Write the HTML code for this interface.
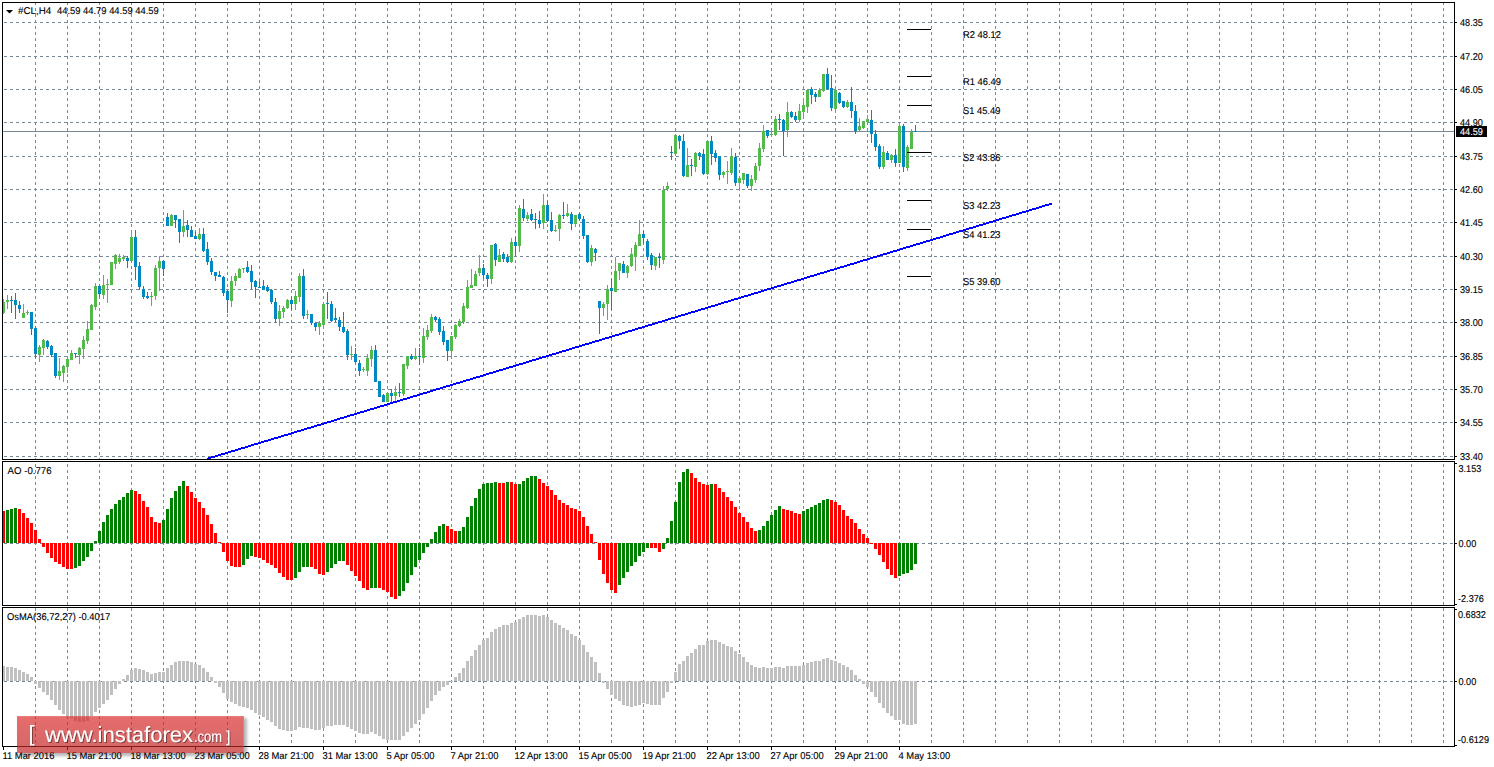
<!DOCTYPE html>
<html><head><meta charset="utf-8"><title>#CL,H4</title>
<style>html,body{margin:0;padding:0;background:#fff;width:1494px;height:767px;overflow:hidden}svg{display:block}text{font-family:"Liberation Sans",sans-serif;text-rendering:geometricPrecision}</style>
</head><body><svg width="1494" height="767" viewBox="0 0 1494 767" shape-rendering="crispEdges" font-family="Liberation Sans, sans-serif"><path d="M35 3h1v2h-1zM35 8h1v3h-1zM35 14h1v3h-1zM35 20h1v3h-1zM35 26h1v3h-1zM35 32h1v3h-1zM35 38h1v3h-1zM35 44h1v3h-1zM35 50h1v3h-1zM35 56h1v3h-1zM35 62h1v3h-1zM35 68h1v3h-1zM35 74h1v3h-1zM35 80h1v3h-1zM35 86h1v3h-1zM35 92h1v3h-1zM35 98h1v3h-1zM35 104h1v3h-1zM35 110h1v3h-1zM35 116h1v3h-1zM35 122h1v3h-1zM35 128h1v3h-1zM35 134h1v3h-1zM35 140h1v3h-1zM35 146h1v3h-1zM35 152h1v3h-1zM35 158h1v3h-1zM35 164h1v3h-1zM35 170h1v3h-1zM35 176h1v3h-1zM35 182h1v3h-1zM35 188h1v3h-1zM35 194h1v3h-1zM35 200h1v3h-1zM35 206h1v3h-1zM35 212h1v3h-1zM35 218h1v3h-1zM35 224h1v3h-1zM35 230h1v3h-1zM35 236h1v3h-1zM35 242h1v3h-1zM35 248h1v3h-1zM35 254h1v3h-1zM35 260h1v3h-1zM35 266h1v3h-1zM35 272h1v3h-1zM35 278h1v3h-1zM35 284h1v3h-1zM35 290h1v3h-1zM35 296h1v3h-1zM35 302h1v3h-1zM35 308h1v3h-1zM35 314h1v3h-1zM35 320h1v3h-1zM35 326h1v3h-1zM35 332h1v3h-1zM35 338h1v3h-1zM35 344h1v3h-1zM35 350h1v3h-1zM35 356h1v3h-1zM35 362h1v3h-1zM35 368h1v3h-1zM35 374h1v3h-1zM35 380h1v3h-1zM35 386h1v3h-1zM35 392h1v3h-1zM35 398h1v3h-1zM35 404h1v3h-1zM35 410h1v3h-1zM35 416h1v3h-1zM35 422h1v3h-1zM35 428h1v3h-1zM35 434h1v3h-1zM35 440h1v3h-1zM35 446h1v3h-1zM35 452h1v3h-1zM35 458h1v1h-1zM35 464h1v3h-1zM35 470h1v3h-1zM35 476h1v3h-1zM35 482h1v3h-1zM35 488h1v3h-1zM35 494h1v3h-1zM35 500h1v3h-1zM35 506h1v3h-1zM35 512h1v3h-1zM35 518h1v3h-1zM35 524h1v3h-1zM35 530h1v3h-1zM35 536h1v3h-1zM35 542h1v3h-1zM35 548h1v3h-1zM35 554h1v3h-1zM35 560h1v3h-1zM35 566h1v3h-1zM35 572h1v3h-1zM35 578h1v3h-1zM35 584h1v3h-1zM35 590h1v3h-1zM35 596h1v3h-1zM35 602h1v3h-1zM35 608h1v3h-1zM35 614h1v3h-1zM35 620h1v3h-1zM35 626h1v3h-1zM35 632h1v3h-1zM35 638h1v3h-1zM35 644h1v3h-1zM35 650h1v3h-1zM35 656h1v3h-1zM35 662h1v3h-1zM35 668h1v3h-1zM35 674h1v3h-1zM35 680h1v3h-1zM35 686h1v3h-1zM35 692h1v3h-1zM35 698h1v3h-1zM35 704h1v3h-1zM35 710h1v3h-1zM35 716h1v3h-1zM35 722h1v3h-1zM35 728h1v3h-1zM35 734h1v3h-1zM35 740h1v3h-1zM67 3h1v2h-1zM67 8h1v3h-1zM67 14h1v3h-1zM67 20h1v3h-1zM67 26h1v3h-1zM67 32h1v3h-1zM67 38h1v3h-1zM67 44h1v3h-1zM67 50h1v3h-1zM67 56h1v3h-1zM67 62h1v3h-1zM67 68h1v3h-1zM67 74h1v3h-1zM67 80h1v3h-1zM67 86h1v3h-1zM67 92h1v3h-1zM67 98h1v3h-1zM67 104h1v3h-1zM67 110h1v3h-1zM67 116h1v3h-1zM67 122h1v3h-1zM67 128h1v3h-1zM67 134h1v3h-1zM67 140h1v3h-1zM67 146h1v3h-1zM67 152h1v3h-1zM67 158h1v3h-1zM67 164h1v3h-1zM67 170h1v3h-1zM67 176h1v3h-1zM67 182h1v3h-1zM67 188h1v3h-1zM67 194h1v3h-1zM67 200h1v3h-1zM67 206h1v3h-1zM67 212h1v3h-1zM67 218h1v3h-1zM67 224h1v3h-1zM67 230h1v3h-1zM67 236h1v3h-1zM67 242h1v3h-1zM67 248h1v3h-1zM67 254h1v3h-1zM67 260h1v3h-1zM67 266h1v3h-1zM67 272h1v3h-1zM67 278h1v3h-1zM67 284h1v3h-1zM67 290h1v3h-1zM67 296h1v3h-1zM67 302h1v3h-1zM67 308h1v3h-1zM67 314h1v3h-1zM67 320h1v3h-1zM67 326h1v3h-1zM67 332h1v3h-1zM67 338h1v3h-1zM67 344h1v3h-1zM67 350h1v3h-1zM67 356h1v3h-1zM67 362h1v3h-1zM67 368h1v3h-1zM67 374h1v3h-1zM67 380h1v3h-1zM67 386h1v3h-1zM67 392h1v3h-1zM67 398h1v3h-1zM67 404h1v3h-1zM67 410h1v3h-1zM67 416h1v3h-1zM67 422h1v3h-1zM67 428h1v3h-1zM67 434h1v3h-1zM67 440h1v3h-1zM67 446h1v3h-1zM67 452h1v3h-1zM67 458h1v1h-1zM67 464h1v3h-1zM67 470h1v3h-1zM67 476h1v3h-1zM67 482h1v3h-1zM67 488h1v3h-1zM67 494h1v3h-1zM67 500h1v3h-1zM67 506h1v3h-1zM67 512h1v3h-1zM67 518h1v3h-1zM67 524h1v3h-1zM67 530h1v3h-1zM67 536h1v3h-1zM67 542h1v3h-1zM67 548h1v3h-1zM67 554h1v3h-1zM67 560h1v3h-1zM67 566h1v3h-1zM67 572h1v3h-1zM67 578h1v3h-1zM67 584h1v3h-1zM67 590h1v3h-1zM67 596h1v3h-1zM67 602h1v3h-1zM67 608h1v3h-1zM67 614h1v3h-1zM67 620h1v3h-1zM67 626h1v3h-1zM67 632h1v3h-1zM67 638h1v3h-1zM67 644h1v3h-1zM67 650h1v3h-1zM67 656h1v3h-1zM67 662h1v3h-1zM67 668h1v3h-1zM67 674h1v3h-1zM67 680h1v3h-1zM67 686h1v3h-1zM67 692h1v3h-1zM67 698h1v3h-1zM67 704h1v3h-1zM67 710h1v3h-1zM67 716h1v3h-1zM67 722h1v3h-1zM67 728h1v3h-1zM67 734h1v3h-1zM67 740h1v3h-1zM99 3h1v2h-1zM99 8h1v3h-1zM99 14h1v3h-1zM99 20h1v3h-1zM99 26h1v3h-1zM99 32h1v3h-1zM99 38h1v3h-1zM99 44h1v3h-1zM99 50h1v3h-1zM99 56h1v3h-1zM99 62h1v3h-1zM99 68h1v3h-1zM99 74h1v3h-1zM99 80h1v3h-1zM99 86h1v3h-1zM99 92h1v3h-1zM99 98h1v3h-1zM99 104h1v3h-1zM99 110h1v3h-1zM99 116h1v3h-1zM99 122h1v3h-1zM99 128h1v3h-1zM99 134h1v3h-1zM99 140h1v3h-1zM99 146h1v3h-1zM99 152h1v3h-1zM99 158h1v3h-1zM99 164h1v3h-1zM99 170h1v3h-1zM99 176h1v3h-1zM99 182h1v3h-1zM99 188h1v3h-1zM99 194h1v3h-1zM99 200h1v3h-1zM99 206h1v3h-1zM99 212h1v3h-1zM99 218h1v3h-1zM99 224h1v3h-1zM99 230h1v3h-1zM99 236h1v3h-1zM99 242h1v3h-1zM99 248h1v3h-1zM99 254h1v3h-1zM99 260h1v3h-1zM99 266h1v3h-1zM99 272h1v3h-1zM99 278h1v3h-1zM99 284h1v3h-1zM99 290h1v3h-1zM99 296h1v3h-1zM99 302h1v3h-1zM99 308h1v3h-1zM99 314h1v3h-1zM99 320h1v3h-1zM99 326h1v3h-1zM99 332h1v3h-1zM99 338h1v3h-1zM99 344h1v3h-1zM99 350h1v3h-1zM99 356h1v3h-1zM99 362h1v3h-1zM99 368h1v3h-1zM99 374h1v3h-1zM99 380h1v3h-1zM99 386h1v3h-1zM99 392h1v3h-1zM99 398h1v3h-1zM99 404h1v3h-1zM99 410h1v3h-1zM99 416h1v3h-1zM99 422h1v3h-1zM99 428h1v3h-1zM99 434h1v3h-1zM99 440h1v3h-1zM99 446h1v3h-1zM99 452h1v3h-1zM99 458h1v1h-1zM99 464h1v3h-1zM99 470h1v3h-1zM99 476h1v3h-1zM99 482h1v3h-1zM99 488h1v3h-1zM99 494h1v3h-1zM99 500h1v3h-1zM99 506h1v3h-1zM99 512h1v3h-1zM99 518h1v3h-1zM99 524h1v3h-1zM99 530h1v3h-1zM99 536h1v3h-1zM99 542h1v3h-1zM99 548h1v3h-1zM99 554h1v3h-1zM99 560h1v3h-1zM99 566h1v3h-1zM99 572h1v3h-1zM99 578h1v3h-1zM99 584h1v3h-1zM99 590h1v3h-1zM99 596h1v3h-1zM99 602h1v3h-1zM99 608h1v3h-1zM99 614h1v3h-1zM99 620h1v3h-1zM99 626h1v3h-1zM99 632h1v3h-1zM99 638h1v3h-1zM99 644h1v3h-1zM99 650h1v3h-1zM99 656h1v3h-1zM99 662h1v3h-1zM99 668h1v3h-1zM99 674h1v3h-1zM99 680h1v3h-1zM99 686h1v3h-1zM99 692h1v3h-1zM99 698h1v3h-1zM99 704h1v3h-1zM99 710h1v3h-1zM99 716h1v3h-1zM99 722h1v3h-1zM99 728h1v3h-1zM99 734h1v3h-1zM99 740h1v3h-1zM131 3h1v2h-1zM131 8h1v3h-1zM131 14h1v3h-1zM131 20h1v3h-1zM131 26h1v3h-1zM131 32h1v3h-1zM131 38h1v3h-1zM131 44h1v3h-1zM131 50h1v3h-1zM131 56h1v3h-1zM131 62h1v3h-1zM131 68h1v3h-1zM131 74h1v3h-1zM131 80h1v3h-1zM131 86h1v3h-1zM131 92h1v3h-1zM131 98h1v3h-1zM131 104h1v3h-1zM131 110h1v3h-1zM131 116h1v3h-1zM131 122h1v3h-1zM131 128h1v3h-1zM131 134h1v3h-1zM131 140h1v3h-1zM131 146h1v3h-1zM131 152h1v3h-1zM131 158h1v3h-1zM131 164h1v3h-1zM131 170h1v3h-1zM131 176h1v3h-1zM131 182h1v3h-1zM131 188h1v3h-1zM131 194h1v3h-1zM131 200h1v3h-1zM131 206h1v3h-1zM131 212h1v3h-1zM131 218h1v3h-1zM131 224h1v3h-1zM131 230h1v3h-1zM131 236h1v3h-1zM131 242h1v3h-1zM131 248h1v3h-1zM131 254h1v3h-1zM131 260h1v3h-1zM131 266h1v3h-1zM131 272h1v3h-1zM131 278h1v3h-1zM131 284h1v3h-1zM131 290h1v3h-1zM131 296h1v3h-1zM131 302h1v3h-1zM131 308h1v3h-1zM131 314h1v3h-1zM131 320h1v3h-1zM131 326h1v3h-1zM131 332h1v3h-1zM131 338h1v3h-1zM131 344h1v3h-1zM131 350h1v3h-1zM131 356h1v3h-1zM131 362h1v3h-1zM131 368h1v3h-1zM131 374h1v3h-1zM131 380h1v3h-1zM131 386h1v3h-1zM131 392h1v3h-1zM131 398h1v3h-1zM131 404h1v3h-1zM131 410h1v3h-1zM131 416h1v3h-1zM131 422h1v3h-1zM131 428h1v3h-1zM131 434h1v3h-1zM131 440h1v3h-1zM131 446h1v3h-1zM131 452h1v3h-1zM131 458h1v1h-1zM131 464h1v3h-1zM131 470h1v3h-1zM131 476h1v3h-1zM131 482h1v3h-1zM131 488h1v3h-1zM131 494h1v3h-1zM131 500h1v3h-1zM131 506h1v3h-1zM131 512h1v3h-1zM131 518h1v3h-1zM131 524h1v3h-1zM131 530h1v3h-1zM131 536h1v3h-1zM131 542h1v3h-1zM131 548h1v3h-1zM131 554h1v3h-1zM131 560h1v3h-1zM131 566h1v3h-1zM131 572h1v3h-1zM131 578h1v3h-1zM131 584h1v3h-1zM131 590h1v3h-1zM131 596h1v3h-1zM131 602h1v3h-1zM131 608h1v3h-1zM131 614h1v3h-1zM131 620h1v3h-1zM131 626h1v3h-1zM131 632h1v3h-1zM131 638h1v3h-1zM131 644h1v3h-1zM131 650h1v3h-1zM131 656h1v3h-1zM131 662h1v3h-1zM131 668h1v3h-1zM131 674h1v3h-1zM131 680h1v3h-1zM131 686h1v3h-1zM131 692h1v3h-1zM131 698h1v3h-1zM131 704h1v3h-1zM131 710h1v3h-1zM131 716h1v3h-1zM131 722h1v3h-1zM131 728h1v3h-1zM131 734h1v3h-1zM131 740h1v3h-1zM163 3h1v2h-1zM163 8h1v3h-1zM163 14h1v3h-1zM163 20h1v3h-1zM163 26h1v3h-1zM163 32h1v3h-1zM163 38h1v3h-1zM163 44h1v3h-1zM163 50h1v3h-1zM163 56h1v3h-1zM163 62h1v3h-1zM163 68h1v3h-1zM163 74h1v3h-1zM163 80h1v3h-1zM163 86h1v3h-1zM163 92h1v3h-1zM163 98h1v3h-1zM163 104h1v3h-1zM163 110h1v3h-1zM163 116h1v3h-1zM163 122h1v3h-1zM163 128h1v3h-1zM163 134h1v3h-1zM163 140h1v3h-1zM163 146h1v3h-1zM163 152h1v3h-1zM163 158h1v3h-1zM163 164h1v3h-1zM163 170h1v3h-1zM163 176h1v3h-1zM163 182h1v3h-1zM163 188h1v3h-1zM163 194h1v3h-1zM163 200h1v3h-1zM163 206h1v3h-1zM163 212h1v3h-1zM163 218h1v3h-1zM163 224h1v3h-1zM163 230h1v3h-1zM163 236h1v3h-1zM163 242h1v3h-1zM163 248h1v3h-1zM163 254h1v3h-1zM163 260h1v3h-1zM163 266h1v3h-1zM163 272h1v3h-1zM163 278h1v3h-1zM163 284h1v3h-1zM163 290h1v3h-1zM163 296h1v3h-1zM163 302h1v3h-1zM163 308h1v3h-1zM163 314h1v3h-1zM163 320h1v3h-1zM163 326h1v3h-1zM163 332h1v3h-1zM163 338h1v3h-1zM163 344h1v3h-1zM163 350h1v3h-1zM163 356h1v3h-1zM163 362h1v3h-1zM163 368h1v3h-1zM163 374h1v3h-1zM163 380h1v3h-1zM163 386h1v3h-1zM163 392h1v3h-1zM163 398h1v3h-1zM163 404h1v3h-1zM163 410h1v3h-1zM163 416h1v3h-1zM163 422h1v3h-1zM163 428h1v3h-1zM163 434h1v3h-1zM163 440h1v3h-1zM163 446h1v3h-1zM163 452h1v3h-1zM163 458h1v1h-1zM163 464h1v3h-1zM163 470h1v3h-1zM163 476h1v3h-1zM163 482h1v3h-1zM163 488h1v3h-1zM163 494h1v3h-1zM163 500h1v3h-1zM163 506h1v3h-1zM163 512h1v3h-1zM163 518h1v3h-1zM163 524h1v3h-1zM163 530h1v3h-1zM163 536h1v3h-1zM163 542h1v3h-1zM163 548h1v3h-1zM163 554h1v3h-1zM163 560h1v3h-1zM163 566h1v3h-1zM163 572h1v3h-1zM163 578h1v3h-1zM163 584h1v3h-1zM163 590h1v3h-1zM163 596h1v3h-1zM163 602h1v3h-1zM163 608h1v3h-1zM163 614h1v3h-1zM163 620h1v3h-1zM163 626h1v3h-1zM163 632h1v3h-1zM163 638h1v3h-1zM163 644h1v3h-1zM163 650h1v3h-1zM163 656h1v3h-1zM163 662h1v3h-1zM163 668h1v3h-1zM163 674h1v3h-1zM163 680h1v3h-1zM163 686h1v3h-1zM163 692h1v3h-1zM163 698h1v3h-1zM163 704h1v3h-1zM163 710h1v3h-1zM163 716h1v3h-1zM163 722h1v3h-1zM163 728h1v3h-1zM163 734h1v3h-1zM163 740h1v3h-1zM195 3h1v2h-1zM195 8h1v3h-1zM195 14h1v3h-1zM195 20h1v3h-1zM195 26h1v3h-1zM195 32h1v3h-1zM195 38h1v3h-1zM195 44h1v3h-1zM195 50h1v3h-1zM195 56h1v3h-1zM195 62h1v3h-1zM195 68h1v3h-1zM195 74h1v3h-1zM195 80h1v3h-1zM195 86h1v3h-1zM195 92h1v3h-1zM195 98h1v3h-1zM195 104h1v3h-1zM195 110h1v3h-1zM195 116h1v3h-1zM195 122h1v3h-1zM195 128h1v3h-1zM195 134h1v3h-1zM195 140h1v3h-1zM195 146h1v3h-1zM195 152h1v3h-1zM195 158h1v3h-1zM195 164h1v3h-1zM195 170h1v3h-1zM195 176h1v3h-1zM195 182h1v3h-1zM195 188h1v3h-1zM195 194h1v3h-1zM195 200h1v3h-1zM195 206h1v3h-1zM195 212h1v3h-1zM195 218h1v3h-1zM195 224h1v3h-1zM195 230h1v3h-1zM195 236h1v3h-1zM195 242h1v3h-1zM195 248h1v3h-1zM195 254h1v3h-1zM195 260h1v3h-1zM195 266h1v3h-1zM195 272h1v3h-1zM195 278h1v3h-1zM195 284h1v3h-1zM195 290h1v3h-1zM195 296h1v3h-1zM195 302h1v3h-1zM195 308h1v3h-1zM195 314h1v3h-1zM195 320h1v3h-1zM195 326h1v3h-1zM195 332h1v3h-1zM195 338h1v3h-1zM195 344h1v3h-1zM195 350h1v3h-1zM195 356h1v3h-1zM195 362h1v3h-1zM195 368h1v3h-1zM195 374h1v3h-1zM195 380h1v3h-1zM195 386h1v3h-1zM195 392h1v3h-1zM195 398h1v3h-1zM195 404h1v3h-1zM195 410h1v3h-1zM195 416h1v3h-1zM195 422h1v3h-1zM195 428h1v3h-1zM195 434h1v3h-1zM195 440h1v3h-1zM195 446h1v3h-1zM195 452h1v3h-1zM195 458h1v1h-1zM195 464h1v3h-1zM195 470h1v3h-1zM195 476h1v3h-1zM195 482h1v3h-1zM195 488h1v3h-1zM195 494h1v3h-1zM195 500h1v3h-1zM195 506h1v3h-1zM195 512h1v3h-1zM195 518h1v3h-1zM195 524h1v3h-1zM195 530h1v3h-1zM195 536h1v3h-1zM195 542h1v3h-1zM195 548h1v3h-1zM195 554h1v3h-1zM195 560h1v3h-1zM195 566h1v3h-1zM195 572h1v3h-1zM195 578h1v3h-1zM195 584h1v3h-1zM195 590h1v3h-1zM195 596h1v3h-1zM195 602h1v3h-1zM195 608h1v3h-1zM195 614h1v3h-1zM195 620h1v3h-1zM195 626h1v3h-1zM195 632h1v3h-1zM195 638h1v3h-1zM195 644h1v3h-1zM195 650h1v3h-1zM195 656h1v3h-1zM195 662h1v3h-1zM195 668h1v3h-1zM195 674h1v3h-1zM195 680h1v3h-1zM195 686h1v3h-1zM195 692h1v3h-1zM195 698h1v3h-1zM195 704h1v3h-1zM195 710h1v3h-1zM195 716h1v3h-1zM195 722h1v3h-1zM195 728h1v3h-1zM195 734h1v3h-1zM195 740h1v3h-1zM227 3h1v2h-1zM227 8h1v3h-1zM227 14h1v3h-1zM227 20h1v3h-1zM227 26h1v3h-1zM227 32h1v3h-1zM227 38h1v3h-1zM227 44h1v3h-1zM227 50h1v3h-1zM227 56h1v3h-1zM227 62h1v3h-1zM227 68h1v3h-1zM227 74h1v3h-1zM227 80h1v3h-1zM227 86h1v3h-1zM227 92h1v3h-1zM227 98h1v3h-1zM227 104h1v3h-1zM227 110h1v3h-1zM227 116h1v3h-1zM227 122h1v3h-1zM227 128h1v3h-1zM227 134h1v3h-1zM227 140h1v3h-1zM227 146h1v3h-1zM227 152h1v3h-1zM227 158h1v3h-1zM227 164h1v3h-1zM227 170h1v3h-1zM227 176h1v3h-1zM227 182h1v3h-1zM227 188h1v3h-1zM227 194h1v3h-1zM227 200h1v3h-1zM227 206h1v3h-1zM227 212h1v3h-1zM227 218h1v3h-1zM227 224h1v3h-1zM227 230h1v3h-1zM227 236h1v3h-1zM227 242h1v3h-1zM227 248h1v3h-1zM227 254h1v3h-1zM227 260h1v3h-1zM227 266h1v3h-1zM227 272h1v3h-1zM227 278h1v3h-1zM227 284h1v3h-1zM227 290h1v3h-1zM227 296h1v3h-1zM227 302h1v3h-1zM227 308h1v3h-1zM227 314h1v3h-1zM227 320h1v3h-1zM227 326h1v3h-1zM227 332h1v3h-1zM227 338h1v3h-1zM227 344h1v3h-1zM227 350h1v3h-1zM227 356h1v3h-1zM227 362h1v3h-1zM227 368h1v3h-1zM227 374h1v3h-1zM227 380h1v3h-1zM227 386h1v3h-1zM227 392h1v3h-1zM227 398h1v3h-1zM227 404h1v3h-1zM227 410h1v3h-1zM227 416h1v3h-1zM227 422h1v3h-1zM227 428h1v3h-1zM227 434h1v3h-1zM227 440h1v3h-1zM227 446h1v3h-1zM227 452h1v3h-1zM227 458h1v1h-1zM227 464h1v3h-1zM227 470h1v3h-1zM227 476h1v3h-1zM227 482h1v3h-1zM227 488h1v3h-1zM227 494h1v3h-1zM227 500h1v3h-1zM227 506h1v3h-1zM227 512h1v3h-1zM227 518h1v3h-1zM227 524h1v3h-1zM227 530h1v3h-1zM227 536h1v3h-1zM227 542h1v3h-1zM227 548h1v3h-1zM227 554h1v3h-1zM227 560h1v3h-1zM227 566h1v3h-1zM227 572h1v3h-1zM227 578h1v3h-1zM227 584h1v3h-1zM227 590h1v3h-1zM227 596h1v3h-1zM227 602h1v3h-1zM227 608h1v3h-1zM227 614h1v3h-1zM227 620h1v3h-1zM227 626h1v3h-1zM227 632h1v3h-1zM227 638h1v3h-1zM227 644h1v3h-1zM227 650h1v3h-1zM227 656h1v3h-1zM227 662h1v3h-1zM227 668h1v3h-1zM227 674h1v3h-1zM227 680h1v3h-1zM227 686h1v3h-1zM227 692h1v3h-1zM227 698h1v3h-1zM227 704h1v3h-1zM227 710h1v3h-1zM227 716h1v3h-1zM227 722h1v3h-1zM227 728h1v3h-1zM227 734h1v3h-1zM227 740h1v3h-1zM259 3h1v2h-1zM259 8h1v3h-1zM259 14h1v3h-1zM259 20h1v3h-1zM259 26h1v3h-1zM259 32h1v3h-1zM259 38h1v3h-1zM259 44h1v3h-1zM259 50h1v3h-1zM259 56h1v3h-1zM259 62h1v3h-1zM259 68h1v3h-1zM259 74h1v3h-1zM259 80h1v3h-1zM259 86h1v3h-1zM259 92h1v3h-1zM259 98h1v3h-1zM259 104h1v3h-1zM259 110h1v3h-1zM259 116h1v3h-1zM259 122h1v3h-1zM259 128h1v3h-1zM259 134h1v3h-1zM259 140h1v3h-1zM259 146h1v3h-1zM259 152h1v3h-1zM259 158h1v3h-1zM259 164h1v3h-1zM259 170h1v3h-1zM259 176h1v3h-1zM259 182h1v3h-1zM259 188h1v3h-1zM259 194h1v3h-1zM259 200h1v3h-1zM259 206h1v3h-1zM259 212h1v3h-1zM259 218h1v3h-1zM259 224h1v3h-1zM259 230h1v3h-1zM259 236h1v3h-1zM259 242h1v3h-1zM259 248h1v3h-1zM259 254h1v3h-1zM259 260h1v3h-1zM259 266h1v3h-1zM259 272h1v3h-1zM259 278h1v3h-1zM259 284h1v3h-1zM259 290h1v3h-1zM259 296h1v3h-1zM259 302h1v3h-1zM259 308h1v3h-1zM259 314h1v3h-1zM259 320h1v3h-1zM259 326h1v3h-1zM259 332h1v3h-1zM259 338h1v3h-1zM259 344h1v3h-1zM259 350h1v3h-1zM259 356h1v3h-1zM259 362h1v3h-1zM259 368h1v3h-1zM259 374h1v3h-1zM259 380h1v3h-1zM259 386h1v3h-1zM259 392h1v3h-1zM259 398h1v3h-1zM259 404h1v3h-1zM259 410h1v3h-1zM259 416h1v3h-1zM259 422h1v3h-1zM259 428h1v3h-1zM259 434h1v3h-1zM259 440h1v3h-1zM259 446h1v3h-1zM259 452h1v3h-1zM259 458h1v1h-1zM259 464h1v3h-1zM259 470h1v3h-1zM259 476h1v3h-1zM259 482h1v3h-1zM259 488h1v3h-1zM259 494h1v3h-1zM259 500h1v3h-1zM259 506h1v3h-1zM259 512h1v3h-1zM259 518h1v3h-1zM259 524h1v3h-1zM259 530h1v3h-1zM259 536h1v3h-1zM259 542h1v3h-1zM259 548h1v3h-1zM259 554h1v3h-1zM259 560h1v3h-1zM259 566h1v3h-1zM259 572h1v3h-1zM259 578h1v3h-1zM259 584h1v3h-1zM259 590h1v3h-1zM259 596h1v3h-1zM259 602h1v3h-1zM259 608h1v3h-1zM259 614h1v3h-1zM259 620h1v3h-1zM259 626h1v3h-1zM259 632h1v3h-1zM259 638h1v3h-1zM259 644h1v3h-1zM259 650h1v3h-1zM259 656h1v3h-1zM259 662h1v3h-1zM259 668h1v3h-1zM259 674h1v3h-1zM259 680h1v3h-1zM259 686h1v3h-1zM259 692h1v3h-1zM259 698h1v3h-1zM259 704h1v3h-1zM259 710h1v3h-1zM259 716h1v3h-1zM259 722h1v3h-1zM259 728h1v3h-1zM259 734h1v3h-1zM259 740h1v3h-1zM291 3h1v2h-1zM291 8h1v3h-1zM291 14h1v3h-1zM291 20h1v3h-1zM291 26h1v3h-1zM291 32h1v3h-1zM291 38h1v3h-1zM291 44h1v3h-1zM291 50h1v3h-1zM291 56h1v3h-1zM291 62h1v3h-1zM291 68h1v3h-1zM291 74h1v3h-1zM291 80h1v3h-1zM291 86h1v3h-1zM291 92h1v3h-1zM291 98h1v3h-1zM291 104h1v3h-1zM291 110h1v3h-1zM291 116h1v3h-1zM291 122h1v3h-1zM291 128h1v3h-1zM291 134h1v3h-1zM291 140h1v3h-1zM291 146h1v3h-1zM291 152h1v3h-1zM291 158h1v3h-1zM291 164h1v3h-1zM291 170h1v3h-1zM291 176h1v3h-1zM291 182h1v3h-1zM291 188h1v3h-1zM291 194h1v3h-1zM291 200h1v3h-1zM291 206h1v3h-1zM291 212h1v3h-1zM291 218h1v3h-1zM291 224h1v3h-1zM291 230h1v3h-1zM291 236h1v3h-1zM291 242h1v3h-1zM291 248h1v3h-1zM291 254h1v3h-1zM291 260h1v3h-1zM291 266h1v3h-1zM291 272h1v3h-1zM291 278h1v3h-1zM291 284h1v3h-1zM291 290h1v3h-1zM291 296h1v3h-1zM291 302h1v3h-1zM291 308h1v3h-1zM291 314h1v3h-1zM291 320h1v3h-1zM291 326h1v3h-1zM291 332h1v3h-1zM291 338h1v3h-1zM291 344h1v3h-1zM291 350h1v3h-1zM291 356h1v3h-1zM291 362h1v3h-1zM291 368h1v3h-1zM291 374h1v3h-1zM291 380h1v3h-1zM291 386h1v3h-1zM291 392h1v3h-1zM291 398h1v3h-1zM291 404h1v3h-1zM291 410h1v3h-1zM291 416h1v3h-1zM291 422h1v3h-1zM291 428h1v3h-1zM291 434h1v3h-1zM291 440h1v3h-1zM291 446h1v3h-1zM291 452h1v3h-1zM291 458h1v1h-1zM291 464h1v3h-1zM291 470h1v3h-1zM291 476h1v3h-1zM291 482h1v3h-1zM291 488h1v3h-1zM291 494h1v3h-1zM291 500h1v3h-1zM291 506h1v3h-1zM291 512h1v3h-1zM291 518h1v3h-1zM291 524h1v3h-1zM291 530h1v3h-1zM291 536h1v3h-1zM291 542h1v3h-1zM291 548h1v3h-1zM291 554h1v3h-1zM291 560h1v3h-1zM291 566h1v3h-1zM291 572h1v3h-1zM291 578h1v3h-1zM291 584h1v3h-1zM291 590h1v3h-1zM291 596h1v3h-1zM291 602h1v3h-1zM291 608h1v3h-1zM291 614h1v3h-1zM291 620h1v3h-1zM291 626h1v3h-1zM291 632h1v3h-1zM291 638h1v3h-1zM291 644h1v3h-1zM291 650h1v3h-1zM291 656h1v3h-1zM291 662h1v3h-1zM291 668h1v3h-1zM291 674h1v3h-1zM291 680h1v3h-1zM291 686h1v3h-1zM291 692h1v3h-1zM291 698h1v3h-1zM291 704h1v3h-1zM291 710h1v3h-1zM291 716h1v3h-1zM291 722h1v3h-1zM291 728h1v3h-1zM291 734h1v3h-1zM291 740h1v3h-1zM323 3h1v2h-1zM323 8h1v3h-1zM323 14h1v3h-1zM323 20h1v3h-1zM323 26h1v3h-1zM323 32h1v3h-1zM323 38h1v3h-1zM323 44h1v3h-1zM323 50h1v3h-1zM323 56h1v3h-1zM323 62h1v3h-1zM323 68h1v3h-1zM323 74h1v3h-1zM323 80h1v3h-1zM323 86h1v3h-1zM323 92h1v3h-1zM323 98h1v3h-1zM323 104h1v3h-1zM323 110h1v3h-1zM323 116h1v3h-1zM323 122h1v3h-1zM323 128h1v3h-1zM323 134h1v3h-1zM323 140h1v3h-1zM323 146h1v3h-1zM323 152h1v3h-1zM323 158h1v3h-1zM323 164h1v3h-1zM323 170h1v3h-1zM323 176h1v3h-1zM323 182h1v3h-1zM323 188h1v3h-1zM323 194h1v3h-1zM323 200h1v3h-1zM323 206h1v3h-1zM323 212h1v3h-1zM323 218h1v3h-1zM323 224h1v3h-1zM323 230h1v3h-1zM323 236h1v3h-1zM323 242h1v3h-1zM323 248h1v3h-1zM323 254h1v3h-1zM323 260h1v3h-1zM323 266h1v3h-1zM323 272h1v3h-1zM323 278h1v3h-1zM323 284h1v3h-1zM323 290h1v3h-1zM323 296h1v3h-1zM323 302h1v3h-1zM323 308h1v3h-1zM323 314h1v3h-1zM323 320h1v3h-1zM323 326h1v3h-1zM323 332h1v3h-1zM323 338h1v3h-1zM323 344h1v3h-1zM323 350h1v3h-1zM323 356h1v3h-1zM323 362h1v3h-1zM323 368h1v3h-1zM323 374h1v3h-1zM323 380h1v3h-1zM323 386h1v3h-1zM323 392h1v3h-1zM323 398h1v3h-1zM323 404h1v3h-1zM323 410h1v3h-1zM323 416h1v3h-1zM323 422h1v3h-1zM323 428h1v3h-1zM323 434h1v3h-1zM323 440h1v3h-1zM323 446h1v3h-1zM323 452h1v3h-1zM323 458h1v1h-1zM323 464h1v3h-1zM323 470h1v3h-1zM323 476h1v3h-1zM323 482h1v3h-1zM323 488h1v3h-1zM323 494h1v3h-1zM323 500h1v3h-1zM323 506h1v3h-1zM323 512h1v3h-1zM323 518h1v3h-1zM323 524h1v3h-1zM323 530h1v3h-1zM323 536h1v3h-1zM323 542h1v3h-1zM323 548h1v3h-1zM323 554h1v3h-1zM323 560h1v3h-1zM323 566h1v3h-1zM323 572h1v3h-1zM323 578h1v3h-1zM323 584h1v3h-1zM323 590h1v3h-1zM323 596h1v3h-1zM323 602h1v3h-1zM323 608h1v3h-1zM323 614h1v3h-1zM323 620h1v3h-1zM323 626h1v3h-1zM323 632h1v3h-1zM323 638h1v3h-1zM323 644h1v3h-1zM323 650h1v3h-1zM323 656h1v3h-1zM323 662h1v3h-1zM323 668h1v3h-1zM323 674h1v3h-1zM323 680h1v3h-1zM323 686h1v3h-1zM323 692h1v3h-1zM323 698h1v3h-1zM323 704h1v3h-1zM323 710h1v3h-1zM323 716h1v3h-1zM323 722h1v3h-1zM323 728h1v3h-1zM323 734h1v3h-1zM323 740h1v3h-1zM355 3h1v2h-1zM355 8h1v3h-1zM355 14h1v3h-1zM355 20h1v3h-1zM355 26h1v3h-1zM355 32h1v3h-1zM355 38h1v3h-1zM355 44h1v3h-1zM355 50h1v3h-1zM355 56h1v3h-1zM355 62h1v3h-1zM355 68h1v3h-1zM355 74h1v3h-1zM355 80h1v3h-1zM355 86h1v3h-1zM355 92h1v3h-1zM355 98h1v3h-1zM355 104h1v3h-1zM355 110h1v3h-1zM355 116h1v3h-1zM355 122h1v3h-1zM355 128h1v3h-1zM355 134h1v3h-1zM355 140h1v3h-1zM355 146h1v3h-1zM355 152h1v3h-1zM355 158h1v3h-1zM355 164h1v3h-1zM355 170h1v3h-1zM355 176h1v3h-1zM355 182h1v3h-1zM355 188h1v3h-1zM355 194h1v3h-1zM355 200h1v3h-1zM355 206h1v3h-1zM355 212h1v3h-1zM355 218h1v3h-1zM355 224h1v3h-1zM355 230h1v3h-1zM355 236h1v3h-1zM355 242h1v3h-1zM355 248h1v3h-1zM355 254h1v3h-1zM355 260h1v3h-1zM355 266h1v3h-1zM355 272h1v3h-1zM355 278h1v3h-1zM355 284h1v3h-1zM355 290h1v3h-1zM355 296h1v3h-1zM355 302h1v3h-1zM355 308h1v3h-1zM355 314h1v3h-1zM355 320h1v3h-1zM355 326h1v3h-1zM355 332h1v3h-1zM355 338h1v3h-1zM355 344h1v3h-1zM355 350h1v3h-1zM355 356h1v3h-1zM355 362h1v3h-1zM355 368h1v3h-1zM355 374h1v3h-1zM355 380h1v3h-1zM355 386h1v3h-1zM355 392h1v3h-1zM355 398h1v3h-1zM355 404h1v3h-1zM355 410h1v3h-1zM355 416h1v3h-1zM355 422h1v3h-1zM355 428h1v3h-1zM355 434h1v3h-1zM355 440h1v3h-1zM355 446h1v3h-1zM355 452h1v3h-1zM355 458h1v1h-1zM355 464h1v3h-1zM355 470h1v3h-1zM355 476h1v3h-1zM355 482h1v3h-1zM355 488h1v3h-1zM355 494h1v3h-1zM355 500h1v3h-1zM355 506h1v3h-1zM355 512h1v3h-1zM355 518h1v3h-1zM355 524h1v3h-1zM355 530h1v3h-1zM355 536h1v3h-1zM355 542h1v3h-1zM355 548h1v3h-1zM355 554h1v3h-1zM355 560h1v3h-1zM355 566h1v3h-1zM355 572h1v3h-1zM355 578h1v3h-1zM355 584h1v3h-1zM355 590h1v3h-1zM355 596h1v3h-1zM355 602h1v3h-1zM355 608h1v3h-1zM355 614h1v3h-1zM355 620h1v3h-1zM355 626h1v3h-1zM355 632h1v3h-1zM355 638h1v3h-1zM355 644h1v3h-1zM355 650h1v3h-1zM355 656h1v3h-1zM355 662h1v3h-1zM355 668h1v3h-1zM355 674h1v3h-1zM355 680h1v3h-1zM355 686h1v3h-1zM355 692h1v3h-1zM355 698h1v3h-1zM355 704h1v3h-1zM355 710h1v3h-1zM355 716h1v3h-1zM355 722h1v3h-1zM355 728h1v3h-1zM355 734h1v3h-1zM355 740h1v3h-1zM387 3h1v2h-1zM387 8h1v3h-1zM387 14h1v3h-1zM387 20h1v3h-1zM387 26h1v3h-1zM387 32h1v3h-1zM387 38h1v3h-1zM387 44h1v3h-1zM387 50h1v3h-1zM387 56h1v3h-1zM387 62h1v3h-1zM387 68h1v3h-1zM387 74h1v3h-1zM387 80h1v3h-1zM387 86h1v3h-1zM387 92h1v3h-1zM387 98h1v3h-1zM387 104h1v3h-1zM387 110h1v3h-1zM387 116h1v3h-1zM387 122h1v3h-1zM387 128h1v3h-1zM387 134h1v3h-1zM387 140h1v3h-1zM387 146h1v3h-1zM387 152h1v3h-1zM387 158h1v3h-1zM387 164h1v3h-1zM387 170h1v3h-1zM387 176h1v3h-1zM387 182h1v3h-1zM387 188h1v3h-1zM387 194h1v3h-1zM387 200h1v3h-1zM387 206h1v3h-1zM387 212h1v3h-1zM387 218h1v3h-1zM387 224h1v3h-1zM387 230h1v3h-1zM387 236h1v3h-1zM387 242h1v3h-1zM387 248h1v3h-1zM387 254h1v3h-1zM387 260h1v3h-1zM387 266h1v3h-1zM387 272h1v3h-1zM387 278h1v3h-1zM387 284h1v3h-1zM387 290h1v3h-1zM387 296h1v3h-1zM387 302h1v3h-1zM387 308h1v3h-1zM387 314h1v3h-1zM387 320h1v3h-1zM387 326h1v3h-1zM387 332h1v3h-1zM387 338h1v3h-1zM387 344h1v3h-1zM387 350h1v3h-1zM387 356h1v3h-1zM387 362h1v3h-1zM387 368h1v3h-1zM387 374h1v3h-1zM387 380h1v3h-1zM387 386h1v3h-1zM387 392h1v3h-1zM387 398h1v3h-1zM387 404h1v3h-1zM387 410h1v3h-1zM387 416h1v3h-1zM387 422h1v3h-1zM387 428h1v3h-1zM387 434h1v3h-1zM387 440h1v3h-1zM387 446h1v3h-1zM387 452h1v3h-1zM387 458h1v1h-1zM387 464h1v3h-1zM387 470h1v3h-1zM387 476h1v3h-1zM387 482h1v3h-1zM387 488h1v3h-1zM387 494h1v3h-1zM387 500h1v3h-1zM387 506h1v3h-1zM387 512h1v3h-1zM387 518h1v3h-1zM387 524h1v3h-1zM387 530h1v3h-1zM387 536h1v3h-1zM387 542h1v3h-1zM387 548h1v3h-1zM387 554h1v3h-1zM387 560h1v3h-1zM387 566h1v3h-1zM387 572h1v3h-1zM387 578h1v3h-1zM387 584h1v3h-1zM387 590h1v3h-1zM387 596h1v3h-1zM387 602h1v3h-1zM387 608h1v3h-1zM387 614h1v3h-1zM387 620h1v3h-1zM387 626h1v3h-1zM387 632h1v3h-1zM387 638h1v3h-1zM387 644h1v3h-1zM387 650h1v3h-1zM387 656h1v3h-1zM387 662h1v3h-1zM387 668h1v3h-1zM387 674h1v3h-1zM387 680h1v3h-1zM387 686h1v3h-1zM387 692h1v3h-1zM387 698h1v3h-1zM387 704h1v3h-1zM387 710h1v3h-1zM387 716h1v3h-1zM387 722h1v3h-1zM387 728h1v3h-1zM387 734h1v3h-1zM387 740h1v3h-1zM419 3h1v2h-1zM419 8h1v3h-1zM419 14h1v3h-1zM419 20h1v3h-1zM419 26h1v3h-1zM419 32h1v3h-1zM419 38h1v3h-1zM419 44h1v3h-1zM419 50h1v3h-1zM419 56h1v3h-1zM419 62h1v3h-1zM419 68h1v3h-1zM419 74h1v3h-1zM419 80h1v3h-1zM419 86h1v3h-1zM419 92h1v3h-1zM419 98h1v3h-1zM419 104h1v3h-1zM419 110h1v3h-1zM419 116h1v3h-1zM419 122h1v3h-1zM419 128h1v3h-1zM419 134h1v3h-1zM419 140h1v3h-1zM419 146h1v3h-1zM419 152h1v3h-1zM419 158h1v3h-1zM419 164h1v3h-1zM419 170h1v3h-1zM419 176h1v3h-1zM419 182h1v3h-1zM419 188h1v3h-1zM419 194h1v3h-1zM419 200h1v3h-1zM419 206h1v3h-1zM419 212h1v3h-1zM419 218h1v3h-1zM419 224h1v3h-1zM419 230h1v3h-1zM419 236h1v3h-1zM419 242h1v3h-1zM419 248h1v3h-1zM419 254h1v3h-1zM419 260h1v3h-1zM419 266h1v3h-1zM419 272h1v3h-1zM419 278h1v3h-1zM419 284h1v3h-1zM419 290h1v3h-1zM419 296h1v3h-1zM419 302h1v3h-1zM419 308h1v3h-1zM419 314h1v3h-1zM419 320h1v3h-1zM419 326h1v3h-1zM419 332h1v3h-1zM419 338h1v3h-1zM419 344h1v3h-1zM419 350h1v3h-1zM419 356h1v3h-1zM419 362h1v3h-1zM419 368h1v3h-1zM419 374h1v3h-1zM419 380h1v3h-1zM419 386h1v3h-1zM419 392h1v3h-1zM419 398h1v3h-1zM419 404h1v3h-1zM419 410h1v3h-1zM419 416h1v3h-1zM419 422h1v3h-1zM419 428h1v3h-1zM419 434h1v3h-1zM419 440h1v3h-1zM419 446h1v3h-1zM419 452h1v3h-1zM419 458h1v1h-1zM419 464h1v3h-1zM419 470h1v3h-1zM419 476h1v3h-1zM419 482h1v3h-1zM419 488h1v3h-1zM419 494h1v3h-1zM419 500h1v3h-1zM419 506h1v3h-1zM419 512h1v3h-1zM419 518h1v3h-1zM419 524h1v3h-1zM419 530h1v3h-1zM419 536h1v3h-1zM419 542h1v3h-1zM419 548h1v3h-1zM419 554h1v3h-1zM419 560h1v3h-1zM419 566h1v3h-1zM419 572h1v3h-1zM419 578h1v3h-1zM419 584h1v3h-1zM419 590h1v3h-1zM419 596h1v3h-1zM419 602h1v3h-1zM419 608h1v3h-1zM419 614h1v3h-1zM419 620h1v3h-1zM419 626h1v3h-1zM419 632h1v3h-1zM419 638h1v3h-1zM419 644h1v3h-1zM419 650h1v3h-1zM419 656h1v3h-1zM419 662h1v3h-1zM419 668h1v3h-1zM419 674h1v3h-1zM419 680h1v3h-1zM419 686h1v3h-1zM419 692h1v3h-1zM419 698h1v3h-1zM419 704h1v3h-1zM419 710h1v3h-1zM419 716h1v3h-1zM419 722h1v3h-1zM419 728h1v3h-1zM419 734h1v3h-1zM419 740h1v3h-1zM451 3h1v2h-1zM451 8h1v3h-1zM451 14h1v3h-1zM451 20h1v3h-1zM451 26h1v3h-1zM451 32h1v3h-1zM451 38h1v3h-1zM451 44h1v3h-1zM451 50h1v3h-1zM451 56h1v3h-1zM451 62h1v3h-1zM451 68h1v3h-1zM451 74h1v3h-1zM451 80h1v3h-1zM451 86h1v3h-1zM451 92h1v3h-1zM451 98h1v3h-1zM451 104h1v3h-1zM451 110h1v3h-1zM451 116h1v3h-1zM451 122h1v3h-1zM451 128h1v3h-1zM451 134h1v3h-1zM451 140h1v3h-1zM451 146h1v3h-1zM451 152h1v3h-1zM451 158h1v3h-1zM451 164h1v3h-1zM451 170h1v3h-1zM451 176h1v3h-1zM451 182h1v3h-1zM451 188h1v3h-1zM451 194h1v3h-1zM451 200h1v3h-1zM451 206h1v3h-1zM451 212h1v3h-1zM451 218h1v3h-1zM451 224h1v3h-1zM451 230h1v3h-1zM451 236h1v3h-1zM451 242h1v3h-1zM451 248h1v3h-1zM451 254h1v3h-1zM451 260h1v3h-1zM451 266h1v3h-1zM451 272h1v3h-1zM451 278h1v3h-1zM451 284h1v3h-1zM451 290h1v3h-1zM451 296h1v3h-1zM451 302h1v3h-1zM451 308h1v3h-1zM451 314h1v3h-1zM451 320h1v3h-1zM451 326h1v3h-1zM451 332h1v3h-1zM451 338h1v3h-1zM451 344h1v3h-1zM451 350h1v3h-1zM451 356h1v3h-1zM451 362h1v3h-1zM451 368h1v3h-1zM451 374h1v3h-1zM451 380h1v3h-1zM451 386h1v3h-1zM451 392h1v3h-1zM451 398h1v3h-1zM451 404h1v3h-1zM451 410h1v3h-1zM451 416h1v3h-1zM451 422h1v3h-1zM451 428h1v3h-1zM451 434h1v3h-1zM451 440h1v3h-1zM451 446h1v3h-1zM451 452h1v3h-1zM451 458h1v1h-1zM451 464h1v3h-1zM451 470h1v3h-1zM451 476h1v3h-1zM451 482h1v3h-1zM451 488h1v3h-1zM451 494h1v3h-1zM451 500h1v3h-1zM451 506h1v3h-1zM451 512h1v3h-1zM451 518h1v3h-1zM451 524h1v3h-1zM451 530h1v3h-1zM451 536h1v3h-1zM451 542h1v3h-1zM451 548h1v3h-1zM451 554h1v3h-1zM451 560h1v3h-1zM451 566h1v3h-1zM451 572h1v3h-1zM451 578h1v3h-1zM451 584h1v3h-1zM451 590h1v3h-1zM451 596h1v3h-1zM451 602h1v3h-1zM451 608h1v3h-1zM451 614h1v3h-1zM451 620h1v3h-1zM451 626h1v3h-1zM451 632h1v3h-1zM451 638h1v3h-1zM451 644h1v3h-1zM451 650h1v3h-1zM451 656h1v3h-1zM451 662h1v3h-1zM451 668h1v3h-1zM451 674h1v3h-1zM451 680h1v3h-1zM451 686h1v3h-1zM451 692h1v3h-1zM451 698h1v3h-1zM451 704h1v3h-1zM451 710h1v3h-1zM451 716h1v3h-1zM451 722h1v3h-1zM451 728h1v3h-1zM451 734h1v3h-1zM451 740h1v3h-1zM483 3h1v2h-1zM483 8h1v3h-1zM483 14h1v3h-1zM483 20h1v3h-1zM483 26h1v3h-1zM483 32h1v3h-1zM483 38h1v3h-1zM483 44h1v3h-1zM483 50h1v3h-1zM483 56h1v3h-1zM483 62h1v3h-1zM483 68h1v3h-1zM483 74h1v3h-1zM483 80h1v3h-1zM483 86h1v3h-1zM483 92h1v3h-1zM483 98h1v3h-1zM483 104h1v3h-1zM483 110h1v3h-1zM483 116h1v3h-1zM483 122h1v3h-1zM483 128h1v3h-1zM483 134h1v3h-1zM483 140h1v3h-1zM483 146h1v3h-1zM483 152h1v3h-1zM483 158h1v3h-1zM483 164h1v3h-1zM483 170h1v3h-1zM483 176h1v3h-1zM483 182h1v3h-1zM483 188h1v3h-1zM483 194h1v3h-1zM483 200h1v3h-1zM483 206h1v3h-1zM483 212h1v3h-1zM483 218h1v3h-1zM483 224h1v3h-1zM483 230h1v3h-1zM483 236h1v3h-1zM483 242h1v3h-1zM483 248h1v3h-1zM483 254h1v3h-1zM483 260h1v3h-1zM483 266h1v3h-1zM483 272h1v3h-1zM483 278h1v3h-1zM483 284h1v3h-1zM483 290h1v3h-1zM483 296h1v3h-1zM483 302h1v3h-1zM483 308h1v3h-1zM483 314h1v3h-1zM483 320h1v3h-1zM483 326h1v3h-1zM483 332h1v3h-1zM483 338h1v3h-1zM483 344h1v3h-1zM483 350h1v3h-1zM483 356h1v3h-1zM483 362h1v3h-1zM483 368h1v3h-1zM483 374h1v3h-1zM483 380h1v3h-1zM483 386h1v3h-1zM483 392h1v3h-1zM483 398h1v3h-1zM483 404h1v3h-1zM483 410h1v3h-1zM483 416h1v3h-1zM483 422h1v3h-1zM483 428h1v3h-1zM483 434h1v3h-1zM483 440h1v3h-1zM483 446h1v3h-1zM483 452h1v3h-1zM483 458h1v1h-1zM483 464h1v3h-1zM483 470h1v3h-1zM483 476h1v3h-1zM483 482h1v3h-1zM483 488h1v3h-1zM483 494h1v3h-1zM483 500h1v3h-1zM483 506h1v3h-1zM483 512h1v3h-1zM483 518h1v3h-1zM483 524h1v3h-1zM483 530h1v3h-1zM483 536h1v3h-1zM483 542h1v3h-1zM483 548h1v3h-1zM483 554h1v3h-1zM483 560h1v3h-1zM483 566h1v3h-1zM483 572h1v3h-1zM483 578h1v3h-1zM483 584h1v3h-1zM483 590h1v3h-1zM483 596h1v3h-1zM483 602h1v3h-1zM483 608h1v3h-1zM483 614h1v3h-1zM483 620h1v3h-1zM483 626h1v3h-1zM483 632h1v3h-1zM483 638h1v3h-1zM483 644h1v3h-1zM483 650h1v3h-1zM483 656h1v3h-1zM483 662h1v3h-1zM483 668h1v3h-1zM483 674h1v3h-1zM483 680h1v3h-1zM483 686h1v3h-1zM483 692h1v3h-1zM483 698h1v3h-1zM483 704h1v3h-1zM483 710h1v3h-1zM483 716h1v3h-1zM483 722h1v3h-1zM483 728h1v3h-1zM483 734h1v3h-1zM483 740h1v3h-1zM515 3h1v2h-1zM515 8h1v3h-1zM515 14h1v3h-1zM515 20h1v3h-1zM515 26h1v3h-1zM515 32h1v3h-1zM515 38h1v3h-1zM515 44h1v3h-1zM515 50h1v3h-1zM515 56h1v3h-1zM515 62h1v3h-1zM515 68h1v3h-1zM515 74h1v3h-1zM515 80h1v3h-1zM515 86h1v3h-1zM515 92h1v3h-1zM515 98h1v3h-1zM515 104h1v3h-1zM515 110h1v3h-1zM515 116h1v3h-1zM515 122h1v3h-1zM515 128h1v3h-1zM515 134h1v3h-1zM515 140h1v3h-1zM515 146h1v3h-1zM515 152h1v3h-1zM515 158h1v3h-1zM515 164h1v3h-1zM515 170h1v3h-1zM515 176h1v3h-1zM515 182h1v3h-1zM515 188h1v3h-1zM515 194h1v3h-1zM515 200h1v3h-1zM515 206h1v3h-1zM515 212h1v3h-1zM515 218h1v3h-1zM515 224h1v3h-1zM515 230h1v3h-1zM515 236h1v3h-1zM515 242h1v3h-1zM515 248h1v3h-1zM515 254h1v3h-1zM515 260h1v3h-1zM515 266h1v3h-1zM515 272h1v3h-1zM515 278h1v3h-1zM515 284h1v3h-1zM515 290h1v3h-1zM515 296h1v3h-1zM515 302h1v3h-1zM515 308h1v3h-1zM515 314h1v3h-1zM515 320h1v3h-1zM515 326h1v3h-1zM515 332h1v3h-1zM515 338h1v3h-1zM515 344h1v3h-1zM515 350h1v3h-1zM515 356h1v3h-1zM515 362h1v3h-1zM515 368h1v3h-1zM515 374h1v3h-1zM515 380h1v3h-1zM515 386h1v3h-1zM515 392h1v3h-1zM515 398h1v3h-1zM515 404h1v3h-1zM515 410h1v3h-1zM515 416h1v3h-1zM515 422h1v3h-1zM515 428h1v3h-1zM515 434h1v3h-1zM515 440h1v3h-1zM515 446h1v3h-1zM515 452h1v3h-1zM515 458h1v1h-1zM515 464h1v3h-1zM515 470h1v3h-1zM515 476h1v3h-1zM515 482h1v3h-1zM515 488h1v3h-1zM515 494h1v3h-1zM515 500h1v3h-1zM515 506h1v3h-1zM515 512h1v3h-1zM515 518h1v3h-1zM515 524h1v3h-1zM515 530h1v3h-1zM515 536h1v3h-1zM515 542h1v3h-1zM515 548h1v3h-1zM515 554h1v3h-1zM515 560h1v3h-1zM515 566h1v3h-1zM515 572h1v3h-1zM515 578h1v3h-1zM515 584h1v3h-1zM515 590h1v3h-1zM515 596h1v3h-1zM515 602h1v3h-1zM515 608h1v3h-1zM515 614h1v3h-1zM515 620h1v3h-1zM515 626h1v3h-1zM515 632h1v3h-1zM515 638h1v3h-1zM515 644h1v3h-1zM515 650h1v3h-1zM515 656h1v3h-1zM515 662h1v3h-1zM515 668h1v3h-1zM515 674h1v3h-1zM515 680h1v3h-1zM515 686h1v3h-1zM515 692h1v3h-1zM515 698h1v3h-1zM515 704h1v3h-1zM515 710h1v3h-1zM515 716h1v3h-1zM515 722h1v3h-1zM515 728h1v3h-1zM515 734h1v3h-1zM515 740h1v3h-1zM547 3h1v2h-1zM547 8h1v3h-1zM547 14h1v3h-1zM547 20h1v3h-1zM547 26h1v3h-1zM547 32h1v3h-1zM547 38h1v3h-1zM547 44h1v3h-1zM547 50h1v3h-1zM547 56h1v3h-1zM547 62h1v3h-1zM547 68h1v3h-1zM547 74h1v3h-1zM547 80h1v3h-1zM547 86h1v3h-1zM547 92h1v3h-1zM547 98h1v3h-1zM547 104h1v3h-1zM547 110h1v3h-1zM547 116h1v3h-1zM547 122h1v3h-1zM547 128h1v3h-1zM547 134h1v3h-1zM547 140h1v3h-1zM547 146h1v3h-1zM547 152h1v3h-1zM547 158h1v3h-1zM547 164h1v3h-1zM547 170h1v3h-1zM547 176h1v3h-1zM547 182h1v3h-1zM547 188h1v3h-1zM547 194h1v3h-1zM547 200h1v3h-1zM547 206h1v3h-1zM547 212h1v3h-1zM547 218h1v3h-1zM547 224h1v3h-1zM547 230h1v3h-1zM547 236h1v3h-1zM547 242h1v3h-1zM547 248h1v3h-1zM547 254h1v3h-1zM547 260h1v3h-1zM547 266h1v3h-1zM547 272h1v3h-1zM547 278h1v3h-1zM547 284h1v3h-1zM547 290h1v3h-1zM547 296h1v3h-1zM547 302h1v3h-1zM547 308h1v3h-1zM547 314h1v3h-1zM547 320h1v3h-1zM547 326h1v3h-1zM547 332h1v3h-1zM547 338h1v3h-1zM547 344h1v3h-1zM547 350h1v3h-1zM547 356h1v3h-1zM547 362h1v3h-1zM547 368h1v3h-1zM547 374h1v3h-1zM547 380h1v3h-1zM547 386h1v3h-1zM547 392h1v3h-1zM547 398h1v3h-1zM547 404h1v3h-1zM547 410h1v3h-1zM547 416h1v3h-1zM547 422h1v3h-1zM547 428h1v3h-1zM547 434h1v3h-1zM547 440h1v3h-1zM547 446h1v3h-1zM547 452h1v3h-1zM547 458h1v1h-1zM547 464h1v3h-1zM547 470h1v3h-1zM547 476h1v3h-1zM547 482h1v3h-1zM547 488h1v3h-1zM547 494h1v3h-1zM547 500h1v3h-1zM547 506h1v3h-1zM547 512h1v3h-1zM547 518h1v3h-1zM547 524h1v3h-1zM547 530h1v3h-1zM547 536h1v3h-1zM547 542h1v3h-1zM547 548h1v3h-1zM547 554h1v3h-1zM547 560h1v3h-1zM547 566h1v3h-1zM547 572h1v3h-1zM547 578h1v3h-1zM547 584h1v3h-1zM547 590h1v3h-1zM547 596h1v3h-1zM547 602h1v3h-1zM547 608h1v3h-1zM547 614h1v3h-1zM547 620h1v3h-1zM547 626h1v3h-1zM547 632h1v3h-1zM547 638h1v3h-1zM547 644h1v3h-1zM547 650h1v3h-1zM547 656h1v3h-1zM547 662h1v3h-1zM547 668h1v3h-1zM547 674h1v3h-1zM547 680h1v3h-1zM547 686h1v3h-1zM547 692h1v3h-1zM547 698h1v3h-1zM547 704h1v3h-1zM547 710h1v3h-1zM547 716h1v3h-1zM547 722h1v3h-1zM547 728h1v3h-1zM547 734h1v3h-1zM547 740h1v3h-1zM579 3h1v2h-1zM579 8h1v3h-1zM579 14h1v3h-1zM579 20h1v3h-1zM579 26h1v3h-1zM579 32h1v3h-1zM579 38h1v3h-1zM579 44h1v3h-1zM579 50h1v3h-1zM579 56h1v3h-1zM579 62h1v3h-1zM579 68h1v3h-1zM579 74h1v3h-1zM579 80h1v3h-1zM579 86h1v3h-1zM579 92h1v3h-1zM579 98h1v3h-1zM579 104h1v3h-1zM579 110h1v3h-1zM579 116h1v3h-1zM579 122h1v3h-1zM579 128h1v3h-1zM579 134h1v3h-1zM579 140h1v3h-1zM579 146h1v3h-1zM579 152h1v3h-1zM579 158h1v3h-1zM579 164h1v3h-1zM579 170h1v3h-1zM579 176h1v3h-1zM579 182h1v3h-1zM579 188h1v3h-1zM579 194h1v3h-1zM579 200h1v3h-1zM579 206h1v3h-1zM579 212h1v3h-1zM579 218h1v3h-1zM579 224h1v3h-1zM579 230h1v3h-1zM579 236h1v3h-1zM579 242h1v3h-1zM579 248h1v3h-1zM579 254h1v3h-1zM579 260h1v3h-1zM579 266h1v3h-1zM579 272h1v3h-1zM579 278h1v3h-1zM579 284h1v3h-1zM579 290h1v3h-1zM579 296h1v3h-1zM579 302h1v3h-1zM579 308h1v3h-1zM579 314h1v3h-1zM579 320h1v3h-1zM579 326h1v3h-1zM579 332h1v3h-1zM579 338h1v3h-1zM579 344h1v3h-1zM579 350h1v3h-1zM579 356h1v3h-1zM579 362h1v3h-1zM579 368h1v3h-1zM579 374h1v3h-1zM579 380h1v3h-1zM579 386h1v3h-1zM579 392h1v3h-1zM579 398h1v3h-1zM579 404h1v3h-1zM579 410h1v3h-1zM579 416h1v3h-1zM579 422h1v3h-1zM579 428h1v3h-1zM579 434h1v3h-1zM579 440h1v3h-1zM579 446h1v3h-1zM579 452h1v3h-1zM579 458h1v1h-1zM579 464h1v3h-1zM579 470h1v3h-1zM579 476h1v3h-1zM579 482h1v3h-1zM579 488h1v3h-1zM579 494h1v3h-1zM579 500h1v3h-1zM579 506h1v3h-1zM579 512h1v3h-1zM579 518h1v3h-1zM579 524h1v3h-1zM579 530h1v3h-1zM579 536h1v3h-1zM579 542h1v3h-1zM579 548h1v3h-1zM579 554h1v3h-1zM579 560h1v3h-1zM579 566h1v3h-1zM579 572h1v3h-1zM579 578h1v3h-1zM579 584h1v3h-1zM579 590h1v3h-1zM579 596h1v3h-1zM579 602h1v3h-1zM579 608h1v3h-1zM579 614h1v3h-1zM579 620h1v3h-1zM579 626h1v3h-1zM579 632h1v3h-1zM579 638h1v3h-1zM579 644h1v3h-1zM579 650h1v3h-1zM579 656h1v3h-1zM579 662h1v3h-1zM579 668h1v3h-1zM579 674h1v3h-1zM579 680h1v3h-1zM579 686h1v3h-1zM579 692h1v3h-1zM579 698h1v3h-1zM579 704h1v3h-1zM579 710h1v3h-1zM579 716h1v3h-1zM579 722h1v3h-1zM579 728h1v3h-1zM579 734h1v3h-1zM579 740h1v3h-1zM611 3h1v2h-1zM611 8h1v3h-1zM611 14h1v3h-1zM611 20h1v3h-1zM611 26h1v3h-1zM611 32h1v3h-1zM611 38h1v3h-1zM611 44h1v3h-1zM611 50h1v3h-1zM611 56h1v3h-1zM611 62h1v3h-1zM611 68h1v3h-1zM611 74h1v3h-1zM611 80h1v3h-1zM611 86h1v3h-1zM611 92h1v3h-1zM611 98h1v3h-1zM611 104h1v3h-1zM611 110h1v3h-1zM611 116h1v3h-1zM611 122h1v3h-1zM611 128h1v3h-1zM611 134h1v3h-1zM611 140h1v3h-1zM611 146h1v3h-1zM611 152h1v3h-1zM611 158h1v3h-1zM611 164h1v3h-1zM611 170h1v3h-1zM611 176h1v3h-1zM611 182h1v3h-1zM611 188h1v3h-1zM611 194h1v3h-1zM611 200h1v3h-1zM611 206h1v3h-1zM611 212h1v3h-1zM611 218h1v3h-1zM611 224h1v3h-1zM611 230h1v3h-1zM611 236h1v3h-1zM611 242h1v3h-1zM611 248h1v3h-1zM611 254h1v3h-1zM611 260h1v3h-1zM611 266h1v3h-1zM611 272h1v3h-1zM611 278h1v3h-1zM611 284h1v3h-1zM611 290h1v3h-1zM611 296h1v3h-1zM611 302h1v3h-1zM611 308h1v3h-1zM611 314h1v3h-1zM611 320h1v3h-1zM611 326h1v3h-1zM611 332h1v3h-1zM611 338h1v3h-1zM611 344h1v3h-1zM611 350h1v3h-1zM611 356h1v3h-1zM611 362h1v3h-1zM611 368h1v3h-1zM611 374h1v3h-1zM611 380h1v3h-1zM611 386h1v3h-1zM611 392h1v3h-1zM611 398h1v3h-1zM611 404h1v3h-1zM611 410h1v3h-1zM611 416h1v3h-1zM611 422h1v3h-1zM611 428h1v3h-1zM611 434h1v3h-1zM611 440h1v3h-1zM611 446h1v3h-1zM611 452h1v3h-1zM611 458h1v1h-1zM611 464h1v3h-1zM611 470h1v3h-1zM611 476h1v3h-1zM611 482h1v3h-1zM611 488h1v3h-1zM611 494h1v3h-1zM611 500h1v3h-1zM611 506h1v3h-1zM611 512h1v3h-1zM611 518h1v3h-1zM611 524h1v3h-1zM611 530h1v3h-1zM611 536h1v3h-1zM611 542h1v3h-1zM611 548h1v3h-1zM611 554h1v3h-1zM611 560h1v3h-1zM611 566h1v3h-1zM611 572h1v3h-1zM611 578h1v3h-1zM611 584h1v3h-1zM611 590h1v3h-1zM611 596h1v3h-1zM611 602h1v3h-1zM611 608h1v3h-1zM611 614h1v3h-1zM611 620h1v3h-1zM611 626h1v3h-1zM611 632h1v3h-1zM611 638h1v3h-1zM611 644h1v3h-1zM611 650h1v3h-1zM611 656h1v3h-1zM611 662h1v3h-1zM611 668h1v3h-1zM611 674h1v3h-1zM611 680h1v3h-1zM611 686h1v3h-1zM611 692h1v3h-1zM611 698h1v3h-1zM611 704h1v3h-1zM611 710h1v3h-1zM611 716h1v3h-1zM611 722h1v3h-1zM611 728h1v3h-1zM611 734h1v3h-1zM611 740h1v3h-1zM643 3h1v2h-1zM643 8h1v3h-1zM643 14h1v3h-1zM643 20h1v3h-1zM643 26h1v3h-1zM643 32h1v3h-1zM643 38h1v3h-1zM643 44h1v3h-1zM643 50h1v3h-1zM643 56h1v3h-1zM643 62h1v3h-1zM643 68h1v3h-1zM643 74h1v3h-1zM643 80h1v3h-1zM643 86h1v3h-1zM643 92h1v3h-1zM643 98h1v3h-1zM643 104h1v3h-1zM643 110h1v3h-1zM643 116h1v3h-1zM643 122h1v3h-1zM643 128h1v3h-1zM643 134h1v3h-1zM643 140h1v3h-1zM643 146h1v3h-1zM643 152h1v3h-1zM643 158h1v3h-1zM643 164h1v3h-1zM643 170h1v3h-1zM643 176h1v3h-1zM643 182h1v3h-1zM643 188h1v3h-1zM643 194h1v3h-1zM643 200h1v3h-1zM643 206h1v3h-1zM643 212h1v3h-1zM643 218h1v3h-1zM643 224h1v3h-1zM643 230h1v3h-1zM643 236h1v3h-1zM643 242h1v3h-1zM643 248h1v3h-1zM643 254h1v3h-1zM643 260h1v3h-1zM643 266h1v3h-1zM643 272h1v3h-1zM643 278h1v3h-1zM643 284h1v3h-1zM643 290h1v3h-1zM643 296h1v3h-1zM643 302h1v3h-1zM643 308h1v3h-1zM643 314h1v3h-1zM643 320h1v3h-1zM643 326h1v3h-1zM643 332h1v3h-1zM643 338h1v3h-1zM643 344h1v3h-1zM643 350h1v3h-1zM643 356h1v3h-1zM643 362h1v3h-1zM643 368h1v3h-1zM643 374h1v3h-1zM643 380h1v3h-1zM643 386h1v3h-1zM643 392h1v3h-1zM643 398h1v3h-1zM643 404h1v3h-1zM643 410h1v3h-1zM643 416h1v3h-1zM643 422h1v3h-1zM643 428h1v3h-1zM643 434h1v3h-1zM643 440h1v3h-1zM643 446h1v3h-1zM643 452h1v3h-1zM643 458h1v1h-1zM643 464h1v3h-1zM643 470h1v3h-1zM643 476h1v3h-1zM643 482h1v3h-1zM643 488h1v3h-1zM643 494h1v3h-1zM643 500h1v3h-1zM643 506h1v3h-1zM643 512h1v3h-1zM643 518h1v3h-1zM643 524h1v3h-1zM643 530h1v3h-1zM643 536h1v3h-1zM643 542h1v3h-1zM643 548h1v3h-1zM643 554h1v3h-1zM643 560h1v3h-1zM643 566h1v3h-1zM643 572h1v3h-1zM643 578h1v3h-1zM643 584h1v3h-1zM643 590h1v3h-1zM643 596h1v3h-1zM643 602h1v3h-1zM643 608h1v3h-1zM643 614h1v3h-1zM643 620h1v3h-1zM643 626h1v3h-1zM643 632h1v3h-1zM643 638h1v3h-1zM643 644h1v3h-1zM643 650h1v3h-1zM643 656h1v3h-1zM643 662h1v3h-1zM643 668h1v3h-1zM643 674h1v3h-1zM643 680h1v3h-1zM643 686h1v3h-1zM643 692h1v3h-1zM643 698h1v3h-1zM643 704h1v3h-1zM643 710h1v3h-1zM643 716h1v3h-1zM643 722h1v3h-1zM643 728h1v3h-1zM643 734h1v3h-1zM643 740h1v3h-1zM675 3h1v2h-1zM675 8h1v3h-1zM675 14h1v3h-1zM675 20h1v3h-1zM675 26h1v3h-1zM675 32h1v3h-1zM675 38h1v3h-1zM675 44h1v3h-1zM675 50h1v3h-1zM675 56h1v3h-1zM675 62h1v3h-1zM675 68h1v3h-1zM675 74h1v3h-1zM675 80h1v3h-1zM675 86h1v3h-1zM675 92h1v3h-1zM675 98h1v3h-1zM675 104h1v3h-1zM675 110h1v3h-1zM675 116h1v3h-1zM675 122h1v3h-1zM675 128h1v3h-1zM675 134h1v3h-1zM675 140h1v3h-1zM675 146h1v3h-1zM675 152h1v3h-1zM675 158h1v3h-1zM675 164h1v3h-1zM675 170h1v3h-1zM675 176h1v3h-1zM675 182h1v3h-1zM675 188h1v3h-1zM675 194h1v3h-1zM675 200h1v3h-1zM675 206h1v3h-1zM675 212h1v3h-1zM675 218h1v3h-1zM675 224h1v3h-1zM675 230h1v3h-1zM675 236h1v3h-1zM675 242h1v3h-1zM675 248h1v3h-1zM675 254h1v3h-1zM675 260h1v3h-1zM675 266h1v3h-1zM675 272h1v3h-1zM675 278h1v3h-1zM675 284h1v3h-1zM675 290h1v3h-1zM675 296h1v3h-1zM675 302h1v3h-1zM675 308h1v3h-1zM675 314h1v3h-1zM675 320h1v3h-1zM675 326h1v3h-1zM675 332h1v3h-1zM675 338h1v3h-1zM675 344h1v3h-1zM675 350h1v3h-1zM675 356h1v3h-1zM675 362h1v3h-1zM675 368h1v3h-1zM675 374h1v3h-1zM675 380h1v3h-1zM675 386h1v3h-1zM675 392h1v3h-1zM675 398h1v3h-1zM675 404h1v3h-1zM675 410h1v3h-1zM675 416h1v3h-1zM675 422h1v3h-1zM675 428h1v3h-1zM675 434h1v3h-1zM675 440h1v3h-1zM675 446h1v3h-1zM675 452h1v3h-1zM675 458h1v1h-1zM675 464h1v3h-1zM675 470h1v3h-1zM675 476h1v3h-1zM675 482h1v3h-1zM675 488h1v3h-1zM675 494h1v3h-1zM675 500h1v3h-1zM675 506h1v3h-1zM675 512h1v3h-1zM675 518h1v3h-1zM675 524h1v3h-1zM675 530h1v3h-1zM675 536h1v3h-1zM675 542h1v3h-1zM675 548h1v3h-1zM675 554h1v3h-1zM675 560h1v3h-1zM675 566h1v3h-1zM675 572h1v3h-1zM675 578h1v3h-1zM675 584h1v3h-1zM675 590h1v3h-1zM675 596h1v3h-1zM675 602h1v3h-1zM675 608h1v3h-1zM675 614h1v3h-1zM675 620h1v3h-1zM675 626h1v3h-1zM675 632h1v3h-1zM675 638h1v3h-1zM675 644h1v3h-1zM675 650h1v3h-1zM675 656h1v3h-1zM675 662h1v3h-1zM675 668h1v3h-1zM675 674h1v3h-1zM675 680h1v3h-1zM675 686h1v3h-1zM675 692h1v3h-1zM675 698h1v3h-1zM675 704h1v3h-1zM675 710h1v3h-1zM675 716h1v3h-1zM675 722h1v3h-1zM675 728h1v3h-1zM675 734h1v3h-1zM675 740h1v3h-1zM707 3h1v2h-1zM707 8h1v3h-1zM707 14h1v3h-1zM707 20h1v3h-1zM707 26h1v3h-1zM707 32h1v3h-1zM707 38h1v3h-1zM707 44h1v3h-1zM707 50h1v3h-1zM707 56h1v3h-1zM707 62h1v3h-1zM707 68h1v3h-1zM707 74h1v3h-1zM707 80h1v3h-1zM707 86h1v3h-1zM707 92h1v3h-1zM707 98h1v3h-1zM707 104h1v3h-1zM707 110h1v3h-1zM707 116h1v3h-1zM707 122h1v3h-1zM707 128h1v3h-1zM707 134h1v3h-1zM707 140h1v3h-1zM707 146h1v3h-1zM707 152h1v3h-1zM707 158h1v3h-1zM707 164h1v3h-1zM707 170h1v3h-1zM707 176h1v3h-1zM707 182h1v3h-1zM707 188h1v3h-1zM707 194h1v3h-1zM707 200h1v3h-1zM707 206h1v3h-1zM707 212h1v3h-1zM707 218h1v3h-1zM707 224h1v3h-1zM707 230h1v3h-1zM707 236h1v3h-1zM707 242h1v3h-1zM707 248h1v3h-1zM707 254h1v3h-1zM707 260h1v3h-1zM707 266h1v3h-1zM707 272h1v3h-1zM707 278h1v3h-1zM707 284h1v3h-1zM707 290h1v3h-1zM707 296h1v3h-1zM707 302h1v3h-1zM707 308h1v3h-1zM707 314h1v3h-1zM707 320h1v3h-1zM707 326h1v3h-1zM707 332h1v3h-1zM707 338h1v3h-1zM707 344h1v3h-1zM707 350h1v3h-1zM707 356h1v3h-1zM707 362h1v3h-1zM707 368h1v3h-1zM707 374h1v3h-1zM707 380h1v3h-1zM707 386h1v3h-1zM707 392h1v3h-1zM707 398h1v3h-1zM707 404h1v3h-1zM707 410h1v3h-1zM707 416h1v3h-1zM707 422h1v3h-1zM707 428h1v3h-1zM707 434h1v3h-1zM707 440h1v3h-1zM707 446h1v3h-1zM707 452h1v3h-1zM707 458h1v1h-1zM707 464h1v3h-1zM707 470h1v3h-1zM707 476h1v3h-1zM707 482h1v3h-1zM707 488h1v3h-1zM707 494h1v3h-1zM707 500h1v3h-1zM707 506h1v3h-1zM707 512h1v3h-1zM707 518h1v3h-1zM707 524h1v3h-1zM707 530h1v3h-1zM707 536h1v3h-1zM707 542h1v3h-1zM707 548h1v3h-1zM707 554h1v3h-1zM707 560h1v3h-1zM707 566h1v3h-1zM707 572h1v3h-1zM707 578h1v3h-1zM707 584h1v3h-1zM707 590h1v3h-1zM707 596h1v3h-1zM707 602h1v3h-1zM707 608h1v3h-1zM707 614h1v3h-1zM707 620h1v3h-1zM707 626h1v3h-1zM707 632h1v3h-1zM707 638h1v3h-1zM707 644h1v3h-1zM707 650h1v3h-1zM707 656h1v3h-1zM707 662h1v3h-1zM707 668h1v3h-1zM707 674h1v3h-1zM707 680h1v3h-1zM707 686h1v3h-1zM707 692h1v3h-1zM707 698h1v3h-1zM707 704h1v3h-1zM707 710h1v3h-1zM707 716h1v3h-1zM707 722h1v3h-1zM707 728h1v3h-1zM707 734h1v3h-1zM707 740h1v3h-1zM739 3h1v2h-1zM739 8h1v3h-1zM739 14h1v3h-1zM739 20h1v3h-1zM739 26h1v3h-1zM739 32h1v3h-1zM739 38h1v3h-1zM739 44h1v3h-1zM739 50h1v3h-1zM739 56h1v3h-1zM739 62h1v3h-1zM739 68h1v3h-1zM739 74h1v3h-1zM739 80h1v3h-1zM739 86h1v3h-1zM739 92h1v3h-1zM739 98h1v3h-1zM739 104h1v3h-1zM739 110h1v3h-1zM739 116h1v3h-1zM739 122h1v3h-1zM739 128h1v3h-1zM739 134h1v3h-1zM739 140h1v3h-1zM739 146h1v3h-1zM739 152h1v3h-1zM739 158h1v3h-1zM739 164h1v3h-1zM739 170h1v3h-1zM739 176h1v3h-1zM739 182h1v3h-1zM739 188h1v3h-1zM739 194h1v3h-1zM739 200h1v3h-1zM739 206h1v3h-1zM739 212h1v3h-1zM739 218h1v3h-1zM739 224h1v3h-1zM739 230h1v3h-1zM739 236h1v3h-1zM739 242h1v3h-1zM739 248h1v3h-1zM739 254h1v3h-1zM739 260h1v3h-1zM739 266h1v3h-1zM739 272h1v3h-1zM739 278h1v3h-1zM739 284h1v3h-1zM739 290h1v3h-1zM739 296h1v3h-1zM739 302h1v3h-1zM739 308h1v3h-1zM739 314h1v3h-1zM739 320h1v3h-1zM739 326h1v3h-1zM739 332h1v3h-1zM739 338h1v3h-1zM739 344h1v3h-1zM739 350h1v3h-1zM739 356h1v3h-1zM739 362h1v3h-1zM739 368h1v3h-1zM739 374h1v3h-1zM739 380h1v3h-1zM739 386h1v3h-1zM739 392h1v3h-1zM739 398h1v3h-1zM739 404h1v3h-1zM739 410h1v3h-1zM739 416h1v3h-1zM739 422h1v3h-1zM739 428h1v3h-1zM739 434h1v3h-1zM739 440h1v3h-1zM739 446h1v3h-1zM739 452h1v3h-1zM739 458h1v1h-1zM739 464h1v3h-1zM739 470h1v3h-1zM739 476h1v3h-1zM739 482h1v3h-1zM739 488h1v3h-1zM739 494h1v3h-1zM739 500h1v3h-1zM739 506h1v3h-1zM739 512h1v3h-1zM739 518h1v3h-1zM739 524h1v3h-1zM739 530h1v3h-1zM739 536h1v3h-1zM739 542h1v3h-1zM739 548h1v3h-1zM739 554h1v3h-1zM739 560h1v3h-1zM739 566h1v3h-1zM739 572h1v3h-1zM739 578h1v3h-1zM739 584h1v3h-1zM739 590h1v3h-1zM739 596h1v3h-1zM739 602h1v3h-1zM739 608h1v3h-1zM739 614h1v3h-1zM739 620h1v3h-1zM739 626h1v3h-1zM739 632h1v3h-1zM739 638h1v3h-1zM739 644h1v3h-1zM739 650h1v3h-1zM739 656h1v3h-1zM739 662h1v3h-1zM739 668h1v3h-1zM739 674h1v3h-1zM739 680h1v3h-1zM739 686h1v3h-1zM739 692h1v3h-1zM739 698h1v3h-1zM739 704h1v3h-1zM739 710h1v3h-1zM739 716h1v3h-1zM739 722h1v3h-1zM739 728h1v3h-1zM739 734h1v3h-1zM739 740h1v3h-1zM771 3h1v2h-1zM771 8h1v3h-1zM771 14h1v3h-1zM771 20h1v3h-1zM771 26h1v3h-1zM771 32h1v3h-1zM771 38h1v3h-1zM771 44h1v3h-1zM771 50h1v3h-1zM771 56h1v3h-1zM771 62h1v3h-1zM771 68h1v3h-1zM771 74h1v3h-1zM771 80h1v3h-1zM771 86h1v3h-1zM771 92h1v3h-1zM771 98h1v3h-1zM771 104h1v3h-1zM771 110h1v3h-1zM771 116h1v3h-1zM771 122h1v3h-1zM771 128h1v3h-1zM771 134h1v3h-1zM771 140h1v3h-1zM771 146h1v3h-1zM771 152h1v3h-1zM771 158h1v3h-1zM771 164h1v3h-1zM771 170h1v3h-1zM771 176h1v3h-1zM771 182h1v3h-1zM771 188h1v3h-1zM771 194h1v3h-1zM771 200h1v3h-1zM771 206h1v3h-1zM771 212h1v3h-1zM771 218h1v3h-1zM771 224h1v3h-1zM771 230h1v3h-1zM771 236h1v3h-1zM771 242h1v3h-1zM771 248h1v3h-1zM771 254h1v3h-1zM771 260h1v3h-1zM771 266h1v3h-1zM771 272h1v3h-1zM771 278h1v3h-1zM771 284h1v3h-1zM771 290h1v3h-1zM771 296h1v3h-1zM771 302h1v3h-1zM771 308h1v3h-1zM771 314h1v3h-1zM771 320h1v3h-1zM771 326h1v3h-1zM771 332h1v3h-1zM771 338h1v3h-1zM771 344h1v3h-1zM771 350h1v3h-1zM771 356h1v3h-1zM771 362h1v3h-1zM771 368h1v3h-1zM771 374h1v3h-1zM771 380h1v3h-1zM771 386h1v3h-1zM771 392h1v3h-1zM771 398h1v3h-1zM771 404h1v3h-1zM771 410h1v3h-1zM771 416h1v3h-1zM771 422h1v3h-1zM771 428h1v3h-1zM771 434h1v3h-1zM771 440h1v3h-1zM771 446h1v3h-1zM771 452h1v3h-1zM771 458h1v1h-1zM771 464h1v3h-1zM771 470h1v3h-1zM771 476h1v3h-1zM771 482h1v3h-1zM771 488h1v3h-1zM771 494h1v3h-1zM771 500h1v3h-1zM771 506h1v3h-1zM771 512h1v3h-1zM771 518h1v3h-1zM771 524h1v3h-1zM771 530h1v3h-1zM771 536h1v3h-1zM771 542h1v3h-1zM771 548h1v3h-1zM771 554h1v3h-1zM771 560h1v3h-1zM771 566h1v3h-1zM771 572h1v3h-1zM771 578h1v3h-1zM771 584h1v3h-1zM771 590h1v3h-1zM771 596h1v3h-1zM771 602h1v3h-1zM771 608h1v3h-1zM771 614h1v3h-1zM771 620h1v3h-1zM771 626h1v3h-1zM771 632h1v3h-1zM771 638h1v3h-1zM771 644h1v3h-1zM771 650h1v3h-1zM771 656h1v3h-1zM771 662h1v3h-1zM771 668h1v3h-1zM771 674h1v3h-1zM771 680h1v3h-1zM771 686h1v3h-1zM771 692h1v3h-1zM771 698h1v3h-1zM771 704h1v3h-1zM771 710h1v3h-1zM771 716h1v3h-1zM771 722h1v3h-1zM771 728h1v3h-1zM771 734h1v3h-1zM771 740h1v3h-1zM803 3h1v2h-1zM803 8h1v3h-1zM803 14h1v3h-1zM803 20h1v3h-1zM803 26h1v3h-1zM803 32h1v3h-1zM803 38h1v3h-1zM803 44h1v3h-1zM803 50h1v3h-1zM803 56h1v3h-1zM803 62h1v3h-1zM803 68h1v3h-1zM803 74h1v3h-1zM803 80h1v3h-1zM803 86h1v3h-1zM803 92h1v3h-1zM803 98h1v3h-1zM803 104h1v3h-1zM803 110h1v3h-1zM803 116h1v3h-1zM803 122h1v3h-1zM803 128h1v3h-1zM803 134h1v3h-1zM803 140h1v3h-1zM803 146h1v3h-1zM803 152h1v3h-1zM803 158h1v3h-1zM803 164h1v3h-1zM803 170h1v3h-1zM803 176h1v3h-1zM803 182h1v3h-1zM803 188h1v3h-1zM803 194h1v3h-1zM803 200h1v3h-1zM803 206h1v3h-1zM803 212h1v3h-1zM803 218h1v3h-1zM803 224h1v3h-1zM803 230h1v3h-1zM803 236h1v3h-1zM803 242h1v3h-1zM803 248h1v3h-1zM803 254h1v3h-1zM803 260h1v3h-1zM803 266h1v3h-1zM803 272h1v3h-1zM803 278h1v3h-1zM803 284h1v3h-1zM803 290h1v3h-1zM803 296h1v3h-1zM803 302h1v3h-1zM803 308h1v3h-1zM803 314h1v3h-1zM803 320h1v3h-1zM803 326h1v3h-1zM803 332h1v3h-1zM803 338h1v3h-1zM803 344h1v3h-1zM803 350h1v3h-1zM803 356h1v3h-1zM803 362h1v3h-1zM803 368h1v3h-1zM803 374h1v3h-1zM803 380h1v3h-1zM803 386h1v3h-1zM803 392h1v3h-1zM803 398h1v3h-1zM803 404h1v3h-1zM803 410h1v3h-1zM803 416h1v3h-1zM803 422h1v3h-1zM803 428h1v3h-1zM803 434h1v3h-1zM803 440h1v3h-1zM803 446h1v3h-1zM803 452h1v3h-1zM803 458h1v1h-1zM803 464h1v3h-1zM803 470h1v3h-1zM803 476h1v3h-1zM803 482h1v3h-1zM803 488h1v3h-1zM803 494h1v3h-1zM803 500h1v3h-1zM803 506h1v3h-1zM803 512h1v3h-1zM803 518h1v3h-1zM803 524h1v3h-1zM803 530h1v3h-1zM803 536h1v3h-1zM803 542h1v3h-1zM803 548h1v3h-1zM803 554h1v3h-1zM803 560h1v3h-1zM803 566h1v3h-1zM803 572h1v3h-1zM803 578h1v3h-1zM803 584h1v3h-1zM803 590h1v3h-1zM803 596h1v3h-1zM803 602h1v3h-1zM803 608h1v3h-1zM803 614h1v3h-1zM803 620h1v3h-1zM803 626h1v3h-1zM803 632h1v3h-1zM803 638h1v3h-1zM803 644h1v3h-1zM803 650h1v3h-1zM803 656h1v3h-1zM803 662h1v3h-1zM803 668h1v3h-1zM803 674h1v3h-1zM803 680h1v3h-1zM803 686h1v3h-1zM803 692h1v3h-1zM803 698h1v3h-1zM803 704h1v3h-1zM803 710h1v3h-1zM803 716h1v3h-1zM803 722h1v3h-1zM803 728h1v3h-1zM803 734h1v3h-1zM803 740h1v3h-1zM835 3h1v2h-1zM835 8h1v3h-1zM835 14h1v3h-1zM835 20h1v3h-1zM835 26h1v3h-1zM835 32h1v3h-1zM835 38h1v3h-1zM835 44h1v3h-1zM835 50h1v3h-1zM835 56h1v3h-1zM835 62h1v3h-1zM835 68h1v3h-1zM835 74h1v3h-1zM835 80h1v3h-1zM835 86h1v3h-1zM835 92h1v3h-1zM835 98h1v3h-1zM835 104h1v3h-1zM835 110h1v3h-1zM835 116h1v3h-1zM835 122h1v3h-1zM835 128h1v3h-1zM835 134h1v3h-1zM835 140h1v3h-1zM835 146h1v3h-1zM835 152h1v3h-1zM835 158h1v3h-1zM835 164h1v3h-1zM835 170h1v3h-1zM835 176h1v3h-1zM835 182h1v3h-1zM835 188h1v3h-1zM835 194h1v3h-1zM835 200h1v3h-1zM835 206h1v3h-1zM835 212h1v3h-1zM835 218h1v3h-1zM835 224h1v3h-1zM835 230h1v3h-1zM835 236h1v3h-1zM835 242h1v3h-1zM835 248h1v3h-1zM835 254h1v3h-1zM835 260h1v3h-1zM835 266h1v3h-1zM835 272h1v3h-1zM835 278h1v3h-1zM835 284h1v3h-1zM835 290h1v3h-1zM835 296h1v3h-1zM835 302h1v3h-1zM835 308h1v3h-1zM835 314h1v3h-1zM835 320h1v3h-1zM835 326h1v3h-1zM835 332h1v3h-1zM835 338h1v3h-1zM835 344h1v3h-1zM835 350h1v3h-1zM835 356h1v3h-1zM835 362h1v3h-1zM835 368h1v3h-1zM835 374h1v3h-1zM835 380h1v3h-1zM835 386h1v3h-1zM835 392h1v3h-1zM835 398h1v3h-1zM835 404h1v3h-1zM835 410h1v3h-1zM835 416h1v3h-1zM835 422h1v3h-1zM835 428h1v3h-1zM835 434h1v3h-1zM835 440h1v3h-1zM835 446h1v3h-1zM835 452h1v3h-1zM835 458h1v1h-1zM835 464h1v3h-1zM835 470h1v3h-1zM835 476h1v3h-1zM835 482h1v3h-1zM835 488h1v3h-1zM835 494h1v3h-1zM835 500h1v3h-1zM835 506h1v3h-1zM835 512h1v3h-1zM835 518h1v3h-1zM835 524h1v3h-1zM835 530h1v3h-1zM835 536h1v3h-1zM835 542h1v3h-1zM835 548h1v3h-1zM835 554h1v3h-1zM835 560h1v3h-1zM835 566h1v3h-1zM835 572h1v3h-1zM835 578h1v3h-1zM835 584h1v3h-1zM835 590h1v3h-1zM835 596h1v3h-1zM835 602h1v3h-1zM835 608h1v3h-1zM835 614h1v3h-1zM835 620h1v3h-1zM835 626h1v3h-1zM835 632h1v3h-1zM835 638h1v3h-1zM835 644h1v3h-1zM835 650h1v3h-1zM835 656h1v3h-1zM835 662h1v3h-1zM835 668h1v3h-1zM835 674h1v3h-1zM835 680h1v3h-1zM835 686h1v3h-1zM835 692h1v3h-1zM835 698h1v3h-1zM835 704h1v3h-1zM835 710h1v3h-1zM835 716h1v3h-1zM835 722h1v3h-1zM835 728h1v3h-1zM835 734h1v3h-1zM835 740h1v3h-1zM867 3h1v2h-1zM867 8h1v3h-1zM867 14h1v3h-1zM867 20h1v3h-1zM867 26h1v3h-1zM867 32h1v3h-1zM867 38h1v3h-1zM867 44h1v3h-1zM867 50h1v3h-1zM867 56h1v3h-1zM867 62h1v3h-1zM867 68h1v3h-1zM867 74h1v3h-1zM867 80h1v3h-1zM867 86h1v3h-1zM867 92h1v3h-1zM867 98h1v3h-1zM867 104h1v3h-1zM867 110h1v3h-1zM867 116h1v3h-1zM867 122h1v3h-1zM867 128h1v3h-1zM867 134h1v3h-1zM867 140h1v3h-1zM867 146h1v3h-1zM867 152h1v3h-1zM867 158h1v3h-1zM867 164h1v3h-1zM867 170h1v3h-1zM867 176h1v3h-1zM867 182h1v3h-1zM867 188h1v3h-1zM867 194h1v3h-1zM867 200h1v3h-1zM867 206h1v3h-1zM867 212h1v3h-1zM867 218h1v3h-1zM867 224h1v3h-1zM867 230h1v3h-1zM867 236h1v3h-1zM867 242h1v3h-1zM867 248h1v3h-1zM867 254h1v3h-1zM867 260h1v3h-1zM867 266h1v3h-1zM867 272h1v3h-1zM867 278h1v3h-1zM867 284h1v3h-1zM867 290h1v3h-1zM867 296h1v3h-1zM867 302h1v3h-1zM867 308h1v3h-1zM867 314h1v3h-1zM867 320h1v3h-1zM867 326h1v3h-1zM867 332h1v3h-1zM867 338h1v3h-1zM867 344h1v3h-1zM867 350h1v3h-1zM867 356h1v3h-1zM867 362h1v3h-1zM867 368h1v3h-1zM867 374h1v3h-1zM867 380h1v3h-1zM867 386h1v3h-1zM867 392h1v3h-1zM867 398h1v3h-1zM867 404h1v3h-1zM867 410h1v3h-1zM867 416h1v3h-1zM867 422h1v3h-1zM867 428h1v3h-1zM867 434h1v3h-1zM867 440h1v3h-1zM867 446h1v3h-1zM867 452h1v3h-1zM867 458h1v1h-1zM867 464h1v3h-1zM867 470h1v3h-1zM867 476h1v3h-1zM867 482h1v3h-1zM867 488h1v3h-1zM867 494h1v3h-1zM867 500h1v3h-1zM867 506h1v3h-1zM867 512h1v3h-1zM867 518h1v3h-1zM867 524h1v3h-1zM867 530h1v3h-1zM867 536h1v3h-1zM867 542h1v3h-1zM867 548h1v3h-1zM867 554h1v3h-1zM867 560h1v3h-1zM867 566h1v3h-1zM867 572h1v3h-1zM867 578h1v3h-1zM867 584h1v3h-1zM867 590h1v3h-1zM867 596h1v3h-1zM867 602h1v3h-1zM867 608h1v3h-1zM867 614h1v3h-1zM867 620h1v3h-1zM867 626h1v3h-1zM867 632h1v3h-1zM867 638h1v3h-1zM867 644h1v3h-1zM867 650h1v3h-1zM867 656h1v3h-1zM867 662h1v3h-1zM867 668h1v3h-1zM867 674h1v3h-1zM867 680h1v3h-1zM867 686h1v3h-1zM867 692h1v3h-1zM867 698h1v3h-1zM867 704h1v3h-1zM867 710h1v3h-1zM867 716h1v3h-1zM867 722h1v3h-1zM867 728h1v3h-1zM867 734h1v3h-1zM867 740h1v3h-1zM899 3h1v2h-1zM899 8h1v3h-1zM899 14h1v3h-1zM899 20h1v3h-1zM899 26h1v3h-1zM899 32h1v3h-1zM899 38h1v3h-1zM899 44h1v3h-1zM899 50h1v3h-1zM899 56h1v3h-1zM899 62h1v3h-1zM899 68h1v3h-1zM899 74h1v3h-1zM899 80h1v3h-1zM899 86h1v3h-1zM899 92h1v3h-1zM899 98h1v3h-1zM899 104h1v3h-1zM899 110h1v3h-1zM899 116h1v3h-1zM899 122h1v3h-1zM899 128h1v3h-1zM899 134h1v3h-1zM899 140h1v3h-1zM899 146h1v3h-1zM899 152h1v3h-1zM899 158h1v3h-1zM899 164h1v3h-1zM899 170h1v3h-1zM899 176h1v3h-1zM899 182h1v3h-1zM899 188h1v3h-1zM899 194h1v3h-1zM899 200h1v3h-1zM899 206h1v3h-1zM899 212h1v3h-1zM899 218h1v3h-1zM899 224h1v3h-1zM899 230h1v3h-1zM899 236h1v3h-1zM899 242h1v3h-1zM899 248h1v3h-1zM899 254h1v3h-1zM899 260h1v3h-1zM899 266h1v3h-1zM899 272h1v3h-1zM899 278h1v3h-1zM899 284h1v3h-1zM899 290h1v3h-1zM899 296h1v3h-1zM899 302h1v3h-1zM899 308h1v3h-1zM899 314h1v3h-1zM899 320h1v3h-1zM899 326h1v3h-1zM899 332h1v3h-1zM899 338h1v3h-1zM899 344h1v3h-1zM899 350h1v3h-1zM899 356h1v3h-1zM899 362h1v3h-1zM899 368h1v3h-1zM899 374h1v3h-1zM899 380h1v3h-1zM899 386h1v3h-1zM899 392h1v3h-1zM899 398h1v3h-1zM899 404h1v3h-1zM899 410h1v3h-1zM899 416h1v3h-1zM899 422h1v3h-1zM899 428h1v3h-1zM899 434h1v3h-1zM899 440h1v3h-1zM899 446h1v3h-1zM899 452h1v3h-1zM899 458h1v1h-1zM899 464h1v3h-1zM899 470h1v3h-1zM899 476h1v3h-1zM899 482h1v3h-1zM899 488h1v3h-1zM899 494h1v3h-1zM899 500h1v3h-1zM899 506h1v3h-1zM899 512h1v3h-1zM899 518h1v3h-1zM899 524h1v3h-1zM899 530h1v3h-1zM899 536h1v3h-1zM899 542h1v3h-1zM899 548h1v3h-1zM899 554h1v3h-1zM899 560h1v3h-1zM899 566h1v3h-1zM899 572h1v3h-1zM899 578h1v3h-1zM899 584h1v3h-1zM899 590h1v3h-1zM899 596h1v3h-1zM899 602h1v3h-1zM899 608h1v3h-1zM899 614h1v3h-1zM899 620h1v3h-1zM899 626h1v3h-1zM899 632h1v3h-1zM899 638h1v3h-1zM899 644h1v3h-1zM899 650h1v3h-1zM899 656h1v3h-1zM899 662h1v3h-1zM899 668h1v3h-1zM899 674h1v3h-1zM899 680h1v3h-1zM899 686h1v3h-1zM899 692h1v3h-1zM899 698h1v3h-1zM899 704h1v3h-1zM899 710h1v3h-1zM899 716h1v3h-1zM899 722h1v3h-1zM899 728h1v3h-1zM899 734h1v3h-1zM899 740h1v3h-1zM931 3h1v2h-1zM931 8h1v3h-1zM931 14h1v3h-1zM931 20h1v3h-1zM931 26h1v3h-1zM931 32h1v3h-1zM931 38h1v3h-1zM931 44h1v3h-1zM931 50h1v3h-1zM931 56h1v3h-1zM931 62h1v3h-1zM931 68h1v3h-1zM931 74h1v3h-1zM931 80h1v3h-1zM931 86h1v3h-1zM931 92h1v3h-1zM931 98h1v3h-1zM931 104h1v3h-1zM931 110h1v3h-1zM931 116h1v3h-1zM931 122h1v3h-1zM931 128h1v3h-1zM931 134h1v3h-1zM931 140h1v3h-1zM931 146h1v3h-1zM931 152h1v3h-1zM931 158h1v3h-1zM931 164h1v3h-1zM931 170h1v3h-1zM931 176h1v3h-1zM931 182h1v3h-1zM931 188h1v3h-1zM931 194h1v3h-1zM931 200h1v3h-1zM931 206h1v3h-1zM931 212h1v3h-1zM931 218h1v3h-1zM931 224h1v3h-1zM931 230h1v3h-1zM931 236h1v3h-1zM931 242h1v3h-1zM931 248h1v3h-1zM931 254h1v3h-1zM931 260h1v3h-1zM931 266h1v3h-1zM931 272h1v3h-1zM931 278h1v3h-1zM931 284h1v3h-1zM931 290h1v3h-1zM931 296h1v3h-1zM931 302h1v3h-1zM931 308h1v3h-1zM931 314h1v3h-1zM931 320h1v3h-1zM931 326h1v3h-1zM931 332h1v3h-1zM931 338h1v3h-1zM931 344h1v3h-1zM931 350h1v3h-1zM931 356h1v3h-1zM931 362h1v3h-1zM931 368h1v3h-1zM931 374h1v3h-1zM931 380h1v3h-1zM931 386h1v3h-1zM931 392h1v3h-1zM931 398h1v3h-1zM931 404h1v3h-1zM931 410h1v3h-1zM931 416h1v3h-1zM931 422h1v3h-1zM931 428h1v3h-1zM931 434h1v3h-1zM931 440h1v3h-1zM931 446h1v3h-1zM931 452h1v3h-1zM931 458h1v1h-1zM931 464h1v3h-1zM931 470h1v3h-1zM931 476h1v3h-1zM931 482h1v3h-1zM931 488h1v3h-1zM931 494h1v3h-1zM931 500h1v3h-1zM931 506h1v3h-1zM931 512h1v3h-1zM931 518h1v3h-1zM931 524h1v3h-1zM931 530h1v3h-1zM931 536h1v3h-1zM931 542h1v3h-1zM931 548h1v3h-1zM931 554h1v3h-1zM931 560h1v3h-1zM931 566h1v3h-1zM931 572h1v3h-1zM931 578h1v3h-1zM931 584h1v3h-1zM931 590h1v3h-1zM931 596h1v3h-1zM931 602h1v3h-1zM931 608h1v3h-1zM931 614h1v3h-1zM931 620h1v3h-1zM931 626h1v3h-1zM931 632h1v3h-1zM931 638h1v3h-1zM931 644h1v3h-1zM931 650h1v3h-1zM931 656h1v3h-1zM931 662h1v3h-1zM931 668h1v3h-1zM931 674h1v3h-1zM931 680h1v3h-1zM931 686h1v3h-1zM931 692h1v3h-1zM931 698h1v3h-1zM931 704h1v3h-1zM931 710h1v3h-1zM931 716h1v3h-1zM931 722h1v3h-1zM931 728h1v3h-1zM931 734h1v3h-1zM931 740h1v3h-1zM963 3h1v2h-1zM963 8h1v3h-1zM963 14h1v3h-1zM963 20h1v3h-1zM963 26h1v3h-1zM963 32h1v3h-1zM963 38h1v3h-1zM963 44h1v3h-1zM963 50h1v3h-1zM963 56h1v3h-1zM963 62h1v3h-1zM963 68h1v3h-1zM963 74h1v3h-1zM963 80h1v3h-1zM963 86h1v3h-1zM963 92h1v3h-1zM963 98h1v3h-1zM963 104h1v3h-1zM963 110h1v3h-1zM963 116h1v3h-1zM963 122h1v3h-1zM963 128h1v3h-1zM963 134h1v3h-1zM963 140h1v3h-1zM963 146h1v3h-1zM963 152h1v3h-1zM963 158h1v3h-1zM963 164h1v3h-1zM963 170h1v3h-1zM963 176h1v3h-1zM963 182h1v3h-1zM963 188h1v3h-1zM963 194h1v3h-1zM963 200h1v3h-1zM963 206h1v3h-1zM963 212h1v3h-1zM963 218h1v3h-1zM963 224h1v3h-1zM963 230h1v3h-1zM963 236h1v3h-1zM963 242h1v3h-1zM963 248h1v3h-1zM963 254h1v3h-1zM963 260h1v3h-1zM963 266h1v3h-1zM963 272h1v3h-1zM963 278h1v3h-1zM963 284h1v3h-1zM963 290h1v3h-1zM963 296h1v3h-1zM963 302h1v3h-1zM963 308h1v3h-1zM963 314h1v3h-1zM963 320h1v3h-1zM963 326h1v3h-1zM963 332h1v3h-1zM963 338h1v3h-1zM963 344h1v3h-1zM963 350h1v3h-1zM963 356h1v3h-1zM963 362h1v3h-1zM963 368h1v3h-1zM963 374h1v3h-1zM963 380h1v3h-1zM963 386h1v3h-1zM963 392h1v3h-1zM963 398h1v3h-1zM963 404h1v3h-1zM963 410h1v3h-1zM963 416h1v3h-1zM963 422h1v3h-1zM963 428h1v3h-1zM963 434h1v3h-1zM963 440h1v3h-1zM963 446h1v3h-1zM963 452h1v3h-1zM963 458h1v1h-1zM963 464h1v3h-1zM963 470h1v3h-1zM963 476h1v3h-1zM963 482h1v3h-1zM963 488h1v3h-1zM963 494h1v3h-1zM963 500h1v3h-1zM963 506h1v3h-1zM963 512h1v3h-1zM963 518h1v3h-1zM963 524h1v3h-1zM963 530h1v3h-1zM963 536h1v3h-1zM963 542h1v3h-1zM963 548h1v3h-1zM963 554h1v3h-1zM963 560h1v3h-1zM963 566h1v3h-1zM963 572h1v3h-1zM963 578h1v3h-1zM963 584h1v3h-1zM963 590h1v3h-1zM963 596h1v3h-1zM963 602h1v3h-1zM963 608h1v3h-1zM963 614h1v3h-1zM963 620h1v3h-1zM963 626h1v3h-1zM963 632h1v3h-1zM963 638h1v3h-1zM963 644h1v3h-1zM963 650h1v3h-1zM963 656h1v3h-1zM963 662h1v3h-1zM963 668h1v3h-1zM963 674h1v3h-1zM963 680h1v3h-1zM963 686h1v3h-1zM963 692h1v3h-1zM963 698h1v3h-1zM963 704h1v3h-1zM963 710h1v3h-1zM963 716h1v3h-1zM963 722h1v3h-1zM963 728h1v3h-1zM963 734h1v3h-1zM963 740h1v3h-1zM995 3h1v2h-1zM995 8h1v3h-1zM995 14h1v3h-1zM995 20h1v3h-1zM995 26h1v3h-1zM995 32h1v3h-1zM995 38h1v3h-1zM995 44h1v3h-1zM995 50h1v3h-1zM995 56h1v3h-1zM995 62h1v3h-1zM995 68h1v3h-1zM995 74h1v3h-1zM995 80h1v3h-1zM995 86h1v3h-1zM995 92h1v3h-1zM995 98h1v3h-1zM995 104h1v3h-1zM995 110h1v3h-1zM995 116h1v3h-1zM995 122h1v3h-1zM995 128h1v3h-1zM995 134h1v3h-1zM995 140h1v3h-1zM995 146h1v3h-1zM995 152h1v3h-1zM995 158h1v3h-1zM995 164h1v3h-1zM995 170h1v3h-1zM995 176h1v3h-1zM995 182h1v3h-1zM995 188h1v3h-1zM995 194h1v3h-1zM995 200h1v3h-1zM995 206h1v3h-1zM995 212h1v3h-1zM995 218h1v3h-1zM995 224h1v3h-1zM995 230h1v3h-1zM995 236h1v3h-1zM995 242h1v3h-1zM995 248h1v3h-1zM995 254h1v3h-1zM995 260h1v3h-1zM995 266h1v3h-1zM995 272h1v3h-1zM995 278h1v3h-1zM995 284h1v3h-1zM995 290h1v3h-1zM995 296h1v3h-1zM995 302h1v3h-1zM995 308h1v3h-1zM995 314h1v3h-1zM995 320h1v3h-1zM995 326h1v3h-1zM995 332h1v3h-1zM995 338h1v3h-1zM995 344h1v3h-1zM995 350h1v3h-1zM995 356h1v3h-1zM995 362h1v3h-1zM995 368h1v3h-1zM995 374h1v3h-1zM995 380h1v3h-1zM995 386h1v3h-1zM995 392h1v3h-1zM995 398h1v3h-1zM995 404h1v3h-1zM995 410h1v3h-1zM995 416h1v3h-1zM995 422h1v3h-1zM995 428h1v3h-1zM995 434h1v3h-1zM995 440h1v3h-1zM995 446h1v3h-1zM995 452h1v3h-1zM995 458h1v1h-1zM995 464h1v3h-1zM995 470h1v3h-1zM995 476h1v3h-1zM995 482h1v3h-1zM995 488h1v3h-1zM995 494h1v3h-1zM995 500h1v3h-1zM995 506h1v3h-1zM995 512h1v3h-1zM995 518h1v3h-1zM995 524h1v3h-1zM995 530h1v3h-1zM995 536h1v3h-1zM995 542h1v3h-1zM995 548h1v3h-1zM995 554h1v3h-1zM995 560h1v3h-1zM995 566h1v3h-1zM995 572h1v3h-1zM995 578h1v3h-1zM995 584h1v3h-1zM995 590h1v3h-1zM995 596h1v3h-1zM995 602h1v3h-1zM995 608h1v3h-1zM995 614h1v3h-1zM995 620h1v3h-1zM995 626h1v3h-1zM995 632h1v3h-1zM995 638h1v3h-1zM995 644h1v3h-1zM995 650h1v3h-1zM995 656h1v3h-1zM995 662h1v3h-1zM995 668h1v3h-1zM995 674h1v3h-1zM995 680h1v3h-1zM995 686h1v3h-1zM995 692h1v3h-1zM995 698h1v3h-1zM995 704h1v3h-1zM995 710h1v3h-1zM995 716h1v3h-1zM995 722h1v3h-1zM995 728h1v3h-1zM995 734h1v3h-1zM995 740h1v3h-1zM1027 3h1v2h-1zM1027 8h1v3h-1zM1027 14h1v3h-1zM1027 20h1v3h-1zM1027 26h1v3h-1zM1027 32h1v3h-1zM1027 38h1v3h-1zM1027 44h1v3h-1zM1027 50h1v3h-1zM1027 56h1v3h-1zM1027 62h1v3h-1zM1027 68h1v3h-1zM1027 74h1v3h-1zM1027 80h1v3h-1zM1027 86h1v3h-1zM1027 92h1v3h-1zM1027 98h1v3h-1zM1027 104h1v3h-1zM1027 110h1v3h-1zM1027 116h1v3h-1zM1027 122h1v3h-1zM1027 128h1v3h-1zM1027 134h1v3h-1zM1027 140h1v3h-1zM1027 146h1v3h-1zM1027 152h1v3h-1zM1027 158h1v3h-1zM1027 164h1v3h-1zM1027 170h1v3h-1zM1027 176h1v3h-1zM1027 182h1v3h-1zM1027 188h1v3h-1zM1027 194h1v3h-1zM1027 200h1v3h-1zM1027 206h1v3h-1zM1027 212h1v3h-1zM1027 218h1v3h-1zM1027 224h1v3h-1zM1027 230h1v3h-1zM1027 236h1v3h-1zM1027 242h1v3h-1zM1027 248h1v3h-1zM1027 254h1v3h-1zM1027 260h1v3h-1zM1027 266h1v3h-1zM1027 272h1v3h-1zM1027 278h1v3h-1zM1027 284h1v3h-1zM1027 290h1v3h-1zM1027 296h1v3h-1zM1027 302h1v3h-1zM1027 308h1v3h-1zM1027 314h1v3h-1zM1027 320h1v3h-1zM1027 326h1v3h-1zM1027 332h1v3h-1zM1027 338h1v3h-1zM1027 344h1v3h-1zM1027 350h1v3h-1zM1027 356h1v3h-1zM1027 362h1v3h-1zM1027 368h1v3h-1zM1027 374h1v3h-1zM1027 380h1v3h-1zM1027 386h1v3h-1zM1027 392h1v3h-1zM1027 398h1v3h-1zM1027 404h1v3h-1zM1027 410h1v3h-1zM1027 416h1v3h-1zM1027 422h1v3h-1zM1027 428h1v3h-1zM1027 434h1v3h-1zM1027 440h1v3h-1zM1027 446h1v3h-1zM1027 452h1v3h-1zM1027 458h1v1h-1zM1027 464h1v3h-1zM1027 470h1v3h-1zM1027 476h1v3h-1zM1027 482h1v3h-1zM1027 488h1v3h-1zM1027 494h1v3h-1zM1027 500h1v3h-1zM1027 506h1v3h-1zM1027 512h1v3h-1zM1027 518h1v3h-1zM1027 524h1v3h-1zM1027 530h1v3h-1zM1027 536h1v3h-1zM1027 542h1v3h-1zM1027 548h1v3h-1zM1027 554h1v3h-1zM1027 560h1v3h-1zM1027 566h1v3h-1zM1027 572h1v3h-1zM1027 578h1v3h-1zM1027 584h1v3h-1zM1027 590h1v3h-1zM1027 596h1v3h-1zM1027 602h1v3h-1zM1027 608h1v3h-1zM1027 614h1v3h-1zM1027 620h1v3h-1zM1027 626h1v3h-1zM1027 632h1v3h-1zM1027 638h1v3h-1zM1027 644h1v3h-1zM1027 650h1v3h-1zM1027 656h1v3h-1zM1027 662h1v3h-1zM1027 668h1v3h-1zM1027 674h1v3h-1zM1027 680h1v3h-1zM1027 686h1v3h-1zM1027 692h1v3h-1zM1027 698h1v3h-1zM1027 704h1v3h-1zM1027 710h1v3h-1zM1027 716h1v3h-1zM1027 722h1v3h-1zM1027 728h1v3h-1zM1027 734h1v3h-1zM1027 740h1v3h-1zM1059 3h1v2h-1zM1059 8h1v3h-1zM1059 14h1v3h-1zM1059 20h1v3h-1zM1059 26h1v3h-1zM1059 32h1v3h-1zM1059 38h1v3h-1zM1059 44h1v3h-1zM1059 50h1v3h-1zM1059 56h1v3h-1zM1059 62h1v3h-1zM1059 68h1v3h-1zM1059 74h1v3h-1zM1059 80h1v3h-1zM1059 86h1v3h-1zM1059 92h1v3h-1zM1059 98h1v3h-1zM1059 104h1v3h-1zM1059 110h1v3h-1zM1059 116h1v3h-1zM1059 122h1v3h-1zM1059 128h1v3h-1zM1059 134h1v3h-1zM1059 140h1v3h-1zM1059 146h1v3h-1zM1059 152h1v3h-1zM1059 158h1v3h-1zM1059 164h1v3h-1zM1059 170h1v3h-1zM1059 176h1v3h-1zM1059 182h1v3h-1zM1059 188h1v3h-1zM1059 194h1v3h-1zM1059 200h1v3h-1zM1059 206h1v3h-1zM1059 212h1v3h-1zM1059 218h1v3h-1zM1059 224h1v3h-1zM1059 230h1v3h-1zM1059 236h1v3h-1zM1059 242h1v3h-1zM1059 248h1v3h-1zM1059 254h1v3h-1zM1059 260h1v3h-1zM1059 266h1v3h-1zM1059 272h1v3h-1zM1059 278h1v3h-1zM1059 284h1v3h-1zM1059 290h1v3h-1zM1059 296h1v3h-1zM1059 302h1v3h-1zM1059 308h1v3h-1zM1059 314h1v3h-1zM1059 320h1v3h-1zM1059 326h1v3h-1zM1059 332h1v3h-1zM1059 338h1v3h-1zM1059 344h1v3h-1zM1059 350h1v3h-1zM1059 356h1v3h-1zM1059 362h1v3h-1zM1059 368h1v3h-1zM1059 374h1v3h-1zM1059 380h1v3h-1zM1059 386h1v3h-1zM1059 392h1v3h-1zM1059 398h1v3h-1zM1059 404h1v3h-1zM1059 410h1v3h-1zM1059 416h1v3h-1zM1059 422h1v3h-1zM1059 428h1v3h-1zM1059 434h1v3h-1zM1059 440h1v3h-1zM1059 446h1v3h-1zM1059 452h1v3h-1zM1059 458h1v1h-1zM1059 464h1v3h-1zM1059 470h1v3h-1zM1059 476h1v3h-1zM1059 482h1v3h-1zM1059 488h1v3h-1zM1059 494h1v3h-1zM1059 500h1v3h-1zM1059 506h1v3h-1zM1059 512h1v3h-1zM1059 518h1v3h-1zM1059 524h1v3h-1zM1059 530h1v3h-1zM1059 536h1v3h-1zM1059 542h1v3h-1zM1059 548h1v3h-1zM1059 554h1v3h-1zM1059 560h1v3h-1zM1059 566h1v3h-1zM1059 572h1v3h-1zM1059 578h1v3h-1zM1059 584h1v3h-1zM1059 590h1v3h-1zM1059 596h1v3h-1zM1059 602h1v3h-1zM1059 608h1v3h-1zM1059 614h1v3h-1zM1059 620h1v3h-1zM1059 626h1v3h-1zM1059 632h1v3h-1zM1059 638h1v3h-1zM1059 644h1v3h-1zM1059 650h1v3h-1zM1059 656h1v3h-1zM1059 662h1v3h-1zM1059 668h1v3h-1zM1059 674h1v3h-1zM1059 680h1v3h-1zM1059 686h1v3h-1zM1059 692h1v3h-1zM1059 698h1v3h-1zM1059 704h1v3h-1zM1059 710h1v3h-1zM1059 716h1v3h-1zM1059 722h1v3h-1zM1059 728h1v3h-1zM1059 734h1v3h-1zM1059 740h1v3h-1zM1091 3h1v2h-1zM1091 8h1v3h-1zM1091 14h1v3h-1zM1091 20h1v3h-1zM1091 26h1v3h-1zM1091 32h1v3h-1zM1091 38h1v3h-1zM1091 44h1v3h-1zM1091 50h1v3h-1zM1091 56h1v3h-1zM1091 62h1v3h-1zM1091 68h1v3h-1zM1091 74h1v3h-1zM1091 80h1v3h-1zM1091 86h1v3h-1zM1091 92h1v3h-1zM1091 98h1v3h-1zM1091 104h1v3h-1zM1091 110h1v3h-1zM1091 116h1v3h-1zM1091 122h1v3h-1zM1091 128h1v3h-1zM1091 134h1v3h-1zM1091 140h1v3h-1zM1091 146h1v3h-1zM1091 152h1v3h-1zM1091 158h1v3h-1zM1091 164h1v3h-1zM1091 170h1v3h-1zM1091 176h1v3h-1zM1091 182h1v3h-1zM1091 188h1v3h-1zM1091 194h1v3h-1zM1091 200h1v3h-1zM1091 206h1v3h-1zM1091 212h1v3h-1zM1091 218h1v3h-1zM1091 224h1v3h-1zM1091 230h1v3h-1zM1091 236h1v3h-1zM1091 242h1v3h-1zM1091 248h1v3h-1zM1091 254h1v3h-1zM1091 260h1v3h-1zM1091 266h1v3h-1zM1091 272h1v3h-1zM1091 278h1v3h-1zM1091 284h1v3h-1zM1091 290h1v3h-1zM1091 296h1v3h-1zM1091 302h1v3h-1zM1091 308h1v3h-1zM1091 314h1v3h-1zM1091 320h1v3h-1zM1091 326h1v3h-1zM1091 332h1v3h-1zM1091 338h1v3h-1zM1091 344h1v3h-1zM1091 350h1v3h-1zM1091 356h1v3h-1zM1091 362h1v3h-1zM1091 368h1v3h-1zM1091 374h1v3h-1zM1091 380h1v3h-1zM1091 386h1v3h-1zM1091 392h1v3h-1zM1091 398h1v3h-1zM1091 404h1v3h-1zM1091 410h1v3h-1zM1091 416h1v3h-1zM1091 422h1v3h-1zM1091 428h1v3h-1zM1091 434h1v3h-1zM1091 440h1v3h-1zM1091 446h1v3h-1zM1091 452h1v3h-1zM1091 458h1v1h-1zM1091 464h1v3h-1zM1091 470h1v3h-1zM1091 476h1v3h-1zM1091 482h1v3h-1zM1091 488h1v3h-1zM1091 494h1v3h-1zM1091 500h1v3h-1zM1091 506h1v3h-1zM1091 512h1v3h-1zM1091 518h1v3h-1zM1091 524h1v3h-1zM1091 530h1v3h-1zM1091 536h1v3h-1zM1091 542h1v3h-1zM1091 548h1v3h-1zM1091 554h1v3h-1zM1091 560h1v3h-1zM1091 566h1v3h-1zM1091 572h1v3h-1zM1091 578h1v3h-1zM1091 584h1v3h-1zM1091 590h1v3h-1zM1091 596h1v3h-1zM1091 602h1v3h-1zM1091 608h1v3h-1zM1091 614h1v3h-1zM1091 620h1v3h-1zM1091 626h1v3h-1zM1091 632h1v3h-1zM1091 638h1v3h-1zM1091 644h1v3h-1zM1091 650h1v3h-1zM1091 656h1v3h-1zM1091 662h1v3h-1zM1091 668h1v3h-1zM1091 674h1v3h-1zM1091 680h1v3h-1zM1091 686h1v3h-1zM1091 692h1v3h-1zM1091 698h1v3h-1zM1091 704h1v3h-1zM1091 710h1v3h-1zM1091 716h1v3h-1zM1091 722h1v3h-1zM1091 728h1v3h-1zM1091 734h1v3h-1zM1091 740h1v3h-1zM1123 3h1v2h-1zM1123 8h1v3h-1zM1123 14h1v3h-1zM1123 20h1v3h-1zM1123 26h1v3h-1zM1123 32h1v3h-1zM1123 38h1v3h-1zM1123 44h1v3h-1zM1123 50h1v3h-1zM1123 56h1v3h-1zM1123 62h1v3h-1zM1123 68h1v3h-1zM1123 74h1v3h-1zM1123 80h1v3h-1zM1123 86h1v3h-1zM1123 92h1v3h-1zM1123 98h1v3h-1zM1123 104h1v3h-1zM1123 110h1v3h-1zM1123 116h1v3h-1zM1123 122h1v3h-1zM1123 128h1v3h-1zM1123 134h1v3h-1zM1123 140h1v3h-1zM1123 146h1v3h-1zM1123 152h1v3h-1zM1123 158h1v3h-1zM1123 164h1v3h-1zM1123 170h1v3h-1zM1123 176h1v3h-1zM1123 182h1v3h-1zM1123 188h1v3h-1zM1123 194h1v3h-1zM1123 200h1v3h-1zM1123 206h1v3h-1zM1123 212h1v3h-1zM1123 218h1v3h-1zM1123 224h1v3h-1zM1123 230h1v3h-1zM1123 236h1v3h-1zM1123 242h1v3h-1zM1123 248h1v3h-1zM1123 254h1v3h-1zM1123 260h1v3h-1zM1123 266h1v3h-1zM1123 272h1v3h-1zM1123 278h1v3h-1zM1123 284h1v3h-1zM1123 290h1v3h-1zM1123 296h1v3h-1zM1123 302h1v3h-1zM1123 308h1v3h-1zM1123 314h1v3h-1zM1123 320h1v3h-1zM1123 326h1v3h-1zM1123 332h1v3h-1zM1123 338h1v3h-1zM1123 344h1v3h-1zM1123 350h1v3h-1zM1123 356h1v3h-1zM1123 362h1v3h-1zM1123 368h1v3h-1zM1123 374h1v3h-1zM1123 380h1v3h-1zM1123 386h1v3h-1zM1123 392h1v3h-1zM1123 398h1v3h-1zM1123 404h1v3h-1zM1123 410h1v3h-1zM1123 416h1v3h-1zM1123 422h1v3h-1zM1123 428h1v3h-1zM1123 434h1v3h-1zM1123 440h1v3h-1zM1123 446h1v3h-1zM1123 452h1v3h-1zM1123 458h1v1h-1zM1123 464h1v3h-1zM1123 470h1v3h-1zM1123 476h1v3h-1zM1123 482h1v3h-1zM1123 488h1v3h-1zM1123 494h1v3h-1zM1123 500h1v3h-1zM1123 506h1v3h-1zM1123 512h1v3h-1zM1123 518h1v3h-1zM1123 524h1v3h-1zM1123 530h1v3h-1zM1123 536h1v3h-1zM1123 542h1v3h-1zM1123 548h1v3h-1zM1123 554h1v3h-1zM1123 560h1v3h-1zM1123 566h1v3h-1zM1123 572h1v3h-1zM1123 578h1v3h-1zM1123 584h1v3h-1zM1123 590h1v3h-1zM1123 596h1v3h-1zM1123 602h1v3h-1zM1123 608h1v3h-1zM1123 614h1v3h-1zM1123 620h1v3h-1zM1123 626h1v3h-1zM1123 632h1v3h-1zM1123 638h1v3h-1zM1123 644h1v3h-1zM1123 650h1v3h-1zM1123 656h1v3h-1zM1123 662h1v3h-1zM1123 668h1v3h-1zM1123 674h1v3h-1zM1123 680h1v3h-1zM1123 686h1v3h-1zM1123 692h1v3h-1zM1123 698h1v3h-1zM1123 704h1v3h-1zM1123 710h1v3h-1zM1123 716h1v3h-1zM1123 722h1v3h-1zM1123 728h1v3h-1zM1123 734h1v3h-1zM1123 740h1v3h-1zM1155 3h1v2h-1zM1155 8h1v3h-1zM1155 14h1v3h-1zM1155 20h1v3h-1zM1155 26h1v3h-1zM1155 32h1v3h-1zM1155 38h1v3h-1zM1155 44h1v3h-1zM1155 50h1v3h-1zM1155 56h1v3h-1zM1155 62h1v3h-1zM1155 68h1v3h-1zM1155 74h1v3h-1zM1155 80h1v3h-1zM1155 86h1v3h-1zM1155 92h1v3h-1zM1155 98h1v3h-1zM1155 104h1v3h-1zM1155 110h1v3h-1zM1155 116h1v3h-1zM1155 122h1v3h-1zM1155 128h1v3h-1zM1155 134h1v3h-1zM1155 140h1v3h-1zM1155 146h1v3h-1zM1155 152h1v3h-1zM1155 158h1v3h-1zM1155 164h1v3h-1zM1155 170h1v3h-1zM1155 176h1v3h-1zM1155 182h1v3h-1zM1155 188h1v3h-1zM1155 194h1v3h-1zM1155 200h1v3h-1zM1155 206h1v3h-1zM1155 212h1v3h-1zM1155 218h1v3h-1zM1155 224h1v3h-1zM1155 230h1v3h-1zM1155 236h1v3h-1zM1155 242h1v3h-1zM1155 248h1v3h-1zM1155 254h1v3h-1zM1155 260h1v3h-1zM1155 266h1v3h-1zM1155 272h1v3h-1zM1155 278h1v3h-1zM1155 284h1v3h-1zM1155 290h1v3h-1zM1155 296h1v3h-1zM1155 302h1v3h-1zM1155 308h1v3h-1zM1155 314h1v3h-1zM1155 320h1v3h-1zM1155 326h1v3h-1zM1155 332h1v3h-1zM1155 338h1v3h-1zM1155 344h1v3h-1zM1155 350h1v3h-1zM1155 356h1v3h-1zM1155 362h1v3h-1zM1155 368h1v3h-1zM1155 374h1v3h-1zM1155 380h1v3h-1zM1155 386h1v3h-1zM1155 392h1v3h-1zM1155 398h1v3h-1zM1155 404h1v3h-1zM1155 410h1v3h-1zM1155 416h1v3h-1zM1155 422h1v3h-1zM1155 428h1v3h-1zM1155 434h1v3h-1zM1155 440h1v3h-1zM1155 446h1v3h-1zM1155 452h1v3h-1zM1155 458h1v1h-1zM1155 464h1v3h-1zM1155 470h1v3h-1zM1155 476h1v3h-1zM1155 482h1v3h-1zM1155 488h1v3h-1zM1155 494h1v3h-1zM1155 500h1v3h-1zM1155 506h1v3h-1zM1155 512h1v3h-1zM1155 518h1v3h-1zM1155 524h1v3h-1zM1155 530h1v3h-1zM1155 536h1v3h-1zM1155 542h1v3h-1zM1155 548h1v3h-1zM1155 554h1v3h-1zM1155 560h1v3h-1zM1155 566h1v3h-1zM1155 572h1v3h-1zM1155 578h1v3h-1zM1155 584h1v3h-1zM1155 590h1v3h-1zM1155 596h1v3h-1zM1155 602h1v3h-1zM1155 608h1v3h-1zM1155 614h1v3h-1zM1155 620h1v3h-1zM1155 626h1v3h-1zM1155 632h1v3h-1zM1155 638h1v3h-1zM1155 644h1v3h-1zM1155 650h1v3h-1zM1155 656h1v3h-1zM1155 662h1v3h-1zM1155 668h1v3h-1zM1155 674h1v3h-1zM1155 680h1v3h-1zM1155 686h1v3h-1zM1155 692h1v3h-1zM1155 698h1v3h-1zM1155 704h1v3h-1zM1155 710h1v3h-1zM1155 716h1v3h-1zM1155 722h1v3h-1zM1155 728h1v3h-1zM1155 734h1v3h-1zM1155 740h1v3h-1zM1187 3h1v2h-1zM1187 8h1v3h-1zM1187 14h1v3h-1zM1187 20h1v3h-1zM1187 26h1v3h-1zM1187 32h1v3h-1zM1187 38h1v3h-1zM1187 44h1v3h-1zM1187 50h1v3h-1zM1187 56h1v3h-1zM1187 62h1v3h-1zM1187 68h1v3h-1zM1187 74h1v3h-1zM1187 80h1v3h-1zM1187 86h1v3h-1zM1187 92h1v3h-1zM1187 98h1v3h-1zM1187 104h1v3h-1zM1187 110h1v3h-1zM1187 116h1v3h-1zM1187 122h1v3h-1zM1187 128h1v3h-1zM1187 134h1v3h-1zM1187 140h1v3h-1zM1187 146h1v3h-1zM1187 152h1v3h-1zM1187 158h1v3h-1zM1187 164h1v3h-1zM1187 170h1v3h-1zM1187 176h1v3h-1zM1187 182h1v3h-1zM1187 188h1v3h-1zM1187 194h1v3h-1zM1187 200h1v3h-1zM1187 206h1v3h-1zM1187 212h1v3h-1zM1187 218h1v3h-1zM1187 224h1v3h-1zM1187 230h1v3h-1zM1187 236h1v3h-1zM1187 242h1v3h-1zM1187 248h1v3h-1zM1187 254h1v3h-1zM1187 260h1v3h-1zM1187 266h1v3h-1zM1187 272h1v3h-1zM1187 278h1v3h-1zM1187 284h1v3h-1zM1187 290h1v3h-1zM1187 296h1v3h-1zM1187 302h1v3h-1zM1187 308h1v3h-1zM1187 314h1v3h-1zM1187 320h1v3h-1zM1187 326h1v3h-1zM1187 332h1v3h-1zM1187 338h1v3h-1zM1187 344h1v3h-1zM1187 350h1v3h-1zM1187 356h1v3h-1zM1187 362h1v3h-1zM1187 368h1v3h-1zM1187 374h1v3h-1zM1187 380h1v3h-1zM1187 386h1v3h-1zM1187 392h1v3h-1zM1187 398h1v3h-1zM1187 404h1v3h-1zM1187 410h1v3h-1zM1187 416h1v3h-1zM1187 422h1v3h-1zM1187 428h1v3h-1zM1187 434h1v3h-1zM1187 440h1v3h-1zM1187 446h1v3h-1zM1187 452h1v3h-1zM1187 458h1v1h-1zM1187 464h1v3h-1zM1187 470h1v3h-1zM1187 476h1v3h-1zM1187 482h1v3h-1zM1187 488h1v3h-1zM1187 494h1v3h-1zM1187 500h1v3h-1zM1187 506h1v3h-1zM1187 512h1v3h-1zM1187 518h1v3h-1zM1187 524h1v3h-1zM1187 530h1v3h-1zM1187 536h1v3h-1zM1187 542h1v3h-1zM1187 548h1v3h-1zM1187 554h1v3h-1zM1187 560h1v3h-1zM1187 566h1v3h-1zM1187 572h1v3h-1zM1187 578h1v3h-1zM1187 584h1v3h-1zM1187 590h1v3h-1zM1187 596h1v3h-1zM1187 602h1v3h-1zM1187 608h1v3h-1zM1187 614h1v3h-1zM1187 620h1v3h-1zM1187 626h1v3h-1zM1187 632h1v3h-1zM1187 638h1v3h-1zM1187 644h1v3h-1zM1187 650h1v3h-1zM1187 656h1v3h-1zM1187 662h1v3h-1zM1187 668h1v3h-1zM1187 674h1v3h-1zM1187 680h1v3h-1zM1187 686h1v3h-1zM1187 692h1v3h-1zM1187 698h1v3h-1zM1187 704h1v3h-1zM1187 710h1v3h-1zM1187 716h1v3h-1zM1187 722h1v3h-1zM1187 728h1v3h-1zM1187 734h1v3h-1zM1187 740h1v3h-1zM1219 3h1v2h-1zM1219 8h1v3h-1zM1219 14h1v3h-1zM1219 20h1v3h-1zM1219 26h1v3h-1zM1219 32h1v3h-1zM1219 38h1v3h-1zM1219 44h1v3h-1zM1219 50h1v3h-1zM1219 56h1v3h-1zM1219 62h1v3h-1zM1219 68h1v3h-1zM1219 74h1v3h-1zM1219 80h1v3h-1zM1219 86h1v3h-1zM1219 92h1v3h-1zM1219 98h1v3h-1zM1219 104h1v3h-1zM1219 110h1v3h-1zM1219 116h1v3h-1zM1219 122h1v3h-1zM1219 128h1v3h-1zM1219 134h1v3h-1zM1219 140h1v3h-1zM1219 146h1v3h-1zM1219 152h1v3h-1zM1219 158h1v3h-1zM1219 164h1v3h-1zM1219 170h1v3h-1zM1219 176h1v3h-1zM1219 182h1v3h-1zM1219 188h1v3h-1zM1219 194h1v3h-1zM1219 200h1v3h-1zM1219 206h1v3h-1zM1219 212h1v3h-1zM1219 218h1v3h-1zM1219 224h1v3h-1zM1219 230h1v3h-1zM1219 236h1v3h-1zM1219 242h1v3h-1zM1219 248h1v3h-1zM1219 254h1v3h-1zM1219 260h1v3h-1zM1219 266h1v3h-1zM1219 272h1v3h-1zM1219 278h1v3h-1zM1219 284h1v3h-1zM1219 290h1v3h-1zM1219 296h1v3h-1zM1219 302h1v3h-1zM1219 308h1v3h-1zM1219 314h1v3h-1zM1219 320h1v3h-1zM1219 326h1v3h-1zM1219 332h1v3h-1zM1219 338h1v3h-1zM1219 344h1v3h-1zM1219 350h1v3h-1zM1219 356h1v3h-1zM1219 362h1v3h-1zM1219 368h1v3h-1zM1219 374h1v3h-1zM1219 380h1v3h-1zM1219 386h1v3h-1zM1219 392h1v3h-1zM1219 398h1v3h-1zM1219 404h1v3h-1zM1219 410h1v3h-1zM1219 416h1v3h-1zM1219 422h1v3h-1zM1219 428h1v3h-1zM1219 434h1v3h-1zM1219 440h1v3h-1zM1219 446h1v3h-1zM1219 452h1v3h-1zM1219 458h1v1h-1zM1219 464h1v3h-1zM1219 470h1v3h-1zM1219 476h1v3h-1zM1219 482h1v3h-1zM1219 488h1v3h-1zM1219 494h1v3h-1zM1219 500h1v3h-1zM1219 506h1v3h-1zM1219 512h1v3h-1zM1219 518h1v3h-1zM1219 524h1v3h-1zM1219 530h1v3h-1zM1219 536h1v3h-1zM1219 542h1v3h-1zM1219 548h1v3h-1zM1219 554h1v3h-1zM1219 560h1v3h-1zM1219 566h1v3h-1zM1219 572h1v3h-1zM1219 578h1v3h-1zM1219 584h1v3h-1zM1219 590h1v3h-1zM1219 596h1v3h-1zM1219 602h1v3h-1zM1219 608h1v3h-1zM1219 614h1v3h-1zM1219 620h1v3h-1zM1219 626h1v3h-1zM1219 632h1v3h-1zM1219 638h1v3h-1zM1219 644h1v3h-1zM1219 650h1v3h-1zM1219 656h1v3h-1zM1219 662h1v3h-1zM1219 668h1v3h-1zM1219 674h1v3h-1zM1219 680h1v3h-1zM1219 686h1v3h-1zM1219 692h1v3h-1zM1219 698h1v3h-1zM1219 704h1v3h-1zM1219 710h1v3h-1zM1219 716h1v3h-1zM1219 722h1v3h-1zM1219 728h1v3h-1zM1219 734h1v3h-1zM1219 740h1v3h-1zM1251 3h1v2h-1zM1251 8h1v3h-1zM1251 14h1v3h-1zM1251 20h1v3h-1zM1251 26h1v3h-1zM1251 32h1v3h-1zM1251 38h1v3h-1zM1251 44h1v3h-1zM1251 50h1v3h-1zM1251 56h1v3h-1zM1251 62h1v3h-1zM1251 68h1v3h-1zM1251 74h1v3h-1zM1251 80h1v3h-1zM1251 86h1v3h-1zM1251 92h1v3h-1zM1251 98h1v3h-1zM1251 104h1v3h-1zM1251 110h1v3h-1zM1251 116h1v3h-1zM1251 122h1v3h-1zM1251 128h1v3h-1zM1251 134h1v3h-1zM1251 140h1v3h-1zM1251 146h1v3h-1zM1251 152h1v3h-1zM1251 158h1v3h-1zM1251 164h1v3h-1zM1251 170h1v3h-1zM1251 176h1v3h-1zM1251 182h1v3h-1zM1251 188h1v3h-1zM1251 194h1v3h-1zM1251 200h1v3h-1zM1251 206h1v3h-1zM1251 212h1v3h-1zM1251 218h1v3h-1zM1251 224h1v3h-1zM1251 230h1v3h-1zM1251 236h1v3h-1zM1251 242h1v3h-1zM1251 248h1v3h-1zM1251 254h1v3h-1zM1251 260h1v3h-1zM1251 266h1v3h-1zM1251 272h1v3h-1zM1251 278h1v3h-1zM1251 284h1v3h-1zM1251 290h1v3h-1zM1251 296h1v3h-1zM1251 302h1v3h-1zM1251 308h1v3h-1zM1251 314h1v3h-1zM1251 320h1v3h-1zM1251 326h1v3h-1zM1251 332h1v3h-1zM1251 338h1v3h-1zM1251 344h1v3h-1zM1251 350h1v3h-1zM1251 356h1v3h-1zM1251 362h1v3h-1zM1251 368h1v3h-1zM1251 374h1v3h-1zM1251 380h1v3h-1zM1251 386h1v3h-1zM1251 392h1v3h-1zM1251 398h1v3h-1zM1251 404h1v3h-1zM1251 410h1v3h-1zM1251 416h1v3h-1zM1251 422h1v3h-1zM1251 428h1v3h-1zM1251 434h1v3h-1zM1251 440h1v3h-1zM1251 446h1v3h-1zM1251 452h1v3h-1zM1251 458h1v1h-1zM1251 464h1v3h-1zM1251 470h1v3h-1zM1251 476h1v3h-1zM1251 482h1v3h-1zM1251 488h1v3h-1zM1251 494h1v3h-1zM1251 500h1v3h-1zM1251 506h1v3h-1zM1251 512h1v3h-1zM1251 518h1v3h-1zM1251 524h1v3h-1zM1251 530h1v3h-1zM1251 536h1v3h-1zM1251 542h1v3h-1zM1251 548h1v3h-1zM1251 554h1v3h-1zM1251 560h1v3h-1zM1251 566h1v3h-1zM1251 572h1v3h-1zM1251 578h1v3h-1zM1251 584h1v3h-1zM1251 590h1v3h-1zM1251 596h1v3h-1zM1251 602h1v3h-1zM1251 608h1v3h-1zM1251 614h1v3h-1zM1251 620h1v3h-1zM1251 626h1v3h-1zM1251 632h1v3h-1zM1251 638h1v3h-1zM1251 644h1v3h-1zM1251 650h1v3h-1zM1251 656h1v3h-1zM1251 662h1v3h-1zM1251 668h1v3h-1zM1251 674h1v3h-1zM1251 680h1v3h-1zM1251 686h1v3h-1zM1251 692h1v3h-1zM1251 698h1v3h-1zM1251 704h1v3h-1zM1251 710h1v3h-1zM1251 716h1v3h-1zM1251 722h1v3h-1zM1251 728h1v3h-1zM1251 734h1v3h-1zM1251 740h1v3h-1zM1283 3h1v2h-1zM1283 8h1v3h-1zM1283 14h1v3h-1zM1283 20h1v3h-1zM1283 26h1v3h-1zM1283 32h1v3h-1zM1283 38h1v3h-1zM1283 44h1v3h-1zM1283 50h1v3h-1zM1283 56h1v3h-1zM1283 62h1v3h-1zM1283 68h1v3h-1zM1283 74h1v3h-1zM1283 80h1v3h-1zM1283 86h1v3h-1zM1283 92h1v3h-1zM1283 98h1v3h-1zM1283 104h1v3h-1zM1283 110h1v3h-1zM1283 116h1v3h-1zM1283 122h1v3h-1zM1283 128h1v3h-1zM1283 134h1v3h-1zM1283 140h1v3h-1zM1283 146h1v3h-1zM1283 152h1v3h-1zM1283 158h1v3h-1zM1283 164h1v3h-1zM1283 170h1v3h-1zM1283 176h1v3h-1zM1283 182h1v3h-1zM1283 188h1v3h-1zM1283 194h1v3h-1zM1283 200h1v3h-1zM1283 206h1v3h-1zM1283 212h1v3h-1zM1283 218h1v3h-1zM1283 224h1v3h-1zM1283 230h1v3h-1zM1283 236h1v3h-1zM1283 242h1v3h-1zM1283 248h1v3h-1zM1283 254h1v3h-1zM1283 260h1v3h-1zM1283 266h1v3h-1zM1283 272h1v3h-1zM1283 278h1v3h-1zM1283 284h1v3h-1zM1283 290h1v3h-1zM1283 296h1v3h-1zM1283 302h1v3h-1zM1283 308h1v3h-1zM1283 314h1v3h-1zM1283 320h1v3h-1zM1283 326h1v3h-1zM1283 332h1v3h-1zM1283 338h1v3h-1zM1283 344h1v3h-1zM1283 350h1v3h-1zM1283 356h1v3h-1zM1283 362h1v3h-1zM1283 368h1v3h-1zM1283 374h1v3h-1zM1283 380h1v3h-1zM1283 386h1v3h-1zM1283 392h1v3h-1zM1283 398h1v3h-1zM1283 404h1v3h-1zM1283 410h1v3h-1zM1283 416h1v3h-1zM1283 422h1v3h-1zM1283 428h1v3h-1zM1283 434h1v3h-1zM1283 440h1v3h-1zM1283 446h1v3h-1zM1283 452h1v3h-1zM1283 458h1v1h-1zM1283 464h1v3h-1zM1283 470h1v3h-1zM1283 476h1v3h-1zM1283 482h1v3h-1zM1283 488h1v3h-1zM1283 494h1v3h-1zM1283 500h1v3h-1zM1283 506h1v3h-1zM1283 512h1v3h-1zM1283 518h1v3h-1zM1283 524h1v3h-1zM1283 530h1v3h-1zM1283 536h1v3h-1zM1283 542h1v3h-1zM1283 548h1v3h-1zM1283 554h1v3h-1zM1283 560h1v3h-1zM1283 566h1v3h-1zM1283 572h1v3h-1zM1283 578h1v3h-1zM1283 584h1v3h-1zM1283 590h1v3h-1zM1283 596h1v3h-1zM1283 602h1v3h-1zM1283 608h1v3h-1zM1283 614h1v3h-1zM1283 620h1v3h-1zM1283 626h1v3h-1zM1283 632h1v3h-1zM1283 638h1v3h-1zM1283 644h1v3h-1zM1283 650h1v3h-1zM1283 656h1v3h-1zM1283 662h1v3h-1zM1283 668h1v3h-1zM1283 674h1v3h-1zM1283 680h1v3h-1zM1283 686h1v3h-1zM1283 692h1v3h-1zM1283 698h1v3h-1zM1283 704h1v3h-1zM1283 710h1v3h-1zM1283 716h1v3h-1zM1283 722h1v3h-1zM1283 728h1v3h-1zM1283 734h1v3h-1zM1283 740h1v3h-1zM1315 3h1v2h-1zM1315 8h1v3h-1zM1315 14h1v3h-1zM1315 20h1v3h-1zM1315 26h1v3h-1zM1315 32h1v3h-1zM1315 38h1v3h-1zM1315 44h1v3h-1zM1315 50h1v3h-1zM1315 56h1v3h-1zM1315 62h1v3h-1zM1315 68h1v3h-1zM1315 74h1v3h-1zM1315 80h1v3h-1zM1315 86h1v3h-1zM1315 92h1v3h-1zM1315 98h1v3h-1zM1315 104h1v3h-1zM1315 110h1v3h-1zM1315 116h1v3h-1zM1315 122h1v3h-1zM1315 128h1v3h-1zM1315 134h1v3h-1zM1315 140h1v3h-1zM1315 146h1v3h-1zM1315 152h1v3h-1zM1315 158h1v3h-1zM1315 164h1v3h-1zM1315 170h1v3h-1zM1315 176h1v3h-1zM1315 182h1v3h-1zM1315 188h1v3h-1zM1315 194h1v3h-1zM1315 200h1v3h-1zM1315 206h1v3h-1zM1315 212h1v3h-1zM1315 218h1v3h-1zM1315 224h1v3h-1zM1315 230h1v3h-1zM1315 236h1v3h-1zM1315 242h1v3h-1zM1315 248h1v3h-1zM1315 254h1v3h-1zM1315 260h1v3h-1zM1315 266h1v3h-1zM1315 272h1v3h-1zM1315 278h1v3h-1zM1315 284h1v3h-1zM1315 290h1v3h-1zM1315 296h1v3h-1zM1315 302h1v3h-1zM1315 308h1v3h-1zM1315 314h1v3h-1zM1315 320h1v3h-1zM1315 326h1v3h-1zM1315 332h1v3h-1zM1315 338h1v3h-1zM1315 344h1v3h-1zM1315 350h1v3h-1zM1315 356h1v3h-1zM1315 362h1v3h-1zM1315 368h1v3h-1zM1315 374h1v3h-1zM1315 380h1v3h-1zM1315 386h1v3h-1zM1315 392h1v3h-1zM1315 398h1v3h-1zM1315 404h1v3h-1zM1315 410h1v3h-1zM1315 416h1v3h-1zM1315 422h1v3h-1zM1315 428h1v3h-1zM1315 434h1v3h-1zM1315 440h1v3h-1zM1315 446h1v3h-1zM1315 452h1v3h-1zM1315 458h1v1h-1zM1315 464h1v3h-1zM1315 470h1v3h-1zM1315 476h1v3h-1zM1315 482h1v3h-1zM1315 488h1v3h-1zM1315 494h1v3h-1zM1315 500h1v3h-1zM1315 506h1v3h-1zM1315 512h1v3h-1zM1315 518h1v3h-1zM1315 524h1v3h-1zM1315 530h1v3h-1zM1315 536h1v3h-1zM1315 542h1v3h-1zM1315 548h1v3h-1zM1315 554h1v3h-1zM1315 560h1v3h-1zM1315 566h1v3h-1zM1315 572h1v3h-1zM1315 578h1v3h-1zM1315 584h1v3h-1zM1315 590h1v3h-1zM1315 596h1v3h-1zM1315 602h1v3h-1zM1315 608h1v3h-1zM1315 614h1v3h-1zM1315 620h1v3h-1zM1315 626h1v3h-1zM1315 632h1v3h-1zM1315 638h1v3h-1zM1315 644h1v3h-1zM1315 650h1v3h-1zM1315 656h1v3h-1zM1315 662h1v3h-1zM1315 668h1v3h-1zM1315 674h1v3h-1zM1315 680h1v3h-1zM1315 686h1v3h-1zM1315 692h1v3h-1zM1315 698h1v3h-1zM1315 704h1v3h-1zM1315 710h1v3h-1zM1315 716h1v3h-1zM1315 722h1v3h-1zM1315 728h1v3h-1zM1315 734h1v3h-1zM1315 740h1v3h-1zM1347 3h1v2h-1zM1347 8h1v3h-1zM1347 14h1v3h-1zM1347 20h1v3h-1zM1347 26h1v3h-1zM1347 32h1v3h-1zM1347 38h1v3h-1zM1347 44h1v3h-1zM1347 50h1v3h-1zM1347 56h1v3h-1zM1347 62h1v3h-1zM1347 68h1v3h-1zM1347 74h1v3h-1zM1347 80h1v3h-1zM1347 86h1v3h-1zM1347 92h1v3h-1zM1347 98h1v3h-1zM1347 104h1v3h-1zM1347 110h1v3h-1zM1347 116h1v3h-1zM1347 122h1v3h-1zM1347 128h1v3h-1zM1347 134h1v3h-1zM1347 140h1v3h-1zM1347 146h1v3h-1zM1347 152h1v3h-1zM1347 158h1v3h-1zM1347 164h1v3h-1zM1347 170h1v3h-1zM1347 176h1v3h-1zM1347 182h1v3h-1zM1347 188h1v3h-1zM1347 194h1v3h-1zM1347 200h1v3h-1zM1347 206h1v3h-1zM1347 212h1v3h-1zM1347 218h1v3h-1zM1347 224h1v3h-1zM1347 230h1v3h-1zM1347 236h1v3h-1zM1347 242h1v3h-1zM1347 248h1v3h-1zM1347 254h1v3h-1zM1347 260h1v3h-1zM1347 266h1v3h-1zM1347 272h1v3h-1zM1347 278h1v3h-1zM1347 284h1v3h-1zM1347 290h1v3h-1zM1347 296h1v3h-1zM1347 302h1v3h-1zM1347 308h1v3h-1zM1347 314h1v3h-1zM1347 320h1v3h-1zM1347 326h1v3h-1zM1347 332h1v3h-1zM1347 338h1v3h-1zM1347 344h1v3h-1zM1347 350h1v3h-1zM1347 356h1v3h-1zM1347 362h1v3h-1zM1347 368h1v3h-1zM1347 374h1v3h-1zM1347 380h1v3h-1zM1347 386h1v3h-1zM1347 392h1v3h-1zM1347 398h1v3h-1zM1347 404h1v3h-1zM1347 410h1v3h-1zM1347 416h1v3h-1zM1347 422h1v3h-1zM1347 428h1v3h-1zM1347 434h1v3h-1zM1347 440h1v3h-1zM1347 446h1v3h-1zM1347 452h1v3h-1zM1347 458h1v1h-1zM1347 464h1v3h-1zM1347 470h1v3h-1zM1347 476h1v3h-1zM1347 482h1v3h-1zM1347 488h1v3h-1zM1347 494h1v3h-1zM1347 500h1v3h-1zM1347 506h1v3h-1zM1347 512h1v3h-1zM1347 518h1v3h-1zM1347 524h1v3h-1zM1347 530h1v3h-1zM1347 536h1v3h-1zM1347 542h1v3h-1zM1347 548h1v3h-1zM1347 554h1v3h-1zM1347 560h1v3h-1zM1347 566h1v3h-1zM1347 572h1v3h-1zM1347 578h1v3h-1zM1347 584h1v3h-1zM1347 590h1v3h-1zM1347 596h1v3h-1zM1347 602h1v3h-1zM1347 608h1v3h-1zM1347 614h1v3h-1zM1347 620h1v3h-1zM1347 626h1v3h-1zM1347 632h1v3h-1zM1347 638h1v3h-1zM1347 644h1v3h-1zM1347 650h1v3h-1zM1347 656h1v3h-1zM1347 662h1v3h-1zM1347 668h1v3h-1zM1347 674h1v3h-1zM1347 680h1v3h-1zM1347 686h1v3h-1zM1347 692h1v3h-1zM1347 698h1v3h-1zM1347 704h1v3h-1zM1347 710h1v3h-1zM1347 716h1v3h-1zM1347 722h1v3h-1zM1347 728h1v3h-1zM1347 734h1v3h-1zM1347 740h1v3h-1zM1379 3h1v2h-1zM1379 8h1v3h-1zM1379 14h1v3h-1zM1379 20h1v3h-1zM1379 26h1v3h-1zM1379 32h1v3h-1zM1379 38h1v3h-1zM1379 44h1v3h-1zM1379 50h1v3h-1zM1379 56h1v3h-1zM1379 62h1v3h-1zM1379 68h1v3h-1zM1379 74h1v3h-1zM1379 80h1v3h-1zM1379 86h1v3h-1zM1379 92h1v3h-1zM1379 98h1v3h-1zM1379 104h1v3h-1zM1379 110h1v3h-1zM1379 116h1v3h-1zM1379 122h1v3h-1zM1379 128h1v3h-1zM1379 134h1v3h-1zM1379 140h1v3h-1zM1379 146h1v3h-1zM1379 152h1v3h-1zM1379 158h1v3h-1zM1379 164h1v3h-1zM1379 170h1v3h-1zM1379 176h1v3h-1zM1379 182h1v3h-1zM1379 188h1v3h-1zM1379 194h1v3h-1zM1379 200h1v3h-1zM1379 206h1v3h-1zM1379 212h1v3h-1zM1379 218h1v3h-1zM1379 224h1v3h-1zM1379 230h1v3h-1zM1379 236h1v3h-1zM1379 242h1v3h-1zM1379 248h1v3h-1zM1379 254h1v3h-1zM1379 260h1v3h-1zM1379 266h1v3h-1zM1379 272h1v3h-1zM1379 278h1v3h-1zM1379 284h1v3h-1zM1379 290h1v3h-1zM1379 296h1v3h-1zM1379 302h1v3h-1zM1379 308h1v3h-1zM1379 314h1v3h-1zM1379 320h1v3h-1zM1379 326h1v3h-1zM1379 332h1v3h-1zM1379 338h1v3h-1zM1379 344h1v3h-1zM1379 350h1v3h-1zM1379 356h1v3h-1zM1379 362h1v3h-1zM1379 368h1v3h-1zM1379 374h1v3h-1zM1379 380h1v3h-1zM1379 386h1v3h-1zM1379 392h1v3h-1zM1379 398h1v3h-1zM1379 404h1v3h-1zM1379 410h1v3h-1zM1379 416h1v3h-1zM1379 422h1v3h-1zM1379 428h1v3h-1zM1379 434h1v3h-1zM1379 440h1v3h-1zM1379 446h1v3h-1zM1379 452h1v3h-1zM1379 458h1v1h-1zM1379 464h1v3h-1zM1379 470h1v3h-1zM1379 476h1v3h-1zM1379 482h1v3h-1zM1379 488h1v3h-1zM1379 494h1v3h-1zM1379 500h1v3h-1zM1379 506h1v3h-1zM1379 512h1v3h-1zM1379 518h1v3h-1zM1379 524h1v3h-1zM1379 530h1v3h-1zM1379 536h1v3h-1zM1379 542h1v3h-1zM1379 548h1v3h-1zM1379 554h1v3h-1zM1379 560h1v3h-1zM1379 566h1v3h-1zM1379 572h1v3h-1zM1379 578h1v3h-1zM1379 584h1v3h-1zM1379 590h1v3h-1zM1379 596h1v3h-1zM1379 602h1v3h-1zM1379 608h1v3h-1zM1379 614h1v3h-1zM1379 620h1v3h-1zM1379 626h1v3h-1zM1379 632h1v3h-1zM1379 638h1v3h-1zM1379 644h1v3h-1zM1379 650h1v3h-1zM1379 656h1v3h-1zM1379 662h1v3h-1zM1379 668h1v3h-1zM1379 674h1v3h-1zM1379 680h1v3h-1zM1379 686h1v3h-1zM1379 692h1v3h-1zM1379 698h1v3h-1zM1379 704h1v3h-1zM1379 710h1v3h-1zM1379 716h1v3h-1zM1379 722h1v3h-1zM1379 728h1v3h-1zM1379 734h1v3h-1zM1379 740h1v3h-1zM1411 3h1v2h-1zM1411 8h1v3h-1zM1411 14h1v3h-1zM1411 20h1v3h-1zM1411 26h1v3h-1zM1411 32h1v3h-1zM1411 38h1v3h-1zM1411 44h1v3h-1zM1411 50h1v3h-1zM1411 56h1v3h-1zM1411 62h1v3h-1zM1411 68h1v3h-1zM1411 74h1v3h-1zM1411 80h1v3h-1zM1411 86h1v3h-1zM1411 92h1v3h-1zM1411 98h1v3h-1zM1411 104h1v3h-1zM1411 110h1v3h-1zM1411 116h1v3h-1zM1411 122h1v3h-1zM1411 128h1v3h-1zM1411 134h1v3h-1zM1411 140h1v3h-1zM1411 146h1v3h-1zM1411 152h1v3h-1zM1411 158h1v3h-1zM1411 164h1v3h-1zM1411 170h1v3h-1zM1411 176h1v3h-1zM1411 182h1v3h-1zM1411 188h1v3h-1zM1411 194h1v3h-1zM1411 200h1v3h-1zM1411 206h1v3h-1zM1411 212h1v3h-1zM1411 218h1v3h-1zM1411 224h1v3h-1zM1411 230h1v3h-1zM1411 236h1v3h-1zM1411 242h1v3h-1zM1411 248h1v3h-1zM1411 254h1v3h-1zM1411 260h1v3h-1zM1411 266h1v3h-1zM1411 272h1v3h-1zM1411 278h1v3h-1zM1411 284h1v3h-1zM1411 290h1v3h-1zM1411 296h1v3h-1zM1411 302h1v3h-1zM1411 308h1v3h-1zM1411 314h1v3h-1zM1411 320h1v3h-1zM1411 326h1v3h-1zM1411 332h1v3h-1zM1411 338h1v3h-1zM1411 344h1v3h-1zM1411 350h1v3h-1zM1411 356h1v3h-1zM1411 362h1v3h-1zM1411 368h1v3h-1zM1411 374h1v3h-1zM1411 380h1v3h-1zM1411 386h1v3h-1zM1411 392h1v3h-1zM1411 398h1v3h-1zM1411 404h1v3h-1zM1411 410h1v3h-1zM1411 416h1v3h-1zM1411 422h1v3h-1zM1411 428h1v3h-1zM1411 434h1v3h-1zM1411 440h1v3h-1zM1411 446h1v3h-1zM1411 452h1v3h-1zM1411 458h1v1h-1zM1411 464h1v3h-1zM1411 470h1v3h-1zM1411 476h1v3h-1zM1411 482h1v3h-1zM1411 488h1v3h-1zM1411 494h1v3h-1zM1411 500h1v3h-1zM1411 506h1v3h-1zM1411 512h1v3h-1zM1411 518h1v3h-1zM1411 524h1v3h-1zM1411 530h1v3h-1zM1411 536h1v3h-1zM1411 542h1v3h-1zM1411 548h1v3h-1zM1411 554h1v3h-1zM1411 560h1v3h-1zM1411 566h1v3h-1zM1411 572h1v3h-1zM1411 578h1v3h-1zM1411 584h1v3h-1zM1411 590h1v3h-1zM1411 596h1v3h-1zM1411 602h1v3h-1zM1411 608h1v3h-1zM1411 614h1v3h-1zM1411 620h1v3h-1zM1411 626h1v3h-1zM1411 632h1v3h-1zM1411 638h1v3h-1zM1411 644h1v3h-1zM1411 650h1v3h-1zM1411 656h1v3h-1zM1411 662h1v3h-1zM1411 668h1v3h-1zM1411 674h1v3h-1zM1411 680h1v3h-1zM1411 686h1v3h-1zM1411 692h1v3h-1zM1411 698h1v3h-1zM1411 704h1v3h-1zM1411 710h1v3h-1zM1411 716h1v3h-1zM1411 722h1v3h-1zM1411 728h1v3h-1zM1411 734h1v3h-1zM1411 740h1v3h-1zM1443 3h1v2h-1zM1443 8h1v3h-1zM1443 14h1v3h-1zM1443 20h1v3h-1zM1443 26h1v3h-1zM1443 32h1v3h-1zM1443 38h1v3h-1zM1443 44h1v3h-1zM1443 50h1v3h-1zM1443 56h1v3h-1zM1443 62h1v3h-1zM1443 68h1v3h-1zM1443 74h1v3h-1zM1443 80h1v3h-1zM1443 86h1v3h-1zM1443 92h1v3h-1zM1443 98h1v3h-1zM1443 104h1v3h-1zM1443 110h1v3h-1zM1443 116h1v3h-1zM1443 122h1v3h-1zM1443 128h1v3h-1zM1443 134h1v3h-1zM1443 140h1v3h-1zM1443 146h1v3h-1zM1443 152h1v3h-1zM1443 158h1v3h-1zM1443 164h1v3h-1zM1443 170h1v3h-1zM1443 176h1v3h-1zM1443 182h1v3h-1zM1443 188h1v3h-1zM1443 194h1v3h-1zM1443 200h1v3h-1zM1443 206h1v3h-1zM1443 212h1v3h-1zM1443 218h1v3h-1zM1443 224h1v3h-1zM1443 230h1v3h-1zM1443 236h1v3h-1zM1443 242h1v3h-1zM1443 248h1v3h-1zM1443 254h1v3h-1zM1443 260h1v3h-1zM1443 266h1v3h-1zM1443 272h1v3h-1zM1443 278h1v3h-1zM1443 284h1v3h-1zM1443 290h1v3h-1zM1443 296h1v3h-1zM1443 302h1v3h-1zM1443 308h1v3h-1zM1443 314h1v3h-1zM1443 320h1v3h-1zM1443 326h1v3h-1zM1443 332h1v3h-1zM1443 338h1v3h-1zM1443 344h1v3h-1zM1443 350h1v3h-1zM1443 356h1v3h-1zM1443 362h1v3h-1zM1443 368h1v3h-1zM1443 374h1v3h-1zM1443 380h1v3h-1zM1443 386h1v3h-1zM1443 392h1v3h-1zM1443 398h1v3h-1zM1443 404h1v3h-1zM1443 410h1v3h-1zM1443 416h1v3h-1zM1443 422h1v3h-1zM1443 428h1v3h-1zM1443 434h1v3h-1zM1443 440h1v3h-1zM1443 446h1v3h-1zM1443 452h1v3h-1zM1443 458h1v1h-1zM1443 464h1v3h-1zM1443 470h1v3h-1zM1443 476h1v3h-1zM1443 482h1v3h-1zM1443 488h1v3h-1zM1443 494h1v3h-1zM1443 500h1v3h-1zM1443 506h1v3h-1zM1443 512h1v3h-1zM1443 518h1v3h-1zM1443 524h1v3h-1zM1443 530h1v3h-1zM1443 536h1v3h-1zM1443 542h1v3h-1zM1443 548h1v3h-1zM1443 554h1v3h-1zM1443 560h1v3h-1zM1443 566h1v3h-1zM1443 572h1v3h-1zM1443 578h1v3h-1zM1443 584h1v3h-1zM1443 590h1v3h-1zM1443 596h1v3h-1zM1443 602h1v3h-1zM1443 608h1v3h-1zM1443 614h1v3h-1zM1443 620h1v3h-1zM1443 626h1v3h-1zM1443 632h1v3h-1zM1443 638h1v3h-1zM1443 644h1v3h-1zM1443 650h1v3h-1zM1443 656h1v3h-1zM1443 662h1v3h-1zM1443 668h1v3h-1zM1443 674h1v3h-1zM1443 680h1v3h-1zM1443 686h1v3h-1zM1443 692h1v3h-1zM1443 698h1v3h-1zM1443 704h1v3h-1zM1443 710h1v3h-1zM1443 716h1v3h-1zM1443 722h1v3h-1zM1443 728h1v3h-1zM1443 734h1v3h-1zM1443 740h1v3h-1zM4 22h3v1h-3zM10 22h3v1h-3zM16 22h3v1h-3zM22 22h3v1h-3zM28 22h3v1h-3zM34 22h3v1h-3zM40 22h3v1h-3zM46 22h3v1h-3zM52 22h3v1h-3zM58 22h3v1h-3zM64 22h3v1h-3zM70 22h3v1h-3zM76 22h3v1h-3zM82 22h3v1h-3zM88 22h3v1h-3zM94 22h3v1h-3zM100 22h3v1h-3zM106 22h3v1h-3zM112 22h3v1h-3zM118 22h3v1h-3zM124 22h3v1h-3zM130 22h3v1h-3zM136 22h3v1h-3zM142 22h3v1h-3zM148 22h3v1h-3zM154 22h3v1h-3zM160 22h3v1h-3zM166 22h3v1h-3zM172 22h3v1h-3zM178 22h3v1h-3zM184 22h3v1h-3zM190 22h3v1h-3zM196 22h3v1h-3zM202 22h3v1h-3zM208 22h3v1h-3zM214 22h3v1h-3zM220 22h3v1h-3zM226 22h3v1h-3zM232 22h3v1h-3zM238 22h3v1h-3zM244 22h3v1h-3zM250 22h3v1h-3zM256 22h3v1h-3zM262 22h3v1h-3zM268 22h3v1h-3zM274 22h3v1h-3zM280 22h3v1h-3zM286 22h3v1h-3zM292 22h3v1h-3zM298 22h3v1h-3zM304 22h3v1h-3zM310 22h3v1h-3zM316 22h3v1h-3zM322 22h3v1h-3zM328 22h3v1h-3zM334 22h3v1h-3zM340 22h3v1h-3zM346 22h3v1h-3zM352 22h3v1h-3zM358 22h3v1h-3zM364 22h3v1h-3zM370 22h3v1h-3zM376 22h3v1h-3zM382 22h3v1h-3zM388 22h3v1h-3zM394 22h3v1h-3zM400 22h3v1h-3zM406 22h3v1h-3zM412 22h3v1h-3zM418 22h3v1h-3zM424 22h3v1h-3zM430 22h3v1h-3zM436 22h3v1h-3zM442 22h3v1h-3zM448 22h3v1h-3zM454 22h3v1h-3zM460 22h3v1h-3zM466 22h3v1h-3zM472 22h3v1h-3zM478 22h3v1h-3zM484 22h3v1h-3zM490 22h3v1h-3zM496 22h3v1h-3zM502 22h3v1h-3zM508 22h3v1h-3zM514 22h3v1h-3zM520 22h3v1h-3zM526 22h3v1h-3zM532 22h3v1h-3zM538 22h3v1h-3zM544 22h3v1h-3zM550 22h3v1h-3zM556 22h3v1h-3zM562 22h3v1h-3zM568 22h3v1h-3zM574 22h3v1h-3zM580 22h3v1h-3zM586 22h3v1h-3zM592 22h3v1h-3zM598 22h3v1h-3zM604 22h3v1h-3zM610 22h3v1h-3zM616 22h3v1h-3zM622 22h3v1h-3zM628 22h3v1h-3zM634 22h3v1h-3zM640 22h3v1h-3zM646 22h3v1h-3zM652 22h3v1h-3zM658 22h3v1h-3zM664 22h3v1h-3zM670 22h3v1h-3zM676 22h3v1h-3zM682 22h3v1h-3zM688 22h3v1h-3zM694 22h3v1h-3zM700 22h3v1h-3zM706 22h3v1h-3zM712 22h3v1h-3zM718 22h3v1h-3zM724 22h3v1h-3zM730 22h3v1h-3zM736 22h3v1h-3zM742 22h3v1h-3zM748 22h3v1h-3zM754 22h3v1h-3zM760 22h3v1h-3zM766 22h3v1h-3zM772 22h3v1h-3zM778 22h3v1h-3zM784 22h3v1h-3zM790 22h3v1h-3zM796 22h3v1h-3zM802 22h3v1h-3zM808 22h3v1h-3zM814 22h3v1h-3zM820 22h3v1h-3zM826 22h3v1h-3zM832 22h3v1h-3zM838 22h3v1h-3zM844 22h3v1h-3zM850 22h3v1h-3zM856 22h3v1h-3zM862 22h3v1h-3zM868 22h3v1h-3zM874 22h3v1h-3zM880 22h3v1h-3zM886 22h3v1h-3zM892 22h3v1h-3zM898 22h3v1h-3zM904 22h3v1h-3zM910 22h3v1h-3zM916 22h3v1h-3zM922 22h3v1h-3zM928 22h3v1h-3zM934 22h3v1h-3zM940 22h3v1h-3zM946 22h3v1h-3zM952 22h3v1h-3zM958 22h3v1h-3zM964 22h3v1h-3zM970 22h3v1h-3zM976 22h3v1h-3zM982 22h3v1h-3zM988 22h3v1h-3zM994 22h3v1h-3zM1000 22h3v1h-3zM1006 22h3v1h-3zM1012 22h3v1h-3zM1018 22h3v1h-3zM1024 22h3v1h-3zM1030 22h3v1h-3zM1036 22h3v1h-3zM1042 22h3v1h-3zM1048 22h3v1h-3zM1054 22h3v1h-3zM1060 22h3v1h-3zM1066 22h3v1h-3zM1072 22h3v1h-3zM1078 22h3v1h-3zM1084 22h3v1h-3zM1090 22h3v1h-3zM1096 22h3v1h-3zM1102 22h3v1h-3zM1108 22h3v1h-3zM1114 22h3v1h-3zM1120 22h3v1h-3zM1126 22h3v1h-3zM1132 22h3v1h-3zM1138 22h3v1h-3zM1144 22h3v1h-3zM1150 22h3v1h-3zM1156 22h3v1h-3zM1162 22h3v1h-3zM1168 22h3v1h-3zM1174 22h3v1h-3zM1180 22h3v1h-3zM1186 22h3v1h-3zM1192 22h3v1h-3zM1198 22h3v1h-3zM1204 22h3v1h-3zM1210 22h3v1h-3zM1216 22h3v1h-3zM1222 22h3v1h-3zM1228 22h3v1h-3zM1234 22h3v1h-3zM1240 22h3v1h-3zM1246 22h3v1h-3zM1252 22h3v1h-3zM1258 22h3v1h-3zM1264 22h3v1h-3zM1270 22h3v1h-3zM1276 22h3v1h-3zM1282 22h3v1h-3zM1288 22h3v1h-3zM1294 22h3v1h-3zM1300 22h3v1h-3zM1306 22h3v1h-3zM1312 22h3v1h-3zM1318 22h3v1h-3zM1324 22h3v1h-3zM1330 22h3v1h-3zM1336 22h3v1h-3zM1342 22h3v1h-3zM1348 22h3v1h-3zM1354 22h3v1h-3zM1360 22h3v1h-3zM1366 22h3v1h-3zM1372 22h3v1h-3zM1378 22h3v1h-3zM1384 22h3v1h-3zM1390 22h3v1h-3zM1396 22h3v1h-3zM1402 22h3v1h-3zM1408 22h3v1h-3zM1414 22h3v1h-3zM1420 22h3v1h-3zM1426 22h3v1h-3zM1432 22h3v1h-3zM1438 22h3v1h-3zM1444 22h3v1h-3zM1450 22h3v1h-3zM4 56h3v1h-3zM10 56h3v1h-3zM16 56h3v1h-3zM22 56h3v1h-3zM28 56h3v1h-3zM34 56h3v1h-3zM40 56h3v1h-3zM46 56h3v1h-3zM52 56h3v1h-3zM58 56h3v1h-3zM64 56h3v1h-3zM70 56h3v1h-3zM76 56h3v1h-3zM82 56h3v1h-3zM88 56h3v1h-3zM94 56h3v1h-3zM100 56h3v1h-3zM106 56h3v1h-3zM112 56h3v1h-3zM118 56h3v1h-3zM124 56h3v1h-3zM130 56h3v1h-3zM136 56h3v1h-3zM142 56h3v1h-3zM148 56h3v1h-3zM154 56h3v1h-3zM160 56h3v1h-3zM166 56h3v1h-3zM172 56h3v1h-3zM178 56h3v1h-3zM184 56h3v1h-3zM190 56h3v1h-3zM196 56h3v1h-3zM202 56h3v1h-3zM208 56h3v1h-3zM214 56h3v1h-3zM220 56h3v1h-3zM226 56h3v1h-3zM232 56h3v1h-3zM238 56h3v1h-3zM244 56h3v1h-3zM250 56h3v1h-3zM256 56h3v1h-3zM262 56h3v1h-3zM268 56h3v1h-3zM274 56h3v1h-3zM280 56h3v1h-3zM286 56h3v1h-3zM292 56h3v1h-3zM298 56h3v1h-3zM304 56h3v1h-3zM310 56h3v1h-3zM316 56h3v1h-3zM322 56h3v1h-3zM328 56h3v1h-3zM334 56h3v1h-3zM340 56h3v1h-3zM346 56h3v1h-3zM352 56h3v1h-3zM358 56h3v1h-3zM364 56h3v1h-3zM370 56h3v1h-3zM376 56h3v1h-3zM382 56h3v1h-3zM388 56h3v1h-3zM394 56h3v1h-3zM400 56h3v1h-3zM406 56h3v1h-3zM412 56h3v1h-3zM418 56h3v1h-3zM424 56h3v1h-3zM430 56h3v1h-3zM436 56h3v1h-3zM442 56h3v1h-3zM448 56h3v1h-3zM454 56h3v1h-3zM460 56h3v1h-3zM466 56h3v1h-3zM472 56h3v1h-3zM478 56h3v1h-3zM484 56h3v1h-3zM490 56h3v1h-3zM496 56h3v1h-3zM502 56h3v1h-3zM508 56h3v1h-3zM514 56h3v1h-3zM520 56h3v1h-3zM526 56h3v1h-3zM532 56h3v1h-3zM538 56h3v1h-3zM544 56h3v1h-3zM550 56h3v1h-3zM556 56h3v1h-3zM562 56h3v1h-3zM568 56h3v1h-3zM574 56h3v1h-3zM580 56h3v1h-3zM586 56h3v1h-3zM592 56h3v1h-3zM598 56h3v1h-3zM604 56h3v1h-3zM610 56h3v1h-3zM616 56h3v1h-3zM622 56h3v1h-3zM628 56h3v1h-3zM634 56h3v1h-3zM640 56h3v1h-3zM646 56h3v1h-3zM652 56h3v1h-3zM658 56h3v1h-3zM664 56h3v1h-3zM670 56h3v1h-3zM676 56h3v1h-3zM682 56h3v1h-3zM688 56h3v1h-3zM694 56h3v1h-3zM700 56h3v1h-3zM706 56h3v1h-3zM712 56h3v1h-3zM718 56h3v1h-3zM724 56h3v1h-3zM730 56h3v1h-3zM736 56h3v1h-3zM742 56h3v1h-3zM748 56h3v1h-3zM754 56h3v1h-3zM760 56h3v1h-3zM766 56h3v1h-3zM772 56h3v1h-3zM778 56h3v1h-3zM784 56h3v1h-3zM790 56h3v1h-3zM796 56h3v1h-3zM802 56h3v1h-3zM808 56h3v1h-3zM814 56h3v1h-3zM820 56h3v1h-3zM826 56h3v1h-3zM832 56h3v1h-3zM838 56h3v1h-3zM844 56h3v1h-3zM850 56h3v1h-3zM856 56h3v1h-3zM862 56h3v1h-3zM868 56h3v1h-3zM874 56h3v1h-3zM880 56h3v1h-3zM886 56h3v1h-3zM892 56h3v1h-3zM898 56h3v1h-3zM904 56h3v1h-3zM910 56h3v1h-3zM916 56h3v1h-3zM922 56h3v1h-3zM928 56h3v1h-3zM934 56h3v1h-3zM940 56h3v1h-3zM946 56h3v1h-3zM952 56h3v1h-3zM958 56h3v1h-3zM964 56h3v1h-3zM970 56h3v1h-3zM976 56h3v1h-3zM982 56h3v1h-3zM988 56h3v1h-3zM994 56h3v1h-3zM1000 56h3v1h-3zM1006 56h3v1h-3zM1012 56h3v1h-3zM1018 56h3v1h-3zM1024 56h3v1h-3zM1030 56h3v1h-3zM1036 56h3v1h-3zM1042 56h3v1h-3zM1048 56h3v1h-3zM1054 56h3v1h-3zM1060 56h3v1h-3zM1066 56h3v1h-3zM1072 56h3v1h-3zM1078 56h3v1h-3zM1084 56h3v1h-3zM1090 56h3v1h-3zM1096 56h3v1h-3zM1102 56h3v1h-3zM1108 56h3v1h-3zM1114 56h3v1h-3zM1120 56h3v1h-3zM1126 56h3v1h-3zM1132 56h3v1h-3zM1138 56h3v1h-3zM1144 56h3v1h-3zM1150 56h3v1h-3zM1156 56h3v1h-3zM1162 56h3v1h-3zM1168 56h3v1h-3zM1174 56h3v1h-3zM1180 56h3v1h-3zM1186 56h3v1h-3zM1192 56h3v1h-3zM1198 56h3v1h-3zM1204 56h3v1h-3zM1210 56h3v1h-3zM1216 56h3v1h-3zM1222 56h3v1h-3zM1228 56h3v1h-3zM1234 56h3v1h-3zM1240 56h3v1h-3zM1246 56h3v1h-3zM1252 56h3v1h-3zM1258 56h3v1h-3zM1264 56h3v1h-3zM1270 56h3v1h-3zM1276 56h3v1h-3zM1282 56h3v1h-3zM1288 56h3v1h-3zM1294 56h3v1h-3zM1300 56h3v1h-3zM1306 56h3v1h-3zM1312 56h3v1h-3zM1318 56h3v1h-3zM1324 56h3v1h-3zM1330 56h3v1h-3zM1336 56h3v1h-3zM1342 56h3v1h-3zM1348 56h3v1h-3zM1354 56h3v1h-3zM1360 56h3v1h-3zM1366 56h3v1h-3zM1372 56h3v1h-3zM1378 56h3v1h-3zM1384 56h3v1h-3zM1390 56h3v1h-3zM1396 56h3v1h-3zM1402 56h3v1h-3zM1408 56h3v1h-3zM1414 56h3v1h-3zM1420 56h3v1h-3zM1426 56h3v1h-3zM1432 56h3v1h-3zM1438 56h3v1h-3zM1444 56h3v1h-3zM1450 56h3v1h-3zM4 89h3v1h-3zM10 89h3v1h-3zM16 89h3v1h-3zM22 89h3v1h-3zM28 89h3v1h-3zM34 89h3v1h-3zM40 89h3v1h-3zM46 89h3v1h-3zM52 89h3v1h-3zM58 89h3v1h-3zM64 89h3v1h-3zM70 89h3v1h-3zM76 89h3v1h-3zM82 89h3v1h-3zM88 89h3v1h-3zM94 89h3v1h-3zM100 89h3v1h-3zM106 89h3v1h-3zM112 89h3v1h-3zM118 89h3v1h-3zM124 89h3v1h-3zM130 89h3v1h-3zM136 89h3v1h-3zM142 89h3v1h-3zM148 89h3v1h-3zM154 89h3v1h-3zM160 89h3v1h-3zM166 89h3v1h-3zM172 89h3v1h-3zM178 89h3v1h-3zM184 89h3v1h-3zM190 89h3v1h-3zM196 89h3v1h-3zM202 89h3v1h-3zM208 89h3v1h-3zM214 89h3v1h-3zM220 89h3v1h-3zM226 89h3v1h-3zM232 89h3v1h-3zM238 89h3v1h-3zM244 89h3v1h-3zM250 89h3v1h-3zM256 89h3v1h-3zM262 89h3v1h-3zM268 89h3v1h-3zM274 89h3v1h-3zM280 89h3v1h-3zM286 89h3v1h-3zM292 89h3v1h-3zM298 89h3v1h-3zM304 89h3v1h-3zM310 89h3v1h-3zM316 89h3v1h-3zM322 89h3v1h-3zM328 89h3v1h-3zM334 89h3v1h-3zM340 89h3v1h-3zM346 89h3v1h-3zM352 89h3v1h-3zM358 89h3v1h-3zM364 89h3v1h-3zM370 89h3v1h-3zM376 89h3v1h-3zM382 89h3v1h-3zM388 89h3v1h-3zM394 89h3v1h-3zM400 89h3v1h-3zM406 89h3v1h-3zM412 89h3v1h-3zM418 89h3v1h-3zM424 89h3v1h-3zM430 89h3v1h-3zM436 89h3v1h-3zM442 89h3v1h-3zM448 89h3v1h-3zM454 89h3v1h-3zM460 89h3v1h-3zM466 89h3v1h-3zM472 89h3v1h-3zM478 89h3v1h-3zM484 89h3v1h-3zM490 89h3v1h-3zM496 89h3v1h-3zM502 89h3v1h-3zM508 89h3v1h-3zM514 89h3v1h-3zM520 89h3v1h-3zM526 89h3v1h-3zM532 89h3v1h-3zM538 89h3v1h-3zM544 89h3v1h-3zM550 89h3v1h-3zM556 89h3v1h-3zM562 89h3v1h-3zM568 89h3v1h-3zM574 89h3v1h-3zM580 89h3v1h-3zM586 89h3v1h-3zM592 89h3v1h-3zM598 89h3v1h-3zM604 89h3v1h-3zM610 89h3v1h-3zM616 89h3v1h-3zM622 89h3v1h-3zM628 89h3v1h-3zM634 89h3v1h-3zM640 89h3v1h-3zM646 89h3v1h-3zM652 89h3v1h-3zM658 89h3v1h-3zM664 89h3v1h-3zM670 89h3v1h-3zM676 89h3v1h-3zM682 89h3v1h-3zM688 89h3v1h-3zM694 89h3v1h-3zM700 89h3v1h-3zM706 89h3v1h-3zM712 89h3v1h-3zM718 89h3v1h-3zM724 89h3v1h-3zM730 89h3v1h-3zM736 89h3v1h-3zM742 89h3v1h-3zM748 89h3v1h-3zM754 89h3v1h-3zM760 89h3v1h-3zM766 89h3v1h-3zM772 89h3v1h-3zM778 89h3v1h-3zM784 89h3v1h-3zM790 89h3v1h-3zM796 89h3v1h-3zM802 89h3v1h-3zM808 89h3v1h-3zM814 89h3v1h-3zM820 89h3v1h-3zM826 89h3v1h-3zM832 89h3v1h-3zM838 89h3v1h-3zM844 89h3v1h-3zM850 89h3v1h-3zM856 89h3v1h-3zM862 89h3v1h-3zM868 89h3v1h-3zM874 89h3v1h-3zM880 89h3v1h-3zM886 89h3v1h-3zM892 89h3v1h-3zM898 89h3v1h-3zM904 89h3v1h-3zM910 89h3v1h-3zM916 89h3v1h-3zM922 89h3v1h-3zM928 89h3v1h-3zM934 89h3v1h-3zM940 89h3v1h-3zM946 89h3v1h-3zM952 89h3v1h-3zM958 89h3v1h-3zM964 89h3v1h-3zM970 89h3v1h-3zM976 89h3v1h-3zM982 89h3v1h-3zM988 89h3v1h-3zM994 89h3v1h-3zM1000 89h3v1h-3zM1006 89h3v1h-3zM1012 89h3v1h-3zM1018 89h3v1h-3zM1024 89h3v1h-3zM1030 89h3v1h-3zM1036 89h3v1h-3zM1042 89h3v1h-3zM1048 89h3v1h-3zM1054 89h3v1h-3zM1060 89h3v1h-3zM1066 89h3v1h-3zM1072 89h3v1h-3zM1078 89h3v1h-3zM1084 89h3v1h-3zM1090 89h3v1h-3zM1096 89h3v1h-3zM1102 89h3v1h-3zM1108 89h3v1h-3zM1114 89h3v1h-3zM1120 89h3v1h-3zM1126 89h3v1h-3zM1132 89h3v1h-3zM1138 89h3v1h-3zM1144 89h3v1h-3zM1150 89h3v1h-3zM1156 89h3v1h-3zM1162 89h3v1h-3zM1168 89h3v1h-3zM1174 89h3v1h-3zM1180 89h3v1h-3zM1186 89h3v1h-3zM1192 89h3v1h-3zM1198 89h3v1h-3zM1204 89h3v1h-3zM1210 89h3v1h-3zM1216 89h3v1h-3zM1222 89h3v1h-3zM1228 89h3v1h-3zM1234 89h3v1h-3zM1240 89h3v1h-3zM1246 89h3v1h-3zM1252 89h3v1h-3zM1258 89h3v1h-3zM1264 89h3v1h-3zM1270 89h3v1h-3zM1276 89h3v1h-3zM1282 89h3v1h-3zM1288 89h3v1h-3zM1294 89h3v1h-3zM1300 89h3v1h-3zM1306 89h3v1h-3zM1312 89h3v1h-3zM1318 89h3v1h-3zM1324 89h3v1h-3zM1330 89h3v1h-3zM1336 89h3v1h-3zM1342 89h3v1h-3zM1348 89h3v1h-3zM1354 89h3v1h-3zM1360 89h3v1h-3zM1366 89h3v1h-3zM1372 89h3v1h-3zM1378 89h3v1h-3zM1384 89h3v1h-3zM1390 89h3v1h-3zM1396 89h3v1h-3zM1402 89h3v1h-3zM1408 89h3v1h-3zM1414 89h3v1h-3zM1420 89h3v1h-3zM1426 89h3v1h-3zM1432 89h3v1h-3zM1438 89h3v1h-3zM1444 89h3v1h-3zM1450 89h3v1h-3zM4 122h3v1h-3zM10 122h3v1h-3zM16 122h3v1h-3zM22 122h3v1h-3zM28 122h3v1h-3zM34 122h3v1h-3zM40 122h3v1h-3zM46 122h3v1h-3zM52 122h3v1h-3zM58 122h3v1h-3zM64 122h3v1h-3zM70 122h3v1h-3zM76 122h3v1h-3zM82 122h3v1h-3zM88 122h3v1h-3zM94 122h3v1h-3zM100 122h3v1h-3zM106 122h3v1h-3zM112 122h3v1h-3zM118 122h3v1h-3zM124 122h3v1h-3zM130 122h3v1h-3zM136 122h3v1h-3zM142 122h3v1h-3zM148 122h3v1h-3zM154 122h3v1h-3zM160 122h3v1h-3zM166 122h3v1h-3zM172 122h3v1h-3zM178 122h3v1h-3zM184 122h3v1h-3zM190 122h3v1h-3zM196 122h3v1h-3zM202 122h3v1h-3zM208 122h3v1h-3zM214 122h3v1h-3zM220 122h3v1h-3zM226 122h3v1h-3zM232 122h3v1h-3zM238 122h3v1h-3zM244 122h3v1h-3zM250 122h3v1h-3zM256 122h3v1h-3zM262 122h3v1h-3zM268 122h3v1h-3zM274 122h3v1h-3zM280 122h3v1h-3zM286 122h3v1h-3zM292 122h3v1h-3zM298 122h3v1h-3zM304 122h3v1h-3zM310 122h3v1h-3zM316 122h3v1h-3zM322 122h3v1h-3zM328 122h3v1h-3zM334 122h3v1h-3zM340 122h3v1h-3zM346 122h3v1h-3zM352 122h3v1h-3zM358 122h3v1h-3zM364 122h3v1h-3zM370 122h3v1h-3zM376 122h3v1h-3zM382 122h3v1h-3zM388 122h3v1h-3zM394 122h3v1h-3zM400 122h3v1h-3zM406 122h3v1h-3zM412 122h3v1h-3zM418 122h3v1h-3zM424 122h3v1h-3zM430 122h3v1h-3zM436 122h3v1h-3zM442 122h3v1h-3zM448 122h3v1h-3zM454 122h3v1h-3zM460 122h3v1h-3zM466 122h3v1h-3zM472 122h3v1h-3zM478 122h3v1h-3zM484 122h3v1h-3zM490 122h3v1h-3zM496 122h3v1h-3zM502 122h3v1h-3zM508 122h3v1h-3zM514 122h3v1h-3zM520 122h3v1h-3zM526 122h3v1h-3zM532 122h3v1h-3zM538 122h3v1h-3zM544 122h3v1h-3zM550 122h3v1h-3zM556 122h3v1h-3zM562 122h3v1h-3zM568 122h3v1h-3zM574 122h3v1h-3zM580 122h3v1h-3zM586 122h3v1h-3zM592 122h3v1h-3zM598 122h3v1h-3zM604 122h3v1h-3zM610 122h3v1h-3zM616 122h3v1h-3zM622 122h3v1h-3zM628 122h3v1h-3zM634 122h3v1h-3zM640 122h3v1h-3zM646 122h3v1h-3zM652 122h3v1h-3zM658 122h3v1h-3zM664 122h3v1h-3zM670 122h3v1h-3zM676 122h3v1h-3zM682 122h3v1h-3zM688 122h3v1h-3zM694 122h3v1h-3zM700 122h3v1h-3zM706 122h3v1h-3zM712 122h3v1h-3zM718 122h3v1h-3zM724 122h3v1h-3zM730 122h3v1h-3zM736 122h3v1h-3zM742 122h3v1h-3zM748 122h3v1h-3zM754 122h3v1h-3zM760 122h3v1h-3zM766 122h3v1h-3zM772 122h3v1h-3zM778 122h3v1h-3zM784 122h3v1h-3zM790 122h3v1h-3zM796 122h3v1h-3zM802 122h3v1h-3zM808 122h3v1h-3zM814 122h3v1h-3zM820 122h3v1h-3zM826 122h3v1h-3zM832 122h3v1h-3zM838 122h3v1h-3zM844 122h3v1h-3zM850 122h3v1h-3zM856 122h3v1h-3zM862 122h3v1h-3zM868 122h3v1h-3zM874 122h3v1h-3zM880 122h3v1h-3zM886 122h3v1h-3zM892 122h3v1h-3zM898 122h3v1h-3zM904 122h3v1h-3zM910 122h3v1h-3zM916 122h3v1h-3zM922 122h3v1h-3zM928 122h3v1h-3zM934 122h3v1h-3zM940 122h3v1h-3zM946 122h3v1h-3zM952 122h3v1h-3zM958 122h3v1h-3zM964 122h3v1h-3zM970 122h3v1h-3zM976 122h3v1h-3zM982 122h3v1h-3zM988 122h3v1h-3zM994 122h3v1h-3zM1000 122h3v1h-3zM1006 122h3v1h-3zM1012 122h3v1h-3zM1018 122h3v1h-3zM1024 122h3v1h-3zM1030 122h3v1h-3zM1036 122h3v1h-3zM1042 122h3v1h-3zM1048 122h3v1h-3zM1054 122h3v1h-3zM1060 122h3v1h-3zM1066 122h3v1h-3zM1072 122h3v1h-3zM1078 122h3v1h-3zM1084 122h3v1h-3zM1090 122h3v1h-3zM1096 122h3v1h-3zM1102 122h3v1h-3zM1108 122h3v1h-3zM1114 122h3v1h-3zM1120 122h3v1h-3zM1126 122h3v1h-3zM1132 122h3v1h-3zM1138 122h3v1h-3zM1144 122h3v1h-3zM1150 122h3v1h-3zM1156 122h3v1h-3zM1162 122h3v1h-3zM1168 122h3v1h-3zM1174 122h3v1h-3zM1180 122h3v1h-3zM1186 122h3v1h-3zM1192 122h3v1h-3zM1198 122h3v1h-3zM1204 122h3v1h-3zM1210 122h3v1h-3zM1216 122h3v1h-3zM1222 122h3v1h-3zM1228 122h3v1h-3zM1234 122h3v1h-3zM1240 122h3v1h-3zM1246 122h3v1h-3zM1252 122h3v1h-3zM1258 122h3v1h-3zM1264 122h3v1h-3zM1270 122h3v1h-3zM1276 122h3v1h-3zM1282 122h3v1h-3zM1288 122h3v1h-3zM1294 122h3v1h-3zM1300 122h3v1h-3zM1306 122h3v1h-3zM1312 122h3v1h-3zM1318 122h3v1h-3zM1324 122h3v1h-3zM1330 122h3v1h-3zM1336 122h3v1h-3zM1342 122h3v1h-3zM1348 122h3v1h-3zM1354 122h3v1h-3zM1360 122h3v1h-3zM1366 122h3v1h-3zM1372 122h3v1h-3zM1378 122h3v1h-3zM1384 122h3v1h-3zM1390 122h3v1h-3zM1396 122h3v1h-3zM1402 122h3v1h-3zM1408 122h3v1h-3zM1414 122h3v1h-3zM1420 122h3v1h-3zM1426 122h3v1h-3zM1432 122h3v1h-3zM1438 122h3v1h-3zM1444 122h3v1h-3zM1450 122h3v1h-3zM4 156h3v1h-3zM10 156h3v1h-3zM16 156h3v1h-3zM22 156h3v1h-3zM28 156h3v1h-3zM34 156h3v1h-3zM40 156h3v1h-3zM46 156h3v1h-3zM52 156h3v1h-3zM58 156h3v1h-3zM64 156h3v1h-3zM70 156h3v1h-3zM76 156h3v1h-3zM82 156h3v1h-3zM88 156h3v1h-3zM94 156h3v1h-3zM100 156h3v1h-3zM106 156h3v1h-3zM112 156h3v1h-3zM118 156h3v1h-3zM124 156h3v1h-3zM130 156h3v1h-3zM136 156h3v1h-3zM142 156h3v1h-3zM148 156h3v1h-3zM154 156h3v1h-3zM160 156h3v1h-3zM166 156h3v1h-3zM172 156h3v1h-3zM178 156h3v1h-3zM184 156h3v1h-3zM190 156h3v1h-3zM196 156h3v1h-3zM202 156h3v1h-3zM208 156h3v1h-3zM214 156h3v1h-3zM220 156h3v1h-3zM226 156h3v1h-3zM232 156h3v1h-3zM238 156h3v1h-3zM244 156h3v1h-3zM250 156h3v1h-3zM256 156h3v1h-3zM262 156h3v1h-3zM268 156h3v1h-3zM274 156h3v1h-3zM280 156h3v1h-3zM286 156h3v1h-3zM292 156h3v1h-3zM298 156h3v1h-3zM304 156h3v1h-3zM310 156h3v1h-3zM316 156h3v1h-3zM322 156h3v1h-3zM328 156h3v1h-3zM334 156h3v1h-3zM340 156h3v1h-3zM346 156h3v1h-3zM352 156h3v1h-3zM358 156h3v1h-3zM364 156h3v1h-3zM370 156h3v1h-3zM376 156h3v1h-3zM382 156h3v1h-3zM388 156h3v1h-3zM394 156h3v1h-3zM400 156h3v1h-3zM406 156h3v1h-3zM412 156h3v1h-3zM418 156h3v1h-3zM424 156h3v1h-3zM430 156h3v1h-3zM436 156h3v1h-3zM442 156h3v1h-3zM448 156h3v1h-3zM454 156h3v1h-3zM460 156h3v1h-3zM466 156h3v1h-3zM472 156h3v1h-3zM478 156h3v1h-3zM484 156h3v1h-3zM490 156h3v1h-3zM496 156h3v1h-3zM502 156h3v1h-3zM508 156h3v1h-3zM514 156h3v1h-3zM520 156h3v1h-3zM526 156h3v1h-3zM532 156h3v1h-3zM538 156h3v1h-3zM544 156h3v1h-3zM550 156h3v1h-3zM556 156h3v1h-3zM562 156h3v1h-3zM568 156h3v1h-3zM574 156h3v1h-3zM580 156h3v1h-3zM586 156h3v1h-3zM592 156h3v1h-3zM598 156h3v1h-3zM604 156h3v1h-3zM610 156h3v1h-3zM616 156h3v1h-3zM622 156h3v1h-3zM628 156h3v1h-3zM634 156h3v1h-3zM640 156h3v1h-3zM646 156h3v1h-3zM652 156h3v1h-3zM658 156h3v1h-3zM664 156h3v1h-3zM670 156h3v1h-3zM676 156h3v1h-3zM682 156h3v1h-3zM688 156h3v1h-3zM694 156h3v1h-3zM700 156h3v1h-3zM706 156h3v1h-3zM712 156h3v1h-3zM718 156h3v1h-3zM724 156h3v1h-3zM730 156h3v1h-3zM736 156h3v1h-3zM742 156h3v1h-3zM748 156h3v1h-3zM754 156h3v1h-3zM760 156h3v1h-3zM766 156h3v1h-3zM772 156h3v1h-3zM778 156h3v1h-3zM784 156h3v1h-3zM790 156h3v1h-3zM796 156h3v1h-3zM802 156h3v1h-3zM808 156h3v1h-3zM814 156h3v1h-3zM820 156h3v1h-3zM826 156h3v1h-3zM832 156h3v1h-3zM838 156h3v1h-3zM844 156h3v1h-3zM850 156h3v1h-3zM856 156h3v1h-3zM862 156h3v1h-3zM868 156h3v1h-3zM874 156h3v1h-3zM880 156h3v1h-3zM886 156h3v1h-3zM892 156h3v1h-3zM898 156h3v1h-3zM904 156h3v1h-3zM910 156h3v1h-3zM916 156h3v1h-3zM922 156h3v1h-3zM928 156h3v1h-3zM934 156h3v1h-3zM940 156h3v1h-3zM946 156h3v1h-3zM952 156h3v1h-3zM958 156h3v1h-3zM964 156h3v1h-3zM970 156h3v1h-3zM976 156h3v1h-3zM982 156h3v1h-3zM988 156h3v1h-3zM994 156h3v1h-3zM1000 156h3v1h-3zM1006 156h3v1h-3zM1012 156h3v1h-3zM1018 156h3v1h-3zM1024 156h3v1h-3zM1030 156h3v1h-3zM1036 156h3v1h-3zM1042 156h3v1h-3zM1048 156h3v1h-3zM1054 156h3v1h-3zM1060 156h3v1h-3zM1066 156h3v1h-3zM1072 156h3v1h-3zM1078 156h3v1h-3zM1084 156h3v1h-3zM1090 156h3v1h-3zM1096 156h3v1h-3zM1102 156h3v1h-3zM1108 156h3v1h-3zM1114 156h3v1h-3zM1120 156h3v1h-3zM1126 156h3v1h-3zM1132 156h3v1h-3zM1138 156h3v1h-3zM1144 156h3v1h-3zM1150 156h3v1h-3zM1156 156h3v1h-3zM1162 156h3v1h-3zM1168 156h3v1h-3zM1174 156h3v1h-3zM1180 156h3v1h-3zM1186 156h3v1h-3zM1192 156h3v1h-3zM1198 156h3v1h-3zM1204 156h3v1h-3zM1210 156h3v1h-3zM1216 156h3v1h-3zM1222 156h3v1h-3zM1228 156h3v1h-3zM1234 156h3v1h-3zM1240 156h3v1h-3zM1246 156h3v1h-3zM1252 156h3v1h-3zM1258 156h3v1h-3zM1264 156h3v1h-3zM1270 156h3v1h-3zM1276 156h3v1h-3zM1282 156h3v1h-3zM1288 156h3v1h-3zM1294 156h3v1h-3zM1300 156h3v1h-3zM1306 156h3v1h-3zM1312 156h3v1h-3zM1318 156h3v1h-3zM1324 156h3v1h-3zM1330 156h3v1h-3zM1336 156h3v1h-3zM1342 156h3v1h-3zM1348 156h3v1h-3zM1354 156h3v1h-3zM1360 156h3v1h-3zM1366 156h3v1h-3zM1372 156h3v1h-3zM1378 156h3v1h-3zM1384 156h3v1h-3zM1390 156h3v1h-3zM1396 156h3v1h-3zM1402 156h3v1h-3zM1408 156h3v1h-3zM1414 156h3v1h-3zM1420 156h3v1h-3zM1426 156h3v1h-3zM1432 156h3v1h-3zM1438 156h3v1h-3zM1444 156h3v1h-3zM1450 156h3v1h-3zM4 189h3v1h-3zM10 189h3v1h-3zM16 189h3v1h-3zM22 189h3v1h-3zM28 189h3v1h-3zM34 189h3v1h-3zM40 189h3v1h-3zM46 189h3v1h-3zM52 189h3v1h-3zM58 189h3v1h-3zM64 189h3v1h-3zM70 189h3v1h-3zM76 189h3v1h-3zM82 189h3v1h-3zM88 189h3v1h-3zM94 189h3v1h-3zM100 189h3v1h-3zM106 189h3v1h-3zM112 189h3v1h-3zM118 189h3v1h-3zM124 189h3v1h-3zM130 189h3v1h-3zM136 189h3v1h-3zM142 189h3v1h-3zM148 189h3v1h-3zM154 189h3v1h-3zM160 189h3v1h-3zM166 189h3v1h-3zM172 189h3v1h-3zM178 189h3v1h-3zM184 189h3v1h-3zM190 189h3v1h-3zM196 189h3v1h-3zM202 189h3v1h-3zM208 189h3v1h-3zM214 189h3v1h-3zM220 189h3v1h-3zM226 189h3v1h-3zM232 189h3v1h-3zM238 189h3v1h-3zM244 189h3v1h-3zM250 189h3v1h-3zM256 189h3v1h-3zM262 189h3v1h-3zM268 189h3v1h-3zM274 189h3v1h-3zM280 189h3v1h-3zM286 189h3v1h-3zM292 189h3v1h-3zM298 189h3v1h-3zM304 189h3v1h-3zM310 189h3v1h-3zM316 189h3v1h-3zM322 189h3v1h-3zM328 189h3v1h-3zM334 189h3v1h-3zM340 189h3v1h-3zM346 189h3v1h-3zM352 189h3v1h-3zM358 189h3v1h-3zM364 189h3v1h-3zM370 189h3v1h-3zM376 189h3v1h-3zM382 189h3v1h-3zM388 189h3v1h-3zM394 189h3v1h-3zM400 189h3v1h-3zM406 189h3v1h-3zM412 189h3v1h-3zM418 189h3v1h-3zM424 189h3v1h-3zM430 189h3v1h-3zM436 189h3v1h-3zM442 189h3v1h-3zM448 189h3v1h-3zM454 189h3v1h-3zM460 189h3v1h-3zM466 189h3v1h-3zM472 189h3v1h-3zM478 189h3v1h-3zM484 189h3v1h-3zM490 189h3v1h-3zM496 189h3v1h-3zM502 189h3v1h-3zM508 189h3v1h-3zM514 189h3v1h-3zM520 189h3v1h-3zM526 189h3v1h-3zM532 189h3v1h-3zM538 189h3v1h-3zM544 189h3v1h-3zM550 189h3v1h-3zM556 189h3v1h-3zM562 189h3v1h-3zM568 189h3v1h-3zM574 189h3v1h-3zM580 189h3v1h-3zM586 189h3v1h-3zM592 189h3v1h-3zM598 189h3v1h-3zM604 189h3v1h-3zM610 189h3v1h-3zM616 189h3v1h-3zM622 189h3v1h-3zM628 189h3v1h-3zM634 189h3v1h-3zM640 189h3v1h-3zM646 189h3v1h-3zM652 189h3v1h-3zM658 189h3v1h-3zM664 189h3v1h-3zM670 189h3v1h-3zM676 189h3v1h-3zM682 189h3v1h-3zM688 189h3v1h-3zM694 189h3v1h-3zM700 189h3v1h-3zM706 189h3v1h-3zM712 189h3v1h-3zM718 189h3v1h-3zM724 189h3v1h-3zM730 189h3v1h-3zM736 189h3v1h-3zM742 189h3v1h-3zM748 189h3v1h-3zM754 189h3v1h-3zM760 189h3v1h-3zM766 189h3v1h-3zM772 189h3v1h-3zM778 189h3v1h-3zM784 189h3v1h-3zM790 189h3v1h-3zM796 189h3v1h-3zM802 189h3v1h-3zM808 189h3v1h-3zM814 189h3v1h-3zM820 189h3v1h-3zM826 189h3v1h-3zM832 189h3v1h-3zM838 189h3v1h-3zM844 189h3v1h-3zM850 189h3v1h-3zM856 189h3v1h-3zM862 189h3v1h-3zM868 189h3v1h-3zM874 189h3v1h-3zM880 189h3v1h-3zM886 189h3v1h-3zM892 189h3v1h-3zM898 189h3v1h-3zM904 189h3v1h-3zM910 189h3v1h-3zM916 189h3v1h-3zM922 189h3v1h-3zM928 189h3v1h-3zM934 189h3v1h-3zM940 189h3v1h-3zM946 189h3v1h-3zM952 189h3v1h-3zM958 189h3v1h-3zM964 189h3v1h-3zM970 189h3v1h-3zM976 189h3v1h-3zM982 189h3v1h-3zM988 189h3v1h-3zM994 189h3v1h-3zM1000 189h3v1h-3zM1006 189h3v1h-3zM1012 189h3v1h-3zM1018 189h3v1h-3zM1024 189h3v1h-3zM1030 189h3v1h-3zM1036 189h3v1h-3zM1042 189h3v1h-3zM1048 189h3v1h-3zM1054 189h3v1h-3zM1060 189h3v1h-3zM1066 189h3v1h-3zM1072 189h3v1h-3zM1078 189h3v1h-3zM1084 189h3v1h-3zM1090 189h3v1h-3zM1096 189h3v1h-3zM1102 189h3v1h-3zM1108 189h3v1h-3zM1114 189h3v1h-3zM1120 189h3v1h-3zM1126 189h3v1h-3zM1132 189h3v1h-3zM1138 189h3v1h-3zM1144 189h3v1h-3zM1150 189h3v1h-3zM1156 189h3v1h-3zM1162 189h3v1h-3zM1168 189h3v1h-3zM1174 189h3v1h-3zM1180 189h3v1h-3zM1186 189h3v1h-3zM1192 189h3v1h-3zM1198 189h3v1h-3zM1204 189h3v1h-3zM1210 189h3v1h-3zM1216 189h3v1h-3zM1222 189h3v1h-3zM1228 189h3v1h-3zM1234 189h3v1h-3zM1240 189h3v1h-3zM1246 189h3v1h-3zM1252 189h3v1h-3zM1258 189h3v1h-3zM1264 189h3v1h-3zM1270 189h3v1h-3zM1276 189h3v1h-3zM1282 189h3v1h-3zM1288 189h3v1h-3zM1294 189h3v1h-3zM1300 189h3v1h-3zM1306 189h3v1h-3zM1312 189h3v1h-3zM1318 189h3v1h-3zM1324 189h3v1h-3zM1330 189h3v1h-3zM1336 189h3v1h-3zM1342 189h3v1h-3zM1348 189h3v1h-3zM1354 189h3v1h-3zM1360 189h3v1h-3zM1366 189h3v1h-3zM1372 189h3v1h-3zM1378 189h3v1h-3zM1384 189h3v1h-3zM1390 189h3v1h-3zM1396 189h3v1h-3zM1402 189h3v1h-3zM1408 189h3v1h-3zM1414 189h3v1h-3zM1420 189h3v1h-3zM1426 189h3v1h-3zM1432 189h3v1h-3zM1438 189h3v1h-3zM1444 189h3v1h-3zM1450 189h3v1h-3zM4 222h3v1h-3zM10 222h3v1h-3zM16 222h3v1h-3zM22 222h3v1h-3zM28 222h3v1h-3zM34 222h3v1h-3zM40 222h3v1h-3zM46 222h3v1h-3zM52 222h3v1h-3zM58 222h3v1h-3zM64 222h3v1h-3zM70 222h3v1h-3zM76 222h3v1h-3zM82 222h3v1h-3zM88 222h3v1h-3zM94 222h3v1h-3zM100 222h3v1h-3zM106 222h3v1h-3zM112 222h3v1h-3zM118 222h3v1h-3zM124 222h3v1h-3zM130 222h3v1h-3zM136 222h3v1h-3zM142 222h3v1h-3zM148 222h3v1h-3zM154 222h3v1h-3zM160 222h3v1h-3zM166 222h3v1h-3zM172 222h3v1h-3zM178 222h3v1h-3zM184 222h3v1h-3zM190 222h3v1h-3zM196 222h3v1h-3zM202 222h3v1h-3zM208 222h3v1h-3zM214 222h3v1h-3zM220 222h3v1h-3zM226 222h3v1h-3zM232 222h3v1h-3zM238 222h3v1h-3zM244 222h3v1h-3zM250 222h3v1h-3zM256 222h3v1h-3zM262 222h3v1h-3zM268 222h3v1h-3zM274 222h3v1h-3zM280 222h3v1h-3zM286 222h3v1h-3zM292 222h3v1h-3zM298 222h3v1h-3zM304 222h3v1h-3zM310 222h3v1h-3zM316 222h3v1h-3zM322 222h3v1h-3zM328 222h3v1h-3zM334 222h3v1h-3zM340 222h3v1h-3zM346 222h3v1h-3zM352 222h3v1h-3zM358 222h3v1h-3zM364 222h3v1h-3zM370 222h3v1h-3zM376 222h3v1h-3zM382 222h3v1h-3zM388 222h3v1h-3zM394 222h3v1h-3zM400 222h3v1h-3zM406 222h3v1h-3zM412 222h3v1h-3zM418 222h3v1h-3zM424 222h3v1h-3zM430 222h3v1h-3zM436 222h3v1h-3zM442 222h3v1h-3zM448 222h3v1h-3zM454 222h3v1h-3zM460 222h3v1h-3zM466 222h3v1h-3zM472 222h3v1h-3zM478 222h3v1h-3zM484 222h3v1h-3zM490 222h3v1h-3zM496 222h3v1h-3zM502 222h3v1h-3zM508 222h3v1h-3zM514 222h3v1h-3zM520 222h3v1h-3zM526 222h3v1h-3zM532 222h3v1h-3zM538 222h3v1h-3zM544 222h3v1h-3zM550 222h3v1h-3zM556 222h3v1h-3zM562 222h3v1h-3zM568 222h3v1h-3zM574 222h3v1h-3zM580 222h3v1h-3zM586 222h3v1h-3zM592 222h3v1h-3zM598 222h3v1h-3zM604 222h3v1h-3zM610 222h3v1h-3zM616 222h3v1h-3zM622 222h3v1h-3zM628 222h3v1h-3zM634 222h3v1h-3zM640 222h3v1h-3zM646 222h3v1h-3zM652 222h3v1h-3zM658 222h3v1h-3zM664 222h3v1h-3zM670 222h3v1h-3zM676 222h3v1h-3zM682 222h3v1h-3zM688 222h3v1h-3zM694 222h3v1h-3zM700 222h3v1h-3zM706 222h3v1h-3zM712 222h3v1h-3zM718 222h3v1h-3zM724 222h3v1h-3zM730 222h3v1h-3zM736 222h3v1h-3zM742 222h3v1h-3zM748 222h3v1h-3zM754 222h3v1h-3zM760 222h3v1h-3zM766 222h3v1h-3zM772 222h3v1h-3zM778 222h3v1h-3zM784 222h3v1h-3zM790 222h3v1h-3zM796 222h3v1h-3zM802 222h3v1h-3zM808 222h3v1h-3zM814 222h3v1h-3zM820 222h3v1h-3zM826 222h3v1h-3zM832 222h3v1h-3zM838 222h3v1h-3zM844 222h3v1h-3zM850 222h3v1h-3zM856 222h3v1h-3zM862 222h3v1h-3zM868 222h3v1h-3zM874 222h3v1h-3zM880 222h3v1h-3zM886 222h3v1h-3zM892 222h3v1h-3zM898 222h3v1h-3zM904 222h3v1h-3zM910 222h3v1h-3zM916 222h3v1h-3zM922 222h3v1h-3zM928 222h3v1h-3zM934 222h3v1h-3zM940 222h3v1h-3zM946 222h3v1h-3zM952 222h3v1h-3zM958 222h3v1h-3zM964 222h3v1h-3zM970 222h3v1h-3zM976 222h3v1h-3zM982 222h3v1h-3zM988 222h3v1h-3zM994 222h3v1h-3zM1000 222h3v1h-3zM1006 222h3v1h-3zM1012 222h3v1h-3zM1018 222h3v1h-3zM1024 222h3v1h-3zM1030 222h3v1h-3zM1036 222h3v1h-3zM1042 222h3v1h-3zM1048 222h3v1h-3zM1054 222h3v1h-3zM1060 222h3v1h-3zM1066 222h3v1h-3zM1072 222h3v1h-3zM1078 222h3v1h-3zM1084 222h3v1h-3zM1090 222h3v1h-3zM1096 222h3v1h-3zM1102 222h3v1h-3zM1108 222h3v1h-3zM1114 222h3v1h-3zM1120 222h3v1h-3zM1126 222h3v1h-3zM1132 222h3v1h-3zM1138 222h3v1h-3zM1144 222h3v1h-3zM1150 222h3v1h-3zM1156 222h3v1h-3zM1162 222h3v1h-3zM1168 222h3v1h-3zM1174 222h3v1h-3zM1180 222h3v1h-3zM1186 222h3v1h-3zM1192 222h3v1h-3zM1198 222h3v1h-3zM1204 222h3v1h-3zM1210 222h3v1h-3zM1216 222h3v1h-3zM1222 222h3v1h-3zM1228 222h3v1h-3zM1234 222h3v1h-3zM1240 222h3v1h-3zM1246 222h3v1h-3zM1252 222h3v1h-3zM1258 222h3v1h-3zM1264 222h3v1h-3zM1270 222h3v1h-3zM1276 222h3v1h-3zM1282 222h3v1h-3zM1288 222h3v1h-3zM1294 222h3v1h-3zM1300 222h3v1h-3zM1306 222h3v1h-3zM1312 222h3v1h-3zM1318 222h3v1h-3zM1324 222h3v1h-3zM1330 222h3v1h-3zM1336 222h3v1h-3zM1342 222h3v1h-3zM1348 222h3v1h-3zM1354 222h3v1h-3zM1360 222h3v1h-3zM1366 222h3v1h-3zM1372 222h3v1h-3zM1378 222h3v1h-3zM1384 222h3v1h-3zM1390 222h3v1h-3zM1396 222h3v1h-3zM1402 222h3v1h-3zM1408 222h3v1h-3zM1414 222h3v1h-3zM1420 222h3v1h-3zM1426 222h3v1h-3zM1432 222h3v1h-3zM1438 222h3v1h-3zM1444 222h3v1h-3zM1450 222h3v1h-3zM4 256h3v1h-3zM10 256h3v1h-3zM16 256h3v1h-3zM22 256h3v1h-3zM28 256h3v1h-3zM34 256h3v1h-3zM40 256h3v1h-3zM46 256h3v1h-3zM52 256h3v1h-3zM58 256h3v1h-3zM64 256h3v1h-3zM70 256h3v1h-3zM76 256h3v1h-3zM82 256h3v1h-3zM88 256h3v1h-3zM94 256h3v1h-3zM100 256h3v1h-3zM106 256h3v1h-3zM112 256h3v1h-3zM118 256h3v1h-3zM124 256h3v1h-3zM130 256h3v1h-3zM136 256h3v1h-3zM142 256h3v1h-3zM148 256h3v1h-3zM154 256h3v1h-3zM160 256h3v1h-3zM166 256h3v1h-3zM172 256h3v1h-3zM178 256h3v1h-3zM184 256h3v1h-3zM190 256h3v1h-3zM196 256h3v1h-3zM202 256h3v1h-3zM208 256h3v1h-3zM214 256h3v1h-3zM220 256h3v1h-3zM226 256h3v1h-3zM232 256h3v1h-3zM238 256h3v1h-3zM244 256h3v1h-3zM250 256h3v1h-3zM256 256h3v1h-3zM262 256h3v1h-3zM268 256h3v1h-3zM274 256h3v1h-3zM280 256h3v1h-3zM286 256h3v1h-3zM292 256h3v1h-3zM298 256h3v1h-3zM304 256h3v1h-3zM310 256h3v1h-3zM316 256h3v1h-3zM322 256h3v1h-3zM328 256h3v1h-3zM334 256h3v1h-3zM340 256h3v1h-3zM346 256h3v1h-3zM352 256h3v1h-3zM358 256h3v1h-3zM364 256h3v1h-3zM370 256h3v1h-3zM376 256h3v1h-3zM382 256h3v1h-3zM388 256h3v1h-3zM394 256h3v1h-3zM400 256h3v1h-3zM406 256h3v1h-3zM412 256h3v1h-3zM418 256h3v1h-3zM424 256h3v1h-3zM430 256h3v1h-3zM436 256h3v1h-3zM442 256h3v1h-3zM448 256h3v1h-3zM454 256h3v1h-3zM460 256h3v1h-3zM466 256h3v1h-3zM472 256h3v1h-3zM478 256h3v1h-3zM484 256h3v1h-3zM490 256h3v1h-3zM496 256h3v1h-3zM502 256h3v1h-3zM508 256h3v1h-3zM514 256h3v1h-3zM520 256h3v1h-3zM526 256h3v1h-3zM532 256h3v1h-3zM538 256h3v1h-3zM544 256h3v1h-3zM550 256h3v1h-3zM556 256h3v1h-3zM562 256h3v1h-3zM568 256h3v1h-3zM574 256h3v1h-3zM580 256h3v1h-3zM586 256h3v1h-3zM592 256h3v1h-3zM598 256h3v1h-3zM604 256h3v1h-3zM610 256h3v1h-3zM616 256h3v1h-3zM622 256h3v1h-3zM628 256h3v1h-3zM634 256h3v1h-3zM640 256h3v1h-3zM646 256h3v1h-3zM652 256h3v1h-3zM658 256h3v1h-3zM664 256h3v1h-3zM670 256h3v1h-3zM676 256h3v1h-3zM682 256h3v1h-3zM688 256h3v1h-3zM694 256h3v1h-3zM700 256h3v1h-3zM706 256h3v1h-3zM712 256h3v1h-3zM718 256h3v1h-3zM724 256h3v1h-3zM730 256h3v1h-3zM736 256h3v1h-3zM742 256h3v1h-3zM748 256h3v1h-3zM754 256h3v1h-3zM760 256h3v1h-3zM766 256h3v1h-3zM772 256h3v1h-3zM778 256h3v1h-3zM784 256h3v1h-3zM790 256h3v1h-3zM796 256h3v1h-3zM802 256h3v1h-3zM808 256h3v1h-3zM814 256h3v1h-3zM820 256h3v1h-3zM826 256h3v1h-3zM832 256h3v1h-3zM838 256h3v1h-3zM844 256h3v1h-3zM850 256h3v1h-3zM856 256h3v1h-3zM862 256h3v1h-3zM868 256h3v1h-3zM874 256h3v1h-3zM880 256h3v1h-3zM886 256h3v1h-3zM892 256h3v1h-3zM898 256h3v1h-3zM904 256h3v1h-3zM910 256h3v1h-3zM916 256h3v1h-3zM922 256h3v1h-3zM928 256h3v1h-3zM934 256h3v1h-3zM940 256h3v1h-3zM946 256h3v1h-3zM952 256h3v1h-3zM958 256h3v1h-3zM964 256h3v1h-3zM970 256h3v1h-3zM976 256h3v1h-3zM982 256h3v1h-3zM988 256h3v1h-3zM994 256h3v1h-3zM1000 256h3v1h-3zM1006 256h3v1h-3zM1012 256h3v1h-3zM1018 256h3v1h-3zM1024 256h3v1h-3zM1030 256h3v1h-3zM1036 256h3v1h-3zM1042 256h3v1h-3zM1048 256h3v1h-3zM1054 256h3v1h-3zM1060 256h3v1h-3zM1066 256h3v1h-3zM1072 256h3v1h-3zM1078 256h3v1h-3zM1084 256h3v1h-3zM1090 256h3v1h-3zM1096 256h3v1h-3zM1102 256h3v1h-3zM1108 256h3v1h-3zM1114 256h3v1h-3zM1120 256h3v1h-3zM1126 256h3v1h-3zM1132 256h3v1h-3zM1138 256h3v1h-3zM1144 256h3v1h-3zM1150 256h3v1h-3zM1156 256h3v1h-3zM1162 256h3v1h-3zM1168 256h3v1h-3zM1174 256h3v1h-3zM1180 256h3v1h-3zM1186 256h3v1h-3zM1192 256h3v1h-3zM1198 256h3v1h-3zM1204 256h3v1h-3zM1210 256h3v1h-3zM1216 256h3v1h-3zM1222 256h3v1h-3zM1228 256h3v1h-3zM1234 256h3v1h-3zM1240 256h3v1h-3zM1246 256h3v1h-3zM1252 256h3v1h-3zM1258 256h3v1h-3zM1264 256h3v1h-3zM1270 256h3v1h-3zM1276 256h3v1h-3zM1282 256h3v1h-3zM1288 256h3v1h-3zM1294 256h3v1h-3zM1300 256h3v1h-3zM1306 256h3v1h-3zM1312 256h3v1h-3zM1318 256h3v1h-3zM1324 256h3v1h-3zM1330 256h3v1h-3zM1336 256h3v1h-3zM1342 256h3v1h-3zM1348 256h3v1h-3zM1354 256h3v1h-3zM1360 256h3v1h-3zM1366 256h3v1h-3zM1372 256h3v1h-3zM1378 256h3v1h-3zM1384 256h3v1h-3zM1390 256h3v1h-3zM1396 256h3v1h-3zM1402 256h3v1h-3zM1408 256h3v1h-3zM1414 256h3v1h-3zM1420 256h3v1h-3zM1426 256h3v1h-3zM1432 256h3v1h-3zM1438 256h3v1h-3zM1444 256h3v1h-3zM1450 256h3v1h-3zM4 289h3v1h-3zM10 289h3v1h-3zM16 289h3v1h-3zM22 289h3v1h-3zM28 289h3v1h-3zM34 289h3v1h-3zM40 289h3v1h-3zM46 289h3v1h-3zM52 289h3v1h-3zM58 289h3v1h-3zM64 289h3v1h-3zM70 289h3v1h-3zM76 289h3v1h-3zM82 289h3v1h-3zM88 289h3v1h-3zM94 289h3v1h-3zM100 289h3v1h-3zM106 289h3v1h-3zM112 289h3v1h-3zM118 289h3v1h-3zM124 289h3v1h-3zM130 289h3v1h-3zM136 289h3v1h-3zM142 289h3v1h-3zM148 289h3v1h-3zM154 289h3v1h-3zM160 289h3v1h-3zM166 289h3v1h-3zM172 289h3v1h-3zM178 289h3v1h-3zM184 289h3v1h-3zM190 289h3v1h-3zM196 289h3v1h-3zM202 289h3v1h-3zM208 289h3v1h-3zM214 289h3v1h-3zM220 289h3v1h-3zM226 289h3v1h-3zM232 289h3v1h-3zM238 289h3v1h-3zM244 289h3v1h-3zM250 289h3v1h-3zM256 289h3v1h-3zM262 289h3v1h-3zM268 289h3v1h-3zM274 289h3v1h-3zM280 289h3v1h-3zM286 289h3v1h-3zM292 289h3v1h-3zM298 289h3v1h-3zM304 289h3v1h-3zM310 289h3v1h-3zM316 289h3v1h-3zM322 289h3v1h-3zM328 289h3v1h-3zM334 289h3v1h-3zM340 289h3v1h-3zM346 289h3v1h-3zM352 289h3v1h-3zM358 289h3v1h-3zM364 289h3v1h-3zM370 289h3v1h-3zM376 289h3v1h-3zM382 289h3v1h-3zM388 289h3v1h-3zM394 289h3v1h-3zM400 289h3v1h-3zM406 289h3v1h-3zM412 289h3v1h-3zM418 289h3v1h-3zM424 289h3v1h-3zM430 289h3v1h-3zM436 289h3v1h-3zM442 289h3v1h-3zM448 289h3v1h-3zM454 289h3v1h-3zM460 289h3v1h-3zM466 289h3v1h-3zM472 289h3v1h-3zM478 289h3v1h-3zM484 289h3v1h-3zM490 289h3v1h-3zM496 289h3v1h-3zM502 289h3v1h-3zM508 289h3v1h-3zM514 289h3v1h-3zM520 289h3v1h-3zM526 289h3v1h-3zM532 289h3v1h-3zM538 289h3v1h-3zM544 289h3v1h-3zM550 289h3v1h-3zM556 289h3v1h-3zM562 289h3v1h-3zM568 289h3v1h-3zM574 289h3v1h-3zM580 289h3v1h-3zM586 289h3v1h-3zM592 289h3v1h-3zM598 289h3v1h-3zM604 289h3v1h-3zM610 289h3v1h-3zM616 289h3v1h-3zM622 289h3v1h-3zM628 289h3v1h-3zM634 289h3v1h-3zM640 289h3v1h-3zM646 289h3v1h-3zM652 289h3v1h-3zM658 289h3v1h-3zM664 289h3v1h-3zM670 289h3v1h-3zM676 289h3v1h-3zM682 289h3v1h-3zM688 289h3v1h-3zM694 289h3v1h-3zM700 289h3v1h-3zM706 289h3v1h-3zM712 289h3v1h-3zM718 289h3v1h-3zM724 289h3v1h-3zM730 289h3v1h-3zM736 289h3v1h-3zM742 289h3v1h-3zM748 289h3v1h-3zM754 289h3v1h-3zM760 289h3v1h-3zM766 289h3v1h-3zM772 289h3v1h-3zM778 289h3v1h-3zM784 289h3v1h-3zM790 289h3v1h-3zM796 289h3v1h-3zM802 289h3v1h-3zM808 289h3v1h-3zM814 289h3v1h-3zM820 289h3v1h-3zM826 289h3v1h-3zM832 289h3v1h-3zM838 289h3v1h-3zM844 289h3v1h-3zM850 289h3v1h-3zM856 289h3v1h-3zM862 289h3v1h-3zM868 289h3v1h-3zM874 289h3v1h-3zM880 289h3v1h-3zM886 289h3v1h-3zM892 289h3v1h-3zM898 289h3v1h-3zM904 289h3v1h-3zM910 289h3v1h-3zM916 289h3v1h-3zM922 289h3v1h-3zM928 289h3v1h-3zM934 289h3v1h-3zM940 289h3v1h-3zM946 289h3v1h-3zM952 289h3v1h-3zM958 289h3v1h-3zM964 289h3v1h-3zM970 289h3v1h-3zM976 289h3v1h-3zM982 289h3v1h-3zM988 289h3v1h-3zM994 289h3v1h-3zM1000 289h3v1h-3zM1006 289h3v1h-3zM1012 289h3v1h-3zM1018 289h3v1h-3zM1024 289h3v1h-3zM1030 289h3v1h-3zM1036 289h3v1h-3zM1042 289h3v1h-3zM1048 289h3v1h-3zM1054 289h3v1h-3zM1060 289h3v1h-3zM1066 289h3v1h-3zM1072 289h3v1h-3zM1078 289h3v1h-3zM1084 289h3v1h-3zM1090 289h3v1h-3zM1096 289h3v1h-3zM1102 289h3v1h-3zM1108 289h3v1h-3zM1114 289h3v1h-3zM1120 289h3v1h-3zM1126 289h3v1h-3zM1132 289h3v1h-3zM1138 289h3v1h-3zM1144 289h3v1h-3zM1150 289h3v1h-3zM1156 289h3v1h-3zM1162 289h3v1h-3zM1168 289h3v1h-3zM1174 289h3v1h-3zM1180 289h3v1h-3zM1186 289h3v1h-3zM1192 289h3v1h-3zM1198 289h3v1h-3zM1204 289h3v1h-3zM1210 289h3v1h-3zM1216 289h3v1h-3zM1222 289h3v1h-3zM1228 289h3v1h-3zM1234 289h3v1h-3zM1240 289h3v1h-3zM1246 289h3v1h-3zM1252 289h3v1h-3zM1258 289h3v1h-3zM1264 289h3v1h-3zM1270 289h3v1h-3zM1276 289h3v1h-3zM1282 289h3v1h-3zM1288 289h3v1h-3zM1294 289h3v1h-3zM1300 289h3v1h-3zM1306 289h3v1h-3zM1312 289h3v1h-3zM1318 289h3v1h-3zM1324 289h3v1h-3zM1330 289h3v1h-3zM1336 289h3v1h-3zM1342 289h3v1h-3zM1348 289h3v1h-3zM1354 289h3v1h-3zM1360 289h3v1h-3zM1366 289h3v1h-3zM1372 289h3v1h-3zM1378 289h3v1h-3zM1384 289h3v1h-3zM1390 289h3v1h-3zM1396 289h3v1h-3zM1402 289h3v1h-3zM1408 289h3v1h-3zM1414 289h3v1h-3zM1420 289h3v1h-3zM1426 289h3v1h-3zM1432 289h3v1h-3zM1438 289h3v1h-3zM1444 289h3v1h-3zM1450 289h3v1h-3zM4 322h3v1h-3zM10 322h3v1h-3zM16 322h3v1h-3zM22 322h3v1h-3zM28 322h3v1h-3zM34 322h3v1h-3zM40 322h3v1h-3zM46 322h3v1h-3zM52 322h3v1h-3zM58 322h3v1h-3zM64 322h3v1h-3zM70 322h3v1h-3zM76 322h3v1h-3zM82 322h3v1h-3zM88 322h3v1h-3zM94 322h3v1h-3zM100 322h3v1h-3zM106 322h3v1h-3zM112 322h3v1h-3zM118 322h3v1h-3zM124 322h3v1h-3zM130 322h3v1h-3zM136 322h3v1h-3zM142 322h3v1h-3zM148 322h3v1h-3zM154 322h3v1h-3zM160 322h3v1h-3zM166 322h3v1h-3zM172 322h3v1h-3zM178 322h3v1h-3zM184 322h3v1h-3zM190 322h3v1h-3zM196 322h3v1h-3zM202 322h3v1h-3zM208 322h3v1h-3zM214 322h3v1h-3zM220 322h3v1h-3zM226 322h3v1h-3zM232 322h3v1h-3zM238 322h3v1h-3zM244 322h3v1h-3zM250 322h3v1h-3zM256 322h3v1h-3zM262 322h3v1h-3zM268 322h3v1h-3zM274 322h3v1h-3zM280 322h3v1h-3zM286 322h3v1h-3zM292 322h3v1h-3zM298 322h3v1h-3zM304 322h3v1h-3zM310 322h3v1h-3zM316 322h3v1h-3zM322 322h3v1h-3zM328 322h3v1h-3zM334 322h3v1h-3zM340 322h3v1h-3zM346 322h3v1h-3zM352 322h3v1h-3zM358 322h3v1h-3zM364 322h3v1h-3zM370 322h3v1h-3zM376 322h3v1h-3zM382 322h3v1h-3zM388 322h3v1h-3zM394 322h3v1h-3zM400 322h3v1h-3zM406 322h3v1h-3zM412 322h3v1h-3zM418 322h3v1h-3zM424 322h3v1h-3zM430 322h3v1h-3zM436 322h3v1h-3zM442 322h3v1h-3zM448 322h3v1h-3zM454 322h3v1h-3zM460 322h3v1h-3zM466 322h3v1h-3zM472 322h3v1h-3zM478 322h3v1h-3zM484 322h3v1h-3zM490 322h3v1h-3zM496 322h3v1h-3zM502 322h3v1h-3zM508 322h3v1h-3zM514 322h3v1h-3zM520 322h3v1h-3zM526 322h3v1h-3zM532 322h3v1h-3zM538 322h3v1h-3zM544 322h3v1h-3zM550 322h3v1h-3zM556 322h3v1h-3zM562 322h3v1h-3zM568 322h3v1h-3zM574 322h3v1h-3zM580 322h3v1h-3zM586 322h3v1h-3zM592 322h3v1h-3zM598 322h3v1h-3zM604 322h3v1h-3zM610 322h3v1h-3zM616 322h3v1h-3zM622 322h3v1h-3zM628 322h3v1h-3zM634 322h3v1h-3zM640 322h3v1h-3zM646 322h3v1h-3zM652 322h3v1h-3zM658 322h3v1h-3zM664 322h3v1h-3zM670 322h3v1h-3zM676 322h3v1h-3zM682 322h3v1h-3zM688 322h3v1h-3zM694 322h3v1h-3zM700 322h3v1h-3zM706 322h3v1h-3zM712 322h3v1h-3zM718 322h3v1h-3zM724 322h3v1h-3zM730 322h3v1h-3zM736 322h3v1h-3zM742 322h3v1h-3zM748 322h3v1h-3zM754 322h3v1h-3zM760 322h3v1h-3zM766 322h3v1h-3zM772 322h3v1h-3zM778 322h3v1h-3zM784 322h3v1h-3zM790 322h3v1h-3zM796 322h3v1h-3zM802 322h3v1h-3zM808 322h3v1h-3zM814 322h3v1h-3zM820 322h3v1h-3zM826 322h3v1h-3zM832 322h3v1h-3zM838 322h3v1h-3zM844 322h3v1h-3zM850 322h3v1h-3zM856 322h3v1h-3zM862 322h3v1h-3zM868 322h3v1h-3zM874 322h3v1h-3zM880 322h3v1h-3zM886 322h3v1h-3zM892 322h3v1h-3zM898 322h3v1h-3zM904 322h3v1h-3zM910 322h3v1h-3zM916 322h3v1h-3zM922 322h3v1h-3zM928 322h3v1h-3zM934 322h3v1h-3zM940 322h3v1h-3zM946 322h3v1h-3zM952 322h3v1h-3zM958 322h3v1h-3zM964 322h3v1h-3zM970 322h3v1h-3zM976 322h3v1h-3zM982 322h3v1h-3zM988 322h3v1h-3zM994 322h3v1h-3zM1000 322h3v1h-3zM1006 322h3v1h-3zM1012 322h3v1h-3zM1018 322h3v1h-3zM1024 322h3v1h-3zM1030 322h3v1h-3zM1036 322h3v1h-3zM1042 322h3v1h-3zM1048 322h3v1h-3zM1054 322h3v1h-3zM1060 322h3v1h-3zM1066 322h3v1h-3zM1072 322h3v1h-3zM1078 322h3v1h-3zM1084 322h3v1h-3zM1090 322h3v1h-3zM1096 322h3v1h-3zM1102 322h3v1h-3zM1108 322h3v1h-3zM1114 322h3v1h-3zM1120 322h3v1h-3zM1126 322h3v1h-3zM1132 322h3v1h-3zM1138 322h3v1h-3zM1144 322h3v1h-3zM1150 322h3v1h-3zM1156 322h3v1h-3zM1162 322h3v1h-3zM1168 322h3v1h-3zM1174 322h3v1h-3zM1180 322h3v1h-3zM1186 322h3v1h-3zM1192 322h3v1h-3zM1198 322h3v1h-3zM1204 322h3v1h-3zM1210 322h3v1h-3zM1216 322h3v1h-3zM1222 322h3v1h-3zM1228 322h3v1h-3zM1234 322h3v1h-3zM1240 322h3v1h-3zM1246 322h3v1h-3zM1252 322h3v1h-3zM1258 322h3v1h-3zM1264 322h3v1h-3zM1270 322h3v1h-3zM1276 322h3v1h-3zM1282 322h3v1h-3zM1288 322h3v1h-3zM1294 322h3v1h-3zM1300 322h3v1h-3zM1306 322h3v1h-3zM1312 322h3v1h-3zM1318 322h3v1h-3zM1324 322h3v1h-3zM1330 322h3v1h-3zM1336 322h3v1h-3zM1342 322h3v1h-3zM1348 322h3v1h-3zM1354 322h3v1h-3zM1360 322h3v1h-3zM1366 322h3v1h-3zM1372 322h3v1h-3zM1378 322h3v1h-3zM1384 322h3v1h-3zM1390 322h3v1h-3zM1396 322h3v1h-3zM1402 322h3v1h-3zM1408 322h3v1h-3zM1414 322h3v1h-3zM1420 322h3v1h-3zM1426 322h3v1h-3zM1432 322h3v1h-3zM1438 322h3v1h-3zM1444 322h3v1h-3zM1450 322h3v1h-3zM4 356h3v1h-3zM10 356h3v1h-3zM16 356h3v1h-3zM22 356h3v1h-3zM28 356h3v1h-3zM34 356h3v1h-3zM40 356h3v1h-3zM46 356h3v1h-3zM52 356h3v1h-3zM58 356h3v1h-3zM64 356h3v1h-3zM70 356h3v1h-3zM76 356h3v1h-3zM82 356h3v1h-3zM88 356h3v1h-3zM94 356h3v1h-3zM100 356h3v1h-3zM106 356h3v1h-3zM112 356h3v1h-3zM118 356h3v1h-3zM124 356h3v1h-3zM130 356h3v1h-3zM136 356h3v1h-3zM142 356h3v1h-3zM148 356h3v1h-3zM154 356h3v1h-3zM160 356h3v1h-3zM166 356h3v1h-3zM172 356h3v1h-3zM178 356h3v1h-3zM184 356h3v1h-3zM190 356h3v1h-3zM196 356h3v1h-3zM202 356h3v1h-3zM208 356h3v1h-3zM214 356h3v1h-3zM220 356h3v1h-3zM226 356h3v1h-3zM232 356h3v1h-3zM238 356h3v1h-3zM244 356h3v1h-3zM250 356h3v1h-3zM256 356h3v1h-3zM262 356h3v1h-3zM268 356h3v1h-3zM274 356h3v1h-3zM280 356h3v1h-3zM286 356h3v1h-3zM292 356h3v1h-3zM298 356h3v1h-3zM304 356h3v1h-3zM310 356h3v1h-3zM316 356h3v1h-3zM322 356h3v1h-3zM328 356h3v1h-3zM334 356h3v1h-3zM340 356h3v1h-3zM346 356h3v1h-3zM352 356h3v1h-3zM358 356h3v1h-3zM364 356h3v1h-3zM370 356h3v1h-3zM376 356h3v1h-3zM382 356h3v1h-3zM388 356h3v1h-3zM394 356h3v1h-3zM400 356h3v1h-3zM406 356h3v1h-3zM412 356h3v1h-3zM418 356h3v1h-3zM424 356h3v1h-3zM430 356h3v1h-3zM436 356h3v1h-3zM442 356h3v1h-3zM448 356h3v1h-3zM454 356h3v1h-3zM460 356h3v1h-3zM466 356h3v1h-3zM472 356h3v1h-3zM478 356h3v1h-3zM484 356h3v1h-3zM490 356h3v1h-3zM496 356h3v1h-3zM502 356h3v1h-3zM508 356h3v1h-3zM514 356h3v1h-3zM520 356h3v1h-3zM526 356h3v1h-3zM532 356h3v1h-3zM538 356h3v1h-3zM544 356h3v1h-3zM550 356h3v1h-3zM556 356h3v1h-3zM562 356h3v1h-3zM568 356h3v1h-3zM574 356h3v1h-3zM580 356h3v1h-3zM586 356h3v1h-3zM592 356h3v1h-3zM598 356h3v1h-3zM604 356h3v1h-3zM610 356h3v1h-3zM616 356h3v1h-3zM622 356h3v1h-3zM628 356h3v1h-3zM634 356h3v1h-3zM640 356h3v1h-3zM646 356h3v1h-3zM652 356h3v1h-3zM658 356h3v1h-3zM664 356h3v1h-3zM670 356h3v1h-3zM676 356h3v1h-3zM682 356h3v1h-3zM688 356h3v1h-3zM694 356h3v1h-3zM700 356h3v1h-3zM706 356h3v1h-3zM712 356h3v1h-3zM718 356h3v1h-3zM724 356h3v1h-3zM730 356h3v1h-3zM736 356h3v1h-3zM742 356h3v1h-3zM748 356h3v1h-3zM754 356h3v1h-3zM760 356h3v1h-3zM766 356h3v1h-3zM772 356h3v1h-3zM778 356h3v1h-3zM784 356h3v1h-3zM790 356h3v1h-3zM796 356h3v1h-3zM802 356h3v1h-3zM808 356h3v1h-3zM814 356h3v1h-3zM820 356h3v1h-3zM826 356h3v1h-3zM832 356h3v1h-3zM838 356h3v1h-3zM844 356h3v1h-3zM850 356h3v1h-3zM856 356h3v1h-3zM862 356h3v1h-3zM868 356h3v1h-3zM874 356h3v1h-3zM880 356h3v1h-3zM886 356h3v1h-3zM892 356h3v1h-3zM898 356h3v1h-3zM904 356h3v1h-3zM910 356h3v1h-3zM916 356h3v1h-3zM922 356h3v1h-3zM928 356h3v1h-3zM934 356h3v1h-3zM940 356h3v1h-3zM946 356h3v1h-3zM952 356h3v1h-3zM958 356h3v1h-3zM964 356h3v1h-3zM970 356h3v1h-3zM976 356h3v1h-3zM982 356h3v1h-3zM988 356h3v1h-3zM994 356h3v1h-3zM1000 356h3v1h-3zM1006 356h3v1h-3zM1012 356h3v1h-3zM1018 356h3v1h-3zM1024 356h3v1h-3zM1030 356h3v1h-3zM1036 356h3v1h-3zM1042 356h3v1h-3zM1048 356h3v1h-3zM1054 356h3v1h-3zM1060 356h3v1h-3zM1066 356h3v1h-3zM1072 356h3v1h-3zM1078 356h3v1h-3zM1084 356h3v1h-3zM1090 356h3v1h-3zM1096 356h3v1h-3zM1102 356h3v1h-3zM1108 356h3v1h-3zM1114 356h3v1h-3zM1120 356h3v1h-3zM1126 356h3v1h-3zM1132 356h3v1h-3zM1138 356h3v1h-3zM1144 356h3v1h-3zM1150 356h3v1h-3zM1156 356h3v1h-3zM1162 356h3v1h-3zM1168 356h3v1h-3zM1174 356h3v1h-3zM1180 356h3v1h-3zM1186 356h3v1h-3zM1192 356h3v1h-3zM1198 356h3v1h-3zM1204 356h3v1h-3zM1210 356h3v1h-3zM1216 356h3v1h-3zM1222 356h3v1h-3zM1228 356h3v1h-3zM1234 356h3v1h-3zM1240 356h3v1h-3zM1246 356h3v1h-3zM1252 356h3v1h-3zM1258 356h3v1h-3zM1264 356h3v1h-3zM1270 356h3v1h-3zM1276 356h3v1h-3zM1282 356h3v1h-3zM1288 356h3v1h-3zM1294 356h3v1h-3zM1300 356h3v1h-3zM1306 356h3v1h-3zM1312 356h3v1h-3zM1318 356h3v1h-3zM1324 356h3v1h-3zM1330 356h3v1h-3zM1336 356h3v1h-3zM1342 356h3v1h-3zM1348 356h3v1h-3zM1354 356h3v1h-3zM1360 356h3v1h-3zM1366 356h3v1h-3zM1372 356h3v1h-3zM1378 356h3v1h-3zM1384 356h3v1h-3zM1390 356h3v1h-3zM1396 356h3v1h-3zM1402 356h3v1h-3zM1408 356h3v1h-3zM1414 356h3v1h-3zM1420 356h3v1h-3zM1426 356h3v1h-3zM1432 356h3v1h-3zM1438 356h3v1h-3zM1444 356h3v1h-3zM1450 356h3v1h-3zM4 389h3v1h-3zM10 389h3v1h-3zM16 389h3v1h-3zM22 389h3v1h-3zM28 389h3v1h-3zM34 389h3v1h-3zM40 389h3v1h-3zM46 389h3v1h-3zM52 389h3v1h-3zM58 389h3v1h-3zM64 389h3v1h-3zM70 389h3v1h-3zM76 389h3v1h-3zM82 389h3v1h-3zM88 389h3v1h-3zM94 389h3v1h-3zM100 389h3v1h-3zM106 389h3v1h-3zM112 389h3v1h-3zM118 389h3v1h-3zM124 389h3v1h-3zM130 389h3v1h-3zM136 389h3v1h-3zM142 389h3v1h-3zM148 389h3v1h-3zM154 389h3v1h-3zM160 389h3v1h-3zM166 389h3v1h-3zM172 389h3v1h-3zM178 389h3v1h-3zM184 389h3v1h-3zM190 389h3v1h-3zM196 389h3v1h-3zM202 389h3v1h-3zM208 389h3v1h-3zM214 389h3v1h-3zM220 389h3v1h-3zM226 389h3v1h-3zM232 389h3v1h-3zM238 389h3v1h-3zM244 389h3v1h-3zM250 389h3v1h-3zM256 389h3v1h-3zM262 389h3v1h-3zM268 389h3v1h-3zM274 389h3v1h-3zM280 389h3v1h-3zM286 389h3v1h-3zM292 389h3v1h-3zM298 389h3v1h-3zM304 389h3v1h-3zM310 389h3v1h-3zM316 389h3v1h-3zM322 389h3v1h-3zM328 389h3v1h-3zM334 389h3v1h-3zM340 389h3v1h-3zM346 389h3v1h-3zM352 389h3v1h-3zM358 389h3v1h-3zM364 389h3v1h-3zM370 389h3v1h-3zM376 389h3v1h-3zM382 389h3v1h-3zM388 389h3v1h-3zM394 389h3v1h-3zM400 389h3v1h-3zM406 389h3v1h-3zM412 389h3v1h-3zM418 389h3v1h-3zM424 389h3v1h-3zM430 389h3v1h-3zM436 389h3v1h-3zM442 389h3v1h-3zM448 389h3v1h-3zM454 389h3v1h-3zM460 389h3v1h-3zM466 389h3v1h-3zM472 389h3v1h-3zM478 389h3v1h-3zM484 389h3v1h-3zM490 389h3v1h-3zM496 389h3v1h-3zM502 389h3v1h-3zM508 389h3v1h-3zM514 389h3v1h-3zM520 389h3v1h-3zM526 389h3v1h-3zM532 389h3v1h-3zM538 389h3v1h-3zM544 389h3v1h-3zM550 389h3v1h-3zM556 389h3v1h-3zM562 389h3v1h-3zM568 389h3v1h-3zM574 389h3v1h-3zM580 389h3v1h-3zM586 389h3v1h-3zM592 389h3v1h-3zM598 389h3v1h-3zM604 389h3v1h-3zM610 389h3v1h-3zM616 389h3v1h-3zM622 389h3v1h-3zM628 389h3v1h-3zM634 389h3v1h-3zM640 389h3v1h-3zM646 389h3v1h-3zM652 389h3v1h-3zM658 389h3v1h-3zM664 389h3v1h-3zM670 389h3v1h-3zM676 389h3v1h-3zM682 389h3v1h-3zM688 389h3v1h-3zM694 389h3v1h-3zM700 389h3v1h-3zM706 389h3v1h-3zM712 389h3v1h-3zM718 389h3v1h-3zM724 389h3v1h-3zM730 389h3v1h-3zM736 389h3v1h-3zM742 389h3v1h-3zM748 389h3v1h-3zM754 389h3v1h-3zM760 389h3v1h-3zM766 389h3v1h-3zM772 389h3v1h-3zM778 389h3v1h-3zM784 389h3v1h-3zM790 389h3v1h-3zM796 389h3v1h-3zM802 389h3v1h-3zM808 389h3v1h-3zM814 389h3v1h-3zM820 389h3v1h-3zM826 389h3v1h-3zM832 389h3v1h-3zM838 389h3v1h-3zM844 389h3v1h-3zM850 389h3v1h-3zM856 389h3v1h-3zM862 389h3v1h-3zM868 389h3v1h-3zM874 389h3v1h-3zM880 389h3v1h-3zM886 389h3v1h-3zM892 389h3v1h-3zM898 389h3v1h-3zM904 389h3v1h-3zM910 389h3v1h-3zM916 389h3v1h-3zM922 389h3v1h-3zM928 389h3v1h-3zM934 389h3v1h-3zM940 389h3v1h-3zM946 389h3v1h-3zM952 389h3v1h-3zM958 389h3v1h-3zM964 389h3v1h-3zM970 389h3v1h-3zM976 389h3v1h-3zM982 389h3v1h-3zM988 389h3v1h-3zM994 389h3v1h-3zM1000 389h3v1h-3zM1006 389h3v1h-3zM1012 389h3v1h-3zM1018 389h3v1h-3zM1024 389h3v1h-3zM1030 389h3v1h-3zM1036 389h3v1h-3zM1042 389h3v1h-3zM1048 389h3v1h-3zM1054 389h3v1h-3zM1060 389h3v1h-3zM1066 389h3v1h-3zM1072 389h3v1h-3zM1078 389h3v1h-3zM1084 389h3v1h-3zM1090 389h3v1h-3zM1096 389h3v1h-3zM1102 389h3v1h-3zM1108 389h3v1h-3zM1114 389h3v1h-3zM1120 389h3v1h-3zM1126 389h3v1h-3zM1132 389h3v1h-3zM1138 389h3v1h-3zM1144 389h3v1h-3zM1150 389h3v1h-3zM1156 389h3v1h-3zM1162 389h3v1h-3zM1168 389h3v1h-3zM1174 389h3v1h-3zM1180 389h3v1h-3zM1186 389h3v1h-3zM1192 389h3v1h-3zM1198 389h3v1h-3zM1204 389h3v1h-3zM1210 389h3v1h-3zM1216 389h3v1h-3zM1222 389h3v1h-3zM1228 389h3v1h-3zM1234 389h3v1h-3zM1240 389h3v1h-3zM1246 389h3v1h-3zM1252 389h3v1h-3zM1258 389h3v1h-3zM1264 389h3v1h-3zM1270 389h3v1h-3zM1276 389h3v1h-3zM1282 389h3v1h-3zM1288 389h3v1h-3zM1294 389h3v1h-3zM1300 389h3v1h-3zM1306 389h3v1h-3zM1312 389h3v1h-3zM1318 389h3v1h-3zM1324 389h3v1h-3zM1330 389h3v1h-3zM1336 389h3v1h-3zM1342 389h3v1h-3zM1348 389h3v1h-3zM1354 389h3v1h-3zM1360 389h3v1h-3zM1366 389h3v1h-3zM1372 389h3v1h-3zM1378 389h3v1h-3zM1384 389h3v1h-3zM1390 389h3v1h-3zM1396 389h3v1h-3zM1402 389h3v1h-3zM1408 389h3v1h-3zM1414 389h3v1h-3zM1420 389h3v1h-3zM1426 389h3v1h-3zM1432 389h3v1h-3zM1438 389h3v1h-3zM1444 389h3v1h-3zM1450 389h3v1h-3zM4 422h3v1h-3zM10 422h3v1h-3zM16 422h3v1h-3zM22 422h3v1h-3zM28 422h3v1h-3zM34 422h3v1h-3zM40 422h3v1h-3zM46 422h3v1h-3zM52 422h3v1h-3zM58 422h3v1h-3zM64 422h3v1h-3zM70 422h3v1h-3zM76 422h3v1h-3zM82 422h3v1h-3zM88 422h3v1h-3zM94 422h3v1h-3zM100 422h3v1h-3zM106 422h3v1h-3zM112 422h3v1h-3zM118 422h3v1h-3zM124 422h3v1h-3zM130 422h3v1h-3zM136 422h3v1h-3zM142 422h3v1h-3zM148 422h3v1h-3zM154 422h3v1h-3zM160 422h3v1h-3zM166 422h3v1h-3zM172 422h3v1h-3zM178 422h3v1h-3zM184 422h3v1h-3zM190 422h3v1h-3zM196 422h3v1h-3zM202 422h3v1h-3zM208 422h3v1h-3zM214 422h3v1h-3zM220 422h3v1h-3zM226 422h3v1h-3zM232 422h3v1h-3zM238 422h3v1h-3zM244 422h3v1h-3zM250 422h3v1h-3zM256 422h3v1h-3zM262 422h3v1h-3zM268 422h3v1h-3zM274 422h3v1h-3zM280 422h3v1h-3zM286 422h3v1h-3zM292 422h3v1h-3zM298 422h3v1h-3zM304 422h3v1h-3zM310 422h3v1h-3zM316 422h3v1h-3zM322 422h3v1h-3zM328 422h3v1h-3zM334 422h3v1h-3zM340 422h3v1h-3zM346 422h3v1h-3zM352 422h3v1h-3zM358 422h3v1h-3zM364 422h3v1h-3zM370 422h3v1h-3zM376 422h3v1h-3zM382 422h3v1h-3zM388 422h3v1h-3zM394 422h3v1h-3zM400 422h3v1h-3zM406 422h3v1h-3zM412 422h3v1h-3zM418 422h3v1h-3zM424 422h3v1h-3zM430 422h3v1h-3zM436 422h3v1h-3zM442 422h3v1h-3zM448 422h3v1h-3zM454 422h3v1h-3zM460 422h3v1h-3zM466 422h3v1h-3zM472 422h3v1h-3zM478 422h3v1h-3zM484 422h3v1h-3zM490 422h3v1h-3zM496 422h3v1h-3zM502 422h3v1h-3zM508 422h3v1h-3zM514 422h3v1h-3zM520 422h3v1h-3zM526 422h3v1h-3zM532 422h3v1h-3zM538 422h3v1h-3zM544 422h3v1h-3zM550 422h3v1h-3zM556 422h3v1h-3zM562 422h3v1h-3zM568 422h3v1h-3zM574 422h3v1h-3zM580 422h3v1h-3zM586 422h3v1h-3zM592 422h3v1h-3zM598 422h3v1h-3zM604 422h3v1h-3zM610 422h3v1h-3zM616 422h3v1h-3zM622 422h3v1h-3zM628 422h3v1h-3zM634 422h3v1h-3zM640 422h3v1h-3zM646 422h3v1h-3zM652 422h3v1h-3zM658 422h3v1h-3zM664 422h3v1h-3zM670 422h3v1h-3zM676 422h3v1h-3zM682 422h3v1h-3zM688 422h3v1h-3zM694 422h3v1h-3zM700 422h3v1h-3zM706 422h3v1h-3zM712 422h3v1h-3zM718 422h3v1h-3zM724 422h3v1h-3zM730 422h3v1h-3zM736 422h3v1h-3zM742 422h3v1h-3zM748 422h3v1h-3zM754 422h3v1h-3zM760 422h3v1h-3zM766 422h3v1h-3zM772 422h3v1h-3zM778 422h3v1h-3zM784 422h3v1h-3zM790 422h3v1h-3zM796 422h3v1h-3zM802 422h3v1h-3zM808 422h3v1h-3zM814 422h3v1h-3zM820 422h3v1h-3zM826 422h3v1h-3zM832 422h3v1h-3zM838 422h3v1h-3zM844 422h3v1h-3zM850 422h3v1h-3zM856 422h3v1h-3zM862 422h3v1h-3zM868 422h3v1h-3zM874 422h3v1h-3zM880 422h3v1h-3zM886 422h3v1h-3zM892 422h3v1h-3zM898 422h3v1h-3zM904 422h3v1h-3zM910 422h3v1h-3zM916 422h3v1h-3zM922 422h3v1h-3zM928 422h3v1h-3zM934 422h3v1h-3zM940 422h3v1h-3zM946 422h3v1h-3zM952 422h3v1h-3zM958 422h3v1h-3zM964 422h3v1h-3zM970 422h3v1h-3zM976 422h3v1h-3zM982 422h3v1h-3zM988 422h3v1h-3zM994 422h3v1h-3zM1000 422h3v1h-3zM1006 422h3v1h-3zM1012 422h3v1h-3zM1018 422h3v1h-3zM1024 422h3v1h-3zM1030 422h3v1h-3zM1036 422h3v1h-3zM1042 422h3v1h-3zM1048 422h3v1h-3zM1054 422h3v1h-3zM1060 422h3v1h-3zM1066 422h3v1h-3zM1072 422h3v1h-3zM1078 422h3v1h-3zM1084 422h3v1h-3zM1090 422h3v1h-3zM1096 422h3v1h-3zM1102 422h3v1h-3zM1108 422h3v1h-3zM1114 422h3v1h-3zM1120 422h3v1h-3zM1126 422h3v1h-3zM1132 422h3v1h-3zM1138 422h3v1h-3zM1144 422h3v1h-3zM1150 422h3v1h-3zM1156 422h3v1h-3zM1162 422h3v1h-3zM1168 422h3v1h-3zM1174 422h3v1h-3zM1180 422h3v1h-3zM1186 422h3v1h-3zM1192 422h3v1h-3zM1198 422h3v1h-3zM1204 422h3v1h-3zM1210 422h3v1h-3zM1216 422h3v1h-3zM1222 422h3v1h-3zM1228 422h3v1h-3zM1234 422h3v1h-3zM1240 422h3v1h-3zM1246 422h3v1h-3zM1252 422h3v1h-3zM1258 422h3v1h-3zM1264 422h3v1h-3zM1270 422h3v1h-3zM1276 422h3v1h-3zM1282 422h3v1h-3zM1288 422h3v1h-3zM1294 422h3v1h-3zM1300 422h3v1h-3zM1306 422h3v1h-3zM1312 422h3v1h-3zM1318 422h3v1h-3zM1324 422h3v1h-3zM1330 422h3v1h-3zM1336 422h3v1h-3zM1342 422h3v1h-3zM1348 422h3v1h-3zM1354 422h3v1h-3zM1360 422h3v1h-3zM1366 422h3v1h-3zM1372 422h3v1h-3zM1378 422h3v1h-3zM1384 422h3v1h-3zM1390 422h3v1h-3zM1396 422h3v1h-3zM1402 422h3v1h-3zM1408 422h3v1h-3zM1414 422h3v1h-3zM1420 422h3v1h-3zM1426 422h3v1h-3zM1432 422h3v1h-3zM1438 422h3v1h-3zM1444 422h3v1h-3zM1450 422h3v1h-3zM4 456h3v1h-3zM10 456h3v1h-3zM16 456h3v1h-3zM22 456h3v1h-3zM28 456h3v1h-3zM34 456h3v1h-3zM40 456h3v1h-3zM46 456h3v1h-3zM52 456h3v1h-3zM58 456h3v1h-3zM64 456h3v1h-3zM70 456h3v1h-3zM76 456h3v1h-3zM82 456h3v1h-3zM88 456h3v1h-3zM94 456h3v1h-3zM100 456h3v1h-3zM106 456h3v1h-3zM112 456h3v1h-3zM118 456h3v1h-3zM124 456h3v1h-3zM130 456h3v1h-3zM136 456h3v1h-3zM142 456h3v1h-3zM148 456h3v1h-3zM154 456h3v1h-3zM160 456h3v1h-3zM166 456h3v1h-3zM172 456h3v1h-3zM178 456h3v1h-3zM184 456h3v1h-3zM190 456h3v1h-3zM196 456h3v1h-3zM202 456h3v1h-3zM208 456h3v1h-3zM214 456h3v1h-3zM220 456h3v1h-3zM226 456h3v1h-3zM232 456h3v1h-3zM238 456h3v1h-3zM244 456h3v1h-3zM250 456h3v1h-3zM256 456h3v1h-3zM262 456h3v1h-3zM268 456h3v1h-3zM274 456h3v1h-3zM280 456h3v1h-3zM286 456h3v1h-3zM292 456h3v1h-3zM298 456h3v1h-3zM304 456h3v1h-3zM310 456h3v1h-3zM316 456h3v1h-3zM322 456h3v1h-3zM328 456h3v1h-3zM334 456h3v1h-3zM340 456h3v1h-3zM346 456h3v1h-3zM352 456h3v1h-3zM358 456h3v1h-3zM364 456h3v1h-3zM370 456h3v1h-3zM376 456h3v1h-3zM382 456h3v1h-3zM388 456h3v1h-3zM394 456h3v1h-3zM400 456h3v1h-3zM406 456h3v1h-3zM412 456h3v1h-3zM418 456h3v1h-3zM424 456h3v1h-3zM430 456h3v1h-3zM436 456h3v1h-3zM442 456h3v1h-3zM448 456h3v1h-3zM454 456h3v1h-3zM460 456h3v1h-3zM466 456h3v1h-3zM472 456h3v1h-3zM478 456h3v1h-3zM484 456h3v1h-3zM490 456h3v1h-3zM496 456h3v1h-3zM502 456h3v1h-3zM508 456h3v1h-3zM514 456h3v1h-3zM520 456h3v1h-3zM526 456h3v1h-3zM532 456h3v1h-3zM538 456h3v1h-3zM544 456h3v1h-3zM550 456h3v1h-3zM556 456h3v1h-3zM562 456h3v1h-3zM568 456h3v1h-3zM574 456h3v1h-3zM580 456h3v1h-3zM586 456h3v1h-3zM592 456h3v1h-3zM598 456h3v1h-3zM604 456h3v1h-3zM610 456h3v1h-3zM616 456h3v1h-3zM622 456h3v1h-3zM628 456h3v1h-3zM634 456h3v1h-3zM640 456h3v1h-3zM646 456h3v1h-3zM652 456h3v1h-3zM658 456h3v1h-3zM664 456h3v1h-3zM670 456h3v1h-3zM676 456h3v1h-3zM682 456h3v1h-3zM688 456h3v1h-3zM694 456h3v1h-3zM700 456h3v1h-3zM706 456h3v1h-3zM712 456h3v1h-3zM718 456h3v1h-3zM724 456h3v1h-3zM730 456h3v1h-3zM736 456h3v1h-3zM742 456h3v1h-3zM748 456h3v1h-3zM754 456h3v1h-3zM760 456h3v1h-3zM766 456h3v1h-3zM772 456h3v1h-3zM778 456h3v1h-3zM784 456h3v1h-3zM790 456h3v1h-3zM796 456h3v1h-3zM802 456h3v1h-3zM808 456h3v1h-3zM814 456h3v1h-3zM820 456h3v1h-3zM826 456h3v1h-3zM832 456h3v1h-3zM838 456h3v1h-3zM844 456h3v1h-3zM850 456h3v1h-3zM856 456h3v1h-3zM862 456h3v1h-3zM868 456h3v1h-3zM874 456h3v1h-3zM880 456h3v1h-3zM886 456h3v1h-3zM892 456h3v1h-3zM898 456h3v1h-3zM904 456h3v1h-3zM910 456h3v1h-3zM916 456h3v1h-3zM922 456h3v1h-3zM928 456h3v1h-3zM934 456h3v1h-3zM940 456h3v1h-3zM946 456h3v1h-3zM952 456h3v1h-3zM958 456h3v1h-3zM964 456h3v1h-3zM970 456h3v1h-3zM976 456h3v1h-3zM982 456h3v1h-3zM988 456h3v1h-3zM994 456h3v1h-3zM1000 456h3v1h-3zM1006 456h3v1h-3zM1012 456h3v1h-3zM1018 456h3v1h-3zM1024 456h3v1h-3zM1030 456h3v1h-3zM1036 456h3v1h-3zM1042 456h3v1h-3zM1048 456h3v1h-3zM1054 456h3v1h-3zM1060 456h3v1h-3zM1066 456h3v1h-3zM1072 456h3v1h-3zM1078 456h3v1h-3zM1084 456h3v1h-3zM1090 456h3v1h-3zM1096 456h3v1h-3zM1102 456h3v1h-3zM1108 456h3v1h-3zM1114 456h3v1h-3zM1120 456h3v1h-3zM1126 456h3v1h-3zM1132 456h3v1h-3zM1138 456h3v1h-3zM1144 456h3v1h-3zM1150 456h3v1h-3zM1156 456h3v1h-3zM1162 456h3v1h-3zM1168 456h3v1h-3zM1174 456h3v1h-3zM1180 456h3v1h-3zM1186 456h3v1h-3zM1192 456h3v1h-3zM1198 456h3v1h-3zM1204 456h3v1h-3zM1210 456h3v1h-3zM1216 456h3v1h-3zM1222 456h3v1h-3zM1228 456h3v1h-3zM1234 456h3v1h-3zM1240 456h3v1h-3zM1246 456h3v1h-3zM1252 456h3v1h-3zM1258 456h3v1h-3zM1264 456h3v1h-3zM1270 456h3v1h-3zM1276 456h3v1h-3zM1282 456h3v1h-3zM1288 456h3v1h-3zM1294 456h3v1h-3zM1300 456h3v1h-3zM1306 456h3v1h-3zM1312 456h3v1h-3zM1318 456h3v1h-3zM1324 456h3v1h-3zM1330 456h3v1h-3zM1336 456h3v1h-3zM1342 456h3v1h-3zM1348 456h3v1h-3zM1354 456h3v1h-3zM1360 456h3v1h-3zM1366 456h3v1h-3zM1372 456h3v1h-3zM1378 456h3v1h-3zM1384 456h3v1h-3zM1390 456h3v1h-3zM1396 456h3v1h-3zM1402 456h3v1h-3zM1408 456h3v1h-3zM1414 456h3v1h-3zM1420 456h3v1h-3zM1426 456h3v1h-3zM1432 456h3v1h-3zM1438 456h3v1h-3zM1444 456h3v1h-3zM1450 456h3v1h-3zM4 543h3v1h-3zM10 543h3v1h-3zM16 543h3v1h-3zM22 543h3v1h-3zM28 543h3v1h-3zM34 543h3v1h-3zM40 543h3v1h-3zM46 543h3v1h-3zM52 543h3v1h-3zM58 543h3v1h-3zM64 543h3v1h-3zM70 543h3v1h-3zM76 543h3v1h-3zM82 543h3v1h-3zM88 543h3v1h-3zM94 543h3v1h-3zM100 543h3v1h-3zM106 543h3v1h-3zM112 543h3v1h-3zM118 543h3v1h-3zM124 543h3v1h-3zM130 543h3v1h-3zM136 543h3v1h-3zM142 543h3v1h-3zM148 543h3v1h-3zM154 543h3v1h-3zM160 543h3v1h-3zM166 543h3v1h-3zM172 543h3v1h-3zM178 543h3v1h-3zM184 543h3v1h-3zM190 543h3v1h-3zM196 543h3v1h-3zM202 543h3v1h-3zM208 543h3v1h-3zM214 543h3v1h-3zM220 543h3v1h-3zM226 543h3v1h-3zM232 543h3v1h-3zM238 543h3v1h-3zM244 543h3v1h-3zM250 543h3v1h-3zM256 543h3v1h-3zM262 543h3v1h-3zM268 543h3v1h-3zM274 543h3v1h-3zM280 543h3v1h-3zM286 543h3v1h-3zM292 543h3v1h-3zM298 543h3v1h-3zM304 543h3v1h-3zM310 543h3v1h-3zM316 543h3v1h-3zM322 543h3v1h-3zM328 543h3v1h-3zM334 543h3v1h-3zM340 543h3v1h-3zM346 543h3v1h-3zM352 543h3v1h-3zM358 543h3v1h-3zM364 543h3v1h-3zM370 543h3v1h-3zM376 543h3v1h-3zM382 543h3v1h-3zM388 543h3v1h-3zM394 543h3v1h-3zM400 543h3v1h-3zM406 543h3v1h-3zM412 543h3v1h-3zM418 543h3v1h-3zM424 543h3v1h-3zM430 543h3v1h-3zM436 543h3v1h-3zM442 543h3v1h-3zM448 543h3v1h-3zM454 543h3v1h-3zM460 543h3v1h-3zM466 543h3v1h-3zM472 543h3v1h-3zM478 543h3v1h-3zM484 543h3v1h-3zM490 543h3v1h-3zM496 543h3v1h-3zM502 543h3v1h-3zM508 543h3v1h-3zM514 543h3v1h-3zM520 543h3v1h-3zM526 543h3v1h-3zM532 543h3v1h-3zM538 543h3v1h-3zM544 543h3v1h-3zM550 543h3v1h-3zM556 543h3v1h-3zM562 543h3v1h-3zM568 543h3v1h-3zM574 543h3v1h-3zM580 543h3v1h-3zM586 543h3v1h-3zM592 543h3v1h-3zM598 543h3v1h-3zM604 543h3v1h-3zM610 543h3v1h-3zM616 543h3v1h-3zM622 543h3v1h-3zM628 543h3v1h-3zM634 543h3v1h-3zM640 543h3v1h-3zM646 543h3v1h-3zM652 543h3v1h-3zM658 543h3v1h-3zM664 543h3v1h-3zM670 543h3v1h-3zM676 543h3v1h-3zM682 543h3v1h-3zM688 543h3v1h-3zM694 543h3v1h-3zM700 543h3v1h-3zM706 543h3v1h-3zM712 543h3v1h-3zM718 543h3v1h-3zM724 543h3v1h-3zM730 543h3v1h-3zM736 543h3v1h-3zM742 543h3v1h-3zM748 543h3v1h-3zM754 543h3v1h-3zM760 543h3v1h-3zM766 543h3v1h-3zM772 543h3v1h-3zM778 543h3v1h-3zM784 543h3v1h-3zM790 543h3v1h-3zM796 543h3v1h-3zM802 543h3v1h-3zM808 543h3v1h-3zM814 543h3v1h-3zM820 543h3v1h-3zM826 543h3v1h-3zM832 543h3v1h-3zM838 543h3v1h-3zM844 543h3v1h-3zM850 543h3v1h-3zM856 543h3v1h-3zM862 543h3v1h-3zM868 543h3v1h-3zM874 543h3v1h-3zM880 543h3v1h-3zM886 543h3v1h-3zM892 543h3v1h-3zM898 543h3v1h-3zM904 543h3v1h-3zM910 543h3v1h-3zM916 543h3v1h-3zM922 543h3v1h-3zM928 543h3v1h-3zM934 543h3v1h-3zM940 543h3v1h-3zM946 543h3v1h-3zM952 543h3v1h-3zM958 543h3v1h-3zM964 543h3v1h-3zM970 543h3v1h-3zM976 543h3v1h-3zM982 543h3v1h-3zM988 543h3v1h-3zM994 543h3v1h-3zM1000 543h3v1h-3zM1006 543h3v1h-3zM1012 543h3v1h-3zM1018 543h3v1h-3zM1024 543h3v1h-3zM1030 543h3v1h-3zM1036 543h3v1h-3zM1042 543h3v1h-3zM1048 543h3v1h-3zM1054 543h3v1h-3zM1060 543h3v1h-3zM1066 543h3v1h-3zM1072 543h3v1h-3zM1078 543h3v1h-3zM1084 543h3v1h-3zM1090 543h3v1h-3zM1096 543h3v1h-3zM1102 543h3v1h-3zM1108 543h3v1h-3zM1114 543h3v1h-3zM1120 543h3v1h-3zM1126 543h3v1h-3zM1132 543h3v1h-3zM1138 543h3v1h-3zM1144 543h3v1h-3zM1150 543h3v1h-3zM1156 543h3v1h-3zM1162 543h3v1h-3zM1168 543h3v1h-3zM1174 543h3v1h-3zM1180 543h3v1h-3zM1186 543h3v1h-3zM1192 543h3v1h-3zM1198 543h3v1h-3zM1204 543h3v1h-3zM1210 543h3v1h-3zM1216 543h3v1h-3zM1222 543h3v1h-3zM1228 543h3v1h-3zM1234 543h3v1h-3zM1240 543h3v1h-3zM1246 543h3v1h-3zM1252 543h3v1h-3zM1258 543h3v1h-3zM1264 543h3v1h-3zM1270 543h3v1h-3zM1276 543h3v1h-3zM1282 543h3v1h-3zM1288 543h3v1h-3zM1294 543h3v1h-3zM1300 543h3v1h-3zM1306 543h3v1h-3zM1312 543h3v1h-3zM1318 543h3v1h-3zM1324 543h3v1h-3zM1330 543h3v1h-3zM1336 543h3v1h-3zM1342 543h3v1h-3zM1348 543h3v1h-3zM1354 543h3v1h-3zM1360 543h3v1h-3zM1366 543h3v1h-3zM1372 543h3v1h-3zM1378 543h3v1h-3zM1384 543h3v1h-3zM1390 543h3v1h-3zM1396 543h3v1h-3zM1402 543h3v1h-3zM1408 543h3v1h-3zM1414 543h3v1h-3zM1420 543h3v1h-3zM1426 543h3v1h-3zM1432 543h3v1h-3zM1438 543h3v1h-3zM1444 543h3v1h-3zM1450 543h3v1h-3zM4 681h3v1h-3zM10 681h3v1h-3zM16 681h3v1h-3zM22 681h3v1h-3zM28 681h3v1h-3zM34 681h3v1h-3zM40 681h3v1h-3zM46 681h3v1h-3zM52 681h3v1h-3zM58 681h3v1h-3zM64 681h3v1h-3zM70 681h3v1h-3zM76 681h3v1h-3zM82 681h3v1h-3zM88 681h3v1h-3zM94 681h3v1h-3zM100 681h3v1h-3zM106 681h3v1h-3zM112 681h3v1h-3zM118 681h3v1h-3zM124 681h3v1h-3zM130 681h3v1h-3zM136 681h3v1h-3zM142 681h3v1h-3zM148 681h3v1h-3zM154 681h3v1h-3zM160 681h3v1h-3zM166 681h3v1h-3zM172 681h3v1h-3zM178 681h3v1h-3zM184 681h3v1h-3zM190 681h3v1h-3zM196 681h3v1h-3zM202 681h3v1h-3zM208 681h3v1h-3zM214 681h3v1h-3zM220 681h3v1h-3zM226 681h3v1h-3zM232 681h3v1h-3zM238 681h3v1h-3zM244 681h3v1h-3zM250 681h3v1h-3zM256 681h3v1h-3zM262 681h3v1h-3zM268 681h3v1h-3zM274 681h3v1h-3zM280 681h3v1h-3zM286 681h3v1h-3zM292 681h3v1h-3zM298 681h3v1h-3zM304 681h3v1h-3zM310 681h3v1h-3zM316 681h3v1h-3zM322 681h3v1h-3zM328 681h3v1h-3zM334 681h3v1h-3zM340 681h3v1h-3zM346 681h3v1h-3zM352 681h3v1h-3zM358 681h3v1h-3zM364 681h3v1h-3zM370 681h3v1h-3zM376 681h3v1h-3zM382 681h3v1h-3zM388 681h3v1h-3zM394 681h3v1h-3zM400 681h3v1h-3zM406 681h3v1h-3zM412 681h3v1h-3zM418 681h3v1h-3zM424 681h3v1h-3zM430 681h3v1h-3zM436 681h3v1h-3zM442 681h3v1h-3zM448 681h3v1h-3zM454 681h3v1h-3zM460 681h3v1h-3zM466 681h3v1h-3zM472 681h3v1h-3zM478 681h3v1h-3zM484 681h3v1h-3zM490 681h3v1h-3zM496 681h3v1h-3zM502 681h3v1h-3zM508 681h3v1h-3zM514 681h3v1h-3zM520 681h3v1h-3zM526 681h3v1h-3zM532 681h3v1h-3zM538 681h3v1h-3zM544 681h3v1h-3zM550 681h3v1h-3zM556 681h3v1h-3zM562 681h3v1h-3zM568 681h3v1h-3zM574 681h3v1h-3zM580 681h3v1h-3zM586 681h3v1h-3zM592 681h3v1h-3zM598 681h3v1h-3zM604 681h3v1h-3zM610 681h3v1h-3zM616 681h3v1h-3zM622 681h3v1h-3zM628 681h3v1h-3zM634 681h3v1h-3zM640 681h3v1h-3zM646 681h3v1h-3zM652 681h3v1h-3zM658 681h3v1h-3zM664 681h3v1h-3zM670 681h3v1h-3zM676 681h3v1h-3zM682 681h3v1h-3zM688 681h3v1h-3zM694 681h3v1h-3zM700 681h3v1h-3zM706 681h3v1h-3zM712 681h3v1h-3zM718 681h3v1h-3zM724 681h3v1h-3zM730 681h3v1h-3zM736 681h3v1h-3zM742 681h3v1h-3zM748 681h3v1h-3zM754 681h3v1h-3zM760 681h3v1h-3zM766 681h3v1h-3zM772 681h3v1h-3zM778 681h3v1h-3zM784 681h3v1h-3zM790 681h3v1h-3zM796 681h3v1h-3zM802 681h3v1h-3zM808 681h3v1h-3zM814 681h3v1h-3zM820 681h3v1h-3zM826 681h3v1h-3zM832 681h3v1h-3zM838 681h3v1h-3zM844 681h3v1h-3zM850 681h3v1h-3zM856 681h3v1h-3zM862 681h3v1h-3zM868 681h3v1h-3zM874 681h3v1h-3zM880 681h3v1h-3zM886 681h3v1h-3zM892 681h3v1h-3zM898 681h3v1h-3zM904 681h3v1h-3zM910 681h3v1h-3zM916 681h3v1h-3zM922 681h3v1h-3zM928 681h3v1h-3zM934 681h3v1h-3zM940 681h3v1h-3zM946 681h3v1h-3zM952 681h3v1h-3zM958 681h3v1h-3zM964 681h3v1h-3zM970 681h3v1h-3zM976 681h3v1h-3zM982 681h3v1h-3zM988 681h3v1h-3zM994 681h3v1h-3zM1000 681h3v1h-3zM1006 681h3v1h-3zM1012 681h3v1h-3zM1018 681h3v1h-3zM1024 681h3v1h-3zM1030 681h3v1h-3zM1036 681h3v1h-3zM1042 681h3v1h-3zM1048 681h3v1h-3zM1054 681h3v1h-3zM1060 681h3v1h-3zM1066 681h3v1h-3zM1072 681h3v1h-3zM1078 681h3v1h-3zM1084 681h3v1h-3zM1090 681h3v1h-3zM1096 681h3v1h-3zM1102 681h3v1h-3zM1108 681h3v1h-3zM1114 681h3v1h-3zM1120 681h3v1h-3zM1126 681h3v1h-3zM1132 681h3v1h-3zM1138 681h3v1h-3zM1144 681h3v1h-3zM1150 681h3v1h-3zM1156 681h3v1h-3zM1162 681h3v1h-3zM1168 681h3v1h-3zM1174 681h3v1h-3zM1180 681h3v1h-3zM1186 681h3v1h-3zM1192 681h3v1h-3zM1198 681h3v1h-3zM1204 681h3v1h-3zM1210 681h3v1h-3zM1216 681h3v1h-3zM1222 681h3v1h-3zM1228 681h3v1h-3zM1234 681h3v1h-3zM1240 681h3v1h-3zM1246 681h3v1h-3zM1252 681h3v1h-3zM1258 681h3v1h-3zM1264 681h3v1h-3zM1270 681h3v1h-3zM1276 681h3v1h-3zM1282 681h3v1h-3zM1288 681h3v1h-3zM1294 681h3v1h-3zM1300 681h3v1h-3zM1306 681h3v1h-3zM1312 681h3v1h-3zM1318 681h3v1h-3zM1324 681h3v1h-3zM1330 681h3v1h-3zM1336 681h3v1h-3zM1342 681h3v1h-3zM1348 681h3v1h-3zM1354 681h3v1h-3zM1360 681h3v1h-3zM1366 681h3v1h-3zM1372 681h3v1h-3zM1378 681h3v1h-3zM1384 681h3v1h-3zM1390 681h3v1h-3zM1396 681h3v1h-3zM1402 681h3v1h-3zM1408 681h3v1h-3zM1414 681h3v1h-3zM1420 681h3v1h-3zM1426 681h3v1h-3zM1432 681h3v1h-3zM1438 681h3v1h-3zM1444 681h3v1h-3zM1450 681h3v1h-3z" fill="#778899"/>
<rect x="3" y="131" width="1451" height="1" fill="#778899"/>
<path d="M3 299h1v15h-1zM2 302h3v11h-3zM7 295h1v14h-1zM6 300h3v2h-3zM23 304h1v14h-1zM22 313h3v5h-3zM27 310h1v5h-1zM26 312h3v1h-3zM39 345h1v17h-1zM38 347h3v8h-3zM43 339h1v16h-1zM42 340h3v8h-3zM59 358h1v22h-1zM58 371h3v5h-3zM63 365h1v17h-1zM62 366h3v7h-3zM67 357h1v16h-1zM66 359h3v8h-3zM71 350h1v10h-1zM70 353h3v7h-3zM79 347h1v17h-1zM78 348h3v7h-3zM83 336h1v23h-1zM82 340h3v9h-3zM87 321h1v23h-1zM86 329h3v12h-3zM91 304h1v26h-1zM90 305h3v25h-3zM95 283h1v27h-1zM94 286h3v21h-3zM103 275h1v24h-1zM102 285h3v10h-3zM107 279h1v24h-1zM106 284h3v1h-3zM111 262h1v23h-1zM110 262h3v23h-3zM115 254h1v15h-1zM114 255h3v9h-3zM119 254h1v10h-1zM118 258h3v4h-3zM123 255h1v6h-1zM122 257h3v2h-3zM131 230h1v31h-1zM130 237h3v24h-3zM151 292h1v14h-1zM150 296h3v1h-3zM155 265h1v35h-1zM154 268h3v28h-3zM159 256h1v35h-1zM158 261h3v7h-3zM171 214h1v12h-1zM170 215h3v11h-3zM183 210h1v27h-1zM182 226h3v6h-3zM199 228h1v12h-1zM198 234h3v5h-3zM231 276h1v31h-1zM230 281h3v20h-3zM235 273h1v13h-1zM234 276h3v5h-3zM239 268h1v10h-1zM238 269h3v9h-3zM243 268h1v5h-1zM242 268h3v1h-3zM279 305h1v21h-1zM278 311h3v8h-3zM283 306h1v12h-1zM282 308h3v4h-3zM287 299h1v10h-1zM286 300h3v8h-3zM295 291h1v19h-1zM294 296h3v8h-3zM299 273h1v29h-1zM298 276h3v21h-3zM307 310h1v9h-1zM306 314h3v1h-3zM319 321h1v14h-1zM318 323h3v4h-3zM323 302h1v27h-1zM322 304h3v21h-3zM351 346h1v14h-1zM350 354h3v1h-3zM363 367h1v5h-1zM362 369h3v1h-3zM367 354h1v22h-1zM366 358h3v13h-3zM371 346h1v21h-1zM370 350h3v9h-3zM387 392h1v10h-1zM386 393h3v9h-3zM395 386h1v15h-1zM394 392h3v4h-3zM403 364h1v32h-1zM402 364h3v30h-3zM407 356h1v13h-1zM406 356h3v10h-3zM415 348h1v12h-1zM414 356h3v3h-3zM423 328h1v35h-1zM422 336h3v22h-3zM427 325h1v15h-1zM426 330h3v7h-3zM431 314h1v19h-1zM430 317h3v14h-3zM451 336h1v21h-1zM450 336h3v15h-3zM455 324h1v15h-1zM454 325h3v12h-3zM459 319h1v8h-1zM458 321h3v5h-3zM463 303h1v21h-1zM462 306h3v16h-3zM467 280h1v29h-1zM466 287h3v21h-3zM471 269h1v19h-1zM470 285h3v3h-3zM475 271h1v15h-1zM474 274h3v12h-3zM479 255h1v21h-1zM478 268h3v5h-3zM491 245h1v39h-1zM490 245h3v34h-3zM499 249h1v13h-1zM498 255h3v7h-3zM511 238h1v25h-1zM510 242h3v20h-3zM519 205h1v47h-1zM518 208h3v38h-3zM527 212h1v9h-1zM526 215h3v4h-3zM543 194h1v35h-1zM542 205h3v18h-3zM555 225h1v7h-1zM554 230h3v1h-3zM559 214h1v27h-1zM558 215h3v14h-3zM567 204h1v13h-1zM566 213h3v3h-3zM575 215h1v12h-1zM574 215h3v9h-3zM591 245h1v21h-1zM590 248h3v14h-3zM603 302h1v14h-1zM602 304h3v4h-3zM607 285h1v35h-1zM606 289h3v15h-3zM615 257h1v35h-1zM614 271h3v21h-3zM619 263h1v17h-1zM618 263h3v8h-3zM627 265h1v13h-1zM626 266h3v7h-3zM631 248h1v19h-1zM630 254h3v12h-3zM635 242h1v29h-1zM634 245h3v12h-3zM639 220h1v26h-1zM638 234h3v12h-3zM655 257h1v13h-1zM654 257h3v9h-3zM663 186h1v78h-1zM662 190h3v70h-3zM667 182h1v9h-1zM666 186h3v3h-3zM675 134h1v22h-1zM674 135h3v19h-3zM687 148h1v29h-1zM686 165h3v12h-3zM695 152h1v20h-1zM694 153h3v14h-3zM707 140h1v35h-1zM706 141h3v33h-3zM723 171h1v7h-1zM722 172h3v3h-3zM727 161h1v23h-1zM726 171h3v1h-3zM731 148h1v27h-1zM730 156h3v17h-3zM739 176h1v15h-1zM738 178h3v5h-3zM743 173h1v11h-1zM742 173h3v7h-3zM751 175h1v16h-1zM750 179h3v7h-3zM755 163h1v20h-1zM754 166h3v14h-3zM759 143h1v28h-1zM758 148h3v18h-3zM763 125h1v27h-1zM762 131h3v18h-3zM771 130h1v7h-1zM770 134h3v1h-3zM775 116h1v20h-1zM774 119h3v16h-3zM787 102h1v35h-1zM786 112h3v18h-3zM799 104h1v18h-1zM798 111h3v9h-3zM803 99h1v20h-1zM802 105h3v7h-3zM807 89h1v24h-1zM806 90h3v17h-3zM819 88h1v9h-1zM818 90h3v7h-3zM823 74h1v18h-1zM822 74h3v17h-3zM835 88h1v25h-1zM834 90h3v19h-3zM847 100h1v8h-1zM846 102h3v5h-3zM859 118h1v13h-1zM858 126h3v4h-3zM863 121h1v8h-1zM862 121h3v7h-3zM867 115h1v7h-1zM866 119h3v3h-3zM883 146h1v23h-1zM882 152h3v15h-3zM891 154h1v9h-1zM890 155h3v5h-3zM899 123h1v40h-1zM898 126h3v37h-3zM907 145h1v26h-1zM906 147h3v21h-3zM911 129h1v20h-1zM910 132h3v17h-3z" fill="#53B94A"/>
<path d="M11 296h1v17h-1zM10 300h3v1h-3zM15 293h1v26h-1zM14 300h3v5h-3zM19 301h1v12h-1zM18 305h3v4h-3zM31 312h1v23h-1zM30 312h3v17h-3zM35 326h1v32h-1zM34 328h3v26h-3zM47 340h1v9h-1zM46 341h3v6h-3zM51 345h1v12h-1zM50 346h3v9h-3zM55 353h1v25h-1zM54 353h3v23h-3zM75 353h1v5h-1zM74 353h3v1h-3zM99 285h1v12h-1zM98 286h3v8h-3zM127 256h1v12h-1zM126 258h3v3h-3zM135 230h1v50h-1zM134 237h3v30h-3zM139 262h1v28h-1zM138 266h3v21h-3zM143 286h1v13h-1zM142 289h3v8h-3zM147 292h1v7h-1zM146 296h3v2h-3zM163 260h1v16h-1zM162 261h3v8h-3zM167 213h1v13h-1zM166 217h3v9h-3zM175 215h1v13h-1zM174 215h3v5h-3zM179 219h1v24h-1zM178 219h3v13h-3zM187 220h1v17h-1zM186 225h3v5h-3zM191 226h1v11h-1zM190 230h3v7h-3zM195 232h1v7h-1zM194 236h3v3h-3zM203 228h1v24h-1zM202 234h3v17h-3zM207 242h1v23h-1zM206 249h3v13h-3zM211 258h1v17h-1zM210 261h3v11h-3zM215 272h1v9h-1zM214 272h3v4h-3zM219 271h1v6h-1zM218 275h3v2h-3zM223 276h1v20h-1zM222 277h3v16h-3zM227 290h1v23h-1zM226 291h3v9h-3zM247 261h1v12h-1zM246 267h3v5h-3zM251 265h1v24h-1zM250 271h3v11h-3zM255 280h1v18h-1zM254 281h3v6h-3zM259 281h1v7h-1zM258 287h3v1h-3zM263 280h1v10h-1zM262 286h3v4h-3zM267 285h1v7h-1zM266 287h3v4h-3zM271 289h1v15h-1zM270 290h3v12h-3zM275 298h1v25h-1zM274 302h3v17h-3zM291 297h1v13h-1zM290 300h3v4h-3zM303 269h1v50h-1zM302 276h3v40h-3zM311 314h1v11h-1zM310 314h3v9h-3zM315 322h1v9h-1zM314 323h3v4h-3zM327 292h1v27h-1zM326 303h3v1h-3zM331 301h1v21h-1zM330 304h3v17h-3zM335 308h1v14h-1zM334 318h3v2h-3zM339 317h1v14h-1zM338 320h3v7h-3zM343 312h1v21h-1zM342 327h3v5h-3zM347 329h1v31h-1zM346 331h3v24h-3zM355 348h1v15h-1zM354 354h3v8h-3zM359 360h1v16h-1zM358 363h3v8h-3zM375 345h1v37h-1zM374 350h3v32h-3zM379 381h1v16h-1zM378 381h3v16h-3zM383 394h1v8h-1zM382 395h3v7h-3zM391 389h1v13h-1zM390 393h3v3h-3zM399 383h1v14h-1zM398 392h3v1h-3zM411 354h1v6h-1zM410 356h3v3h-3zM419 348h1v17h-1zM418 356h3v1h-3zM435 316h1v6h-1zM434 317h3v3h-3zM439 317h1v18h-1zM438 319h3v13h-3zM443 326h1v19h-1zM442 331h3v11h-3zM447 340h1v21h-1zM446 340h3v11h-3zM483 264h1v15h-1zM482 268h3v7h-3zM487 273h1v14h-1zM486 275h3v4h-3zM495 243h1v23h-1zM494 244h3v16h-3zM503 252h1v10h-1zM502 254h3v5h-3zM507 254h1v9h-1zM506 257h3v5h-3zM515 237h1v19h-1zM514 242h3v4h-3zM523 199h1v22h-1zM522 209h3v9h-3zM531 209h1v12h-1zM530 214h3v6h-3zM535 213h1v16h-1zM534 219h3v1h-3zM539 211h1v17h-1zM538 220h3v4h-3zM547 201h1v21h-1zM546 205h3v16h-3zM551 212h1v20h-1zM550 220h3v11h-3zM563 202h1v17h-1zM562 215h3v1h-3zM571 212h1v18h-1zM570 214h3v10h-3zM579 213h1v8h-1zM578 214h3v5h-3zM583 216h1v23h-1zM582 219h3v17h-3zM587 235h1v28h-1zM586 235h3v27h-3zM595 248h1v13h-1zM594 249h3v4h-3zM599 301h1v33h-1zM598 301h3v7h-3zM611 279h1v31h-1zM610 288h3v3h-3zM623 261h1v12h-1zM622 264h3v9h-3zM643 231h1v12h-1zM642 234h3v4h-3zM647 239h1v21h-1zM646 241h3v16h-3zM651 253h1v17h-1zM650 255h3v10h-3zM659 253h1v15h-1zM658 257h3v1h-3zM671 146h1v14h-1zM670 152h3v1h-3zM679 135h1v14h-1zM678 136h3v5h-3zM683 134h1v43h-1zM682 141h3v35h-3zM691 159h1v17h-1zM690 165h3v1h-3zM699 152h1v8h-1zM698 153h3v3h-3zM703 149h1v26h-1zM702 154h3v20h-3zM711 136h1v29h-1zM710 141h3v13h-3zM715 150h1v12h-1zM714 153h3v5h-3zM719 156h1v24h-1zM718 156h3v19h-3zM735 153h1v33h-1zM734 157h3v26h-3zM747 174h1v14h-1zM746 174h3v12h-3zM767 130h1v8h-1zM766 130h3v6h-3zM779 114h1v16h-1zM778 119h3v1h-3zM783 119h1v37h-1zM782 120h3v11h-3zM791 111h1v7h-1zM790 112h3v5h-3zM795 112h1v10h-1zM794 116h3v4h-3zM811 87h1v17h-1zM810 89h3v6h-3zM815 92h1v10h-1zM814 94h3v3h-3zM827 68h1v22h-1zM826 74h3v15h-3zM831 75h1v36h-1zM830 88h3v20h-3zM839 92h1v12h-1zM838 93h3v10h-3zM843 101h1v7h-1zM842 101h3v6h-3zM851 87h1v31h-1zM850 102h3v9h-3zM855 105h1v29h-1zM854 111h3v20h-3zM871 110h1v33h-1zM870 120h3v14h-3zM875 130h1v21h-1zM874 134h3v13h-3zM879 144h1v25h-1zM878 146h3v21h-3zM887 151h1v9h-1zM886 153h3v7h-3zM895 149h1v18h-1zM894 155h3v8h-3zM903 124h1v48h-1zM902 126h3v41h-3zM915 125h1v6h-1zM914 131h3v1h-3z" fill="#0088C3"/>
<path d="M6 510h3v33h-3zM10 509h3v34h-3zM14 508h3v35h-3zM74 543h3v25h-3zM78 543h3v23h-3zM82 543h3v18h-3zM86 543h3v14h-3zM90 543h3v8h-3zM94 541h3v2h-3zM98 531h3v12h-3zM102 522h3v21h-3zM106 515h3v28h-3zM110 509h3v34h-3zM114 504h3v39h-3zM118 500h3v43h-3zM122 497h3v46h-3zM126 493h3v50h-3zM130 490h3v53h-3zM162 520h3v23h-3zM166 509h3v34h-3zM170 498h3v45h-3zM174 491h3v52h-3zM178 486h3v57h-3zM182 481h3v62h-3zM242 543h3v22h-3zM246 543h3v16h-3zM250 543h3v13h-3zM294 543h3v35h-3zM298 543h3v29h-3zM302 543h3v24h-3zM306 543h3v24h-3zM326 543h3v29h-3zM330 543h3v25h-3zM334 543h3v21h-3zM338 543h3v18h-3zM342 543h3v18h-3zM370 543h3v45h-3zM374 543h3v45h-3zM398 543h3v53h-3zM402 543h3v48h-3zM406 543h3v40h-3zM410 543h3v32h-3zM414 543h3v24h-3zM418 543h3v17h-3zM422 543h3v10h-3zM426 543h3v4h-3zM430 539h3v4h-3zM434 532h3v11h-3zM438 526h3v17h-3zM442 524h3v19h-3zM458 531h3v12h-3zM462 527h3v16h-3zM466 517h3v26h-3zM470 506h3v37h-3zM474 498h3v45h-3zM478 489h3v54h-3zM482 484h3v59h-3zM486 483h3v60h-3zM490 483h3v60h-3zM494 482h3v61h-3zM506 482h3v61h-3zM518 484h3v59h-3zM522 481h3v62h-3zM526 478h3v65h-3zM530 476h3v67h-3zM534 476h3v67h-3zM618 543h3v42h-3zM622 543h3v35h-3zM626 543h3v29h-3zM630 543h3v23h-3zM634 543h3v19h-3zM638 543h3v13h-3zM642 543h3v9h-3zM646 543h3v5h-3zM662 543h3v6h-3zM666 538h3v5h-3zM670 521h3v22h-3zM674 502h3v41h-3zM678 482h3v61h-3zM682 472h3v71h-3zM686 469h3v74h-3zM710 484h3v59h-3zM758 530h3v13h-3zM762 526h3v17h-3zM766 521h3v22h-3zM770 515h3v28h-3zM774 510h3v33h-3zM778 506h3v37h-3zM802 511h3v32h-3zM806 509h3v34h-3zM810 507h3v36h-3zM814 505h3v38h-3zM818 503h3v40h-3zM822 500h3v43h-3zM826 499h3v44h-3zM898 543h3v33h-3zM902 543h3v31h-3zM906 543h3v30h-3zM910 543h3v27h-3zM914 543h3v21h-3z" fill="#008000"/>
<path d="M2 511h3v32h-3zM18 509h3v34h-3zM22 513h3v30h-3zM26 518h3v25h-3zM30 523h3v20h-3zM34 530h3v13h-3zM38 539h3v4h-3zM42 543h3v4h-3zM46 543h3v10h-3zM50 543h3v15h-3zM54 543h3v19h-3zM58 543h3v21h-3zM62 543h3v24h-3zM66 543h3v26h-3zM70 543h3v26h-3zM134 491h3v52h-3zM138 494h3v49h-3zM142 501h3v42h-3zM146 507h3v36h-3zM150 517h3v26h-3zM154 522h3v21h-3zM158 523h3v20h-3zM186 486h3v57h-3zM190 492h3v51h-3zM194 498h3v45h-3zM198 502h3v41h-3zM202 508h3v35h-3zM206 515h3v28h-3zM210 524h3v19h-3zM214 533h3v10h-3zM218 542h3v1h-3zM222 543h3v9h-3zM226 543h3v18h-3zM230 543h3v23h-3zM234 543h3v24h-3zM238 543h3v24h-3zM254 543h3v14h-3zM258 543h3v15h-3zM262 543h3v17h-3zM266 543h3v20h-3zM270 543h3v22h-3zM274 543h3v25h-3zM278 543h3v30h-3zM282 543h3v34h-3zM286 543h3v37h-3zM290 543h3v37h-3zM310 543h3v24h-3zM314 543h3v26h-3zM318 543h3v31h-3zM322 543h3v32h-3zM346 543h3v22h-3zM350 543h3v28h-3zM354 543h3v33h-3zM358 543h3v38h-3zM362 543h3v45h-3zM366 543h3v47h-3zM378 543h3v45h-3zM382 543h3v47h-3zM386 543h3v49h-3zM390 543h3v54h-3zM394 543h3v56h-3zM446 526h3v17h-3zM450 529h3v14h-3zM454 531h3v12h-3zM498 483h3v60h-3zM502 483h3v60h-3zM510 482h3v61h-3zM514 484h3v59h-3zM538 479h3v64h-3zM542 483h3v60h-3zM546 486h3v57h-3zM550 490h3v53h-3zM554 495h3v48h-3zM558 500h3v43h-3zM562 503h3v40h-3zM566 505h3v38h-3zM570 508h3v35h-3zM574 509h3v34h-3zM578 511h3v32h-3zM582 517h3v26h-3zM586 526h3v17h-3zM590 534h3v9h-3zM594 542h3v1h-3zM598 543h3v17h-3zM602 543h3v31h-3zM606 543h3v40h-3zM610 543h3v47h-3zM614 543h3v50h-3zM650 543h3v5h-3zM654 543h3v5h-3zM658 543h3v9h-3zM690 473h3v70h-3zM694 478h3v65h-3zM698 482h3v61h-3zM702 484h3v59h-3zM706 485h3v58h-3zM714 484h3v59h-3zM718 488h3v55h-3zM722 492h3v51h-3zM726 497h3v46h-3zM730 501h3v42h-3zM734 507h3v36h-3zM738 513h3v30h-3zM742 517h3v26h-3zM746 522h3v21h-3zM750 528h3v15h-3zM754 531h3v12h-3zM782 509h3v34h-3zM786 510h3v33h-3zM790 511h3v32h-3zM794 513h3v30h-3zM798 514h3v29h-3zM830 500h3v43h-3zM834 502h3v41h-3zM838 505h3v38h-3zM842 510h3v33h-3zM846 516h3v27h-3zM850 519h3v24h-3zM854 523h3v20h-3zM858 529h3v14h-3zM862 534h3v9h-3zM866 538h3v5h-3zM870 543h3v1h-3zM874 543h3v6h-3zM878 543h3v12h-3zM882 543h3v19h-3zM886 543h3v26h-3zM890 543h3v32h-3zM894 543h3v35h-3z" fill="#FF0000"/>
<path d="M2 666h3v15h-3zM6 667h3v14h-3zM10 667h3v14h-3zM14 668h3v13h-3zM18 670h3v11h-3zM22 672h3v9h-3zM26 674h3v7h-3zM30 677h3v4h-3zM34 681h3v3h-3zM38 681h3v7h-3zM42 681h3v11h-3zM46 681h3v14h-3zM50 681h3v19h-3zM54 681h3v24h-3zM58 681h3v29h-3zM62 681h3v33h-3zM66 681h3v36h-3zM70 681h3v37h-3zM74 681h3v40h-3zM78 681h3v41h-3zM82 681h3v41h-3zM86 681h3v40h-3zM90 681h3v35h-3zM94 681h3v31h-3zM98 681h3v27h-3zM102 681h3v23h-3zM106 681h3v19h-3zM110 681h3v14h-3zM114 681h3v8h-3zM118 681h3v3h-3zM122 679h3v2h-3zM126 675h3v6h-3zM130 670h3v11h-3zM134 668h3v13h-3zM138 669h3v12h-3zM142 670h3v11h-3zM146 672h3v9h-3zM150 674h3v7h-3zM154 673h3v8h-3zM158 672h3v9h-3zM162 672h3v9h-3zM166 668h3v13h-3zM170 665h3v16h-3zM174 662h3v19h-3zM178 661h3v20h-3zM182 661h3v20h-3zM186 661h3v20h-3zM190 662h3v19h-3zM194 664h3v17h-3zM198 665h3v16h-3zM202 668h3v13h-3zM206 672h3v9h-3zM210 677h3v4h-3zM214 681h3v2h-3zM218 681h3v6h-3zM222 681h3v12h-3zM226 681h3v18h-3zM230 681h3v21h-3zM234 681h3v23h-3zM238 681h3v25h-3zM242 681h3v26h-3zM246 681h3v27h-3zM250 681h3v29h-3zM254 681h3v32h-3zM258 681h3v34h-3zM262 681h3v36h-3zM266 681h3v39h-3zM270 681h3v41h-3zM274 681h3v45h-3zM278 681h3v48h-3zM282 681h3v49h-3zM286 681h3v50h-3zM290 681h3v50h-3zM294 681h3v49h-3zM298 681h3v46h-3zM302 681h3v47h-3zM306 681h3v47h-3zM310 681h3v48h-3zM314 681h3v49h-3zM318 681h3v49h-3zM322 681h3v47h-3zM326 681h3v45h-3zM330 681h3v45h-3zM334 681h3v44h-3zM338 681h3v44h-3zM342 681h3v44h-3zM346 681h3v46h-3zM350 681h3v48h-3zM354 681h3v50h-3zM358 681h3v52h-3zM362 681h3v53h-3zM366 681h3v53h-3zM370 681h3v51h-3zM374 681h3v53h-3zM378 681h3v55h-3zM382 681h3v58h-3zM386 681h3v59h-3zM390 681h3v59h-3zM394 681h3v59h-3zM398 681h3v59h-3zM402 681h3v55h-3zM406 681h3v51h-3zM410 681h3v47h-3zM414 681h3v43h-3zM418 681h3v39h-3zM422 681h3v33h-3zM426 681h3v27h-3zM430 681h3v20h-3zM434 681h3v14h-3zM438 681h3v10h-3zM442 681h3v6h-3zM446 681h3v4h-3zM450 681h3v1h-3zM454 677h3v4h-3zM458 673h3v8h-3zM462 668h3v13h-3zM466 661h3v20h-3zM470 656h3v25h-3zM474 650h3v31h-3zM478 645h3v36h-3zM482 640h3v41h-3zM486 638h3v43h-3zM490 632h3v49h-3zM494 629h3v52h-3zM498 627h3v54h-3zM502 625h3v56h-3zM506 625h3v56h-3zM510 623h3v58h-3zM514 622h3v59h-3zM518 619h3v62h-3zM522 617h3v64h-3zM526 615h3v66h-3zM530 615h3v66h-3zM534 615h3v66h-3zM538 616h3v65h-3zM542 615h3v66h-3zM546 617h3v64h-3zM550 620h3v61h-3zM554 623h3v58h-3zM558 625h3v56h-3zM562 628h3v53h-3zM566 630h3v51h-3zM570 634h3v47h-3zM574 636h3v45h-3zM578 640h3v41h-3zM582 645h3v36h-3zM586 652h3v29h-3zM590 657h3v24h-3zM594 662h3v19h-3zM598 673h3v8h-3zM602 681h3v2h-3zM606 681h3v8h-3zM610 681h3v14h-3zM614 681h3v18h-3zM618 681h3v20h-3zM622 681h3v24h-3zM626 681h3v25h-3zM630 681h3v26h-3zM634 681h3v25h-3zM638 681h3v24h-3zM642 681h3v22h-3zM646 681h3v23h-3zM650 681h3v24h-3zM654 681h3v24h-3zM658 681h3v24h-3zM662 681h3v17h-3zM666 681h3v11h-3zM670 681h3v2h-3zM674 672h3v9h-3zM678 664h3v17h-3zM682 661h3v20h-3zM686 656h3v25h-3zM690 653h3v28h-3zM694 649h3v32h-3zM698 645h3v36h-3zM702 645h3v36h-3zM706 641h3v40h-3zM710 640h3v41h-3zM714 640h3v41h-3zM718 642h3v39h-3zM722 644h3v37h-3zM726 646h3v35h-3zM730 647h3v34h-3zM734 651h3v30h-3zM738 654h3v27h-3zM742 657h3v24h-3zM746 662h3v19h-3zM750 665h3v16h-3zM754 667h3v14h-3zM758 668h3v13h-3zM762 667h3v14h-3zM766 668h3v13h-3zM770 668h3v13h-3zM774 667h3v14h-3zM778 667h3v14h-3zM782 668h3v13h-3zM786 666h3v15h-3zM790 666h3v15h-3zM794 666h3v15h-3zM798 666h3v15h-3zM802 665h3v16h-3zM806 663h3v18h-3zM810 662h3v19h-3zM814 661h3v20h-3zM818 661h3v20h-3zM822 659h3v22h-3zM826 658h3v23h-3zM830 660h3v21h-3zM834 661h3v20h-3zM838 663h3v18h-3zM842 665h3v16h-3zM846 667h3v14h-3zM850 670h3v11h-3zM854 675h3v6h-3zM858 679h3v2h-3zM862 681h3v3h-3zM866 681h3v6h-3zM870 681h3v11h-3zM874 681h3v16h-3zM878 681h3v22h-3zM882 681h3v27h-3zM886 681h3v32h-3zM890 681h3v35h-3zM894 681h3v39h-3zM898 681h3v39h-3zM902 681h3v43h-3zM906 681h3v44h-3zM910 681h3v44h-3zM914 681h3v43h-3z" fill="#C0C0C0"/>
<path d="M907 29h24v1h-24zM907 76h24v1h-24zM907 105h24v1h-24zM907 152h24v1h-24zM907 200h24v1h-24zM907 229h24v1h-24zM907 276h24v1h-24z" fill="#000"/>
<path d="M207 458h1v1h-1zM208 457h1v2h-1zM209 457h1v2h-1zM210 457h1v2h-1zM211 456h1v2h-1zM212 456h1v2h-1zM213 456h1v2h-1zM214 456h1v2h-1zM215 455h1v2h-1zM216 455h1v2h-1zM217 455h1v2h-1zM218 454h1v2h-1zM219 454h1v2h-1zM220 454h1v2h-1zM221 453h1v2h-1zM222 453h1v2h-1zM223 453h1v2h-1zM224 453h1v2h-1zM225 452h1v2h-1zM226 452h1v2h-1zM227 452h1v2h-1zM228 451h1v2h-1zM229 451h1v2h-1zM230 451h1v2h-1zM231 450h1v2h-1zM232 450h1v2h-1zM233 450h1v2h-1zM234 450h1v2h-1zM235 449h1v2h-1zM236 449h1v2h-1zM237 449h1v2h-1zM238 448h1v2h-1zM239 448h1v2h-1zM240 448h1v2h-1zM241 447h1v2h-1zM242 447h1v2h-1zM243 447h1v2h-1zM244 447h1v2h-1zM245 446h1v2h-1zM246 446h1v2h-1zM247 446h1v2h-1zM248 445h1v2h-1zM249 445h1v2h-1zM250 445h1v2h-1zM251 444h1v2h-1zM252 444h1v2h-1zM253 444h1v2h-1zM254 443h1v2h-1zM255 443h1v2h-1zM256 443h1v2h-1zM257 443h1v2h-1zM258 442h1v2h-1zM259 442h1v2h-1zM260 442h1v2h-1zM261 441h1v2h-1zM262 441h1v2h-1zM263 441h1v2h-1zM264 440h1v2h-1zM265 440h1v2h-1zM266 440h1v2h-1zM267 440h1v2h-1zM268 439h1v2h-1zM269 439h1v2h-1zM270 439h1v2h-1zM271 438h1v2h-1zM272 438h1v2h-1zM273 438h1v2h-1zM274 437h1v2h-1zM275 437h1v2h-1zM276 437h1v2h-1zM277 437h1v2h-1zM278 436h1v2h-1zM279 436h1v2h-1zM280 436h1v2h-1zM281 435h1v2h-1zM282 435h1v2h-1zM283 435h1v2h-1zM284 434h1v2h-1zM285 434h1v2h-1zM286 434h1v2h-1zM287 434h1v2h-1zM288 433h1v2h-1zM289 433h1v2h-1zM290 433h1v2h-1zM291 432h1v2h-1zM292 432h1v2h-1zM293 432h1v2h-1zM294 431h1v2h-1zM295 431h1v2h-1zM296 431h1v2h-1zM297 430h1v2h-1zM298 430h1v2h-1zM299 430h1v2h-1zM300 430h1v2h-1zM301 429h1v2h-1zM302 429h1v2h-1zM303 429h1v2h-1zM304 428h1v2h-1zM305 428h1v2h-1zM306 428h1v2h-1zM307 427h1v2h-1zM308 427h1v2h-1zM309 427h1v2h-1zM310 427h1v2h-1zM311 426h1v2h-1zM312 426h1v2h-1zM313 426h1v2h-1zM314 425h1v2h-1zM315 425h1v2h-1zM316 425h1v2h-1zM317 424h1v2h-1zM318 424h1v2h-1zM319 424h1v2h-1zM320 424h1v2h-1zM321 423h1v2h-1zM322 423h1v2h-1zM323 423h1v2h-1zM324 422h1v2h-1zM325 422h1v2h-1zM326 422h1v2h-1zM327 421h1v2h-1zM328 421h1v2h-1zM329 421h1v2h-1zM330 421h1v2h-1zM331 420h1v2h-1zM332 420h1v2h-1zM333 420h1v2h-1zM334 419h1v2h-1zM335 419h1v2h-1zM336 419h1v2h-1zM337 418h1v2h-1zM338 418h1v2h-1zM339 418h1v2h-1zM340 417h1v2h-1zM341 417h1v2h-1zM342 417h1v2h-1zM343 417h1v2h-1zM344 416h1v2h-1zM345 416h1v2h-1zM346 416h1v2h-1zM347 415h1v2h-1zM348 415h1v2h-1zM349 415h1v2h-1zM350 414h1v2h-1zM351 414h1v2h-1zM352 414h1v2h-1zM353 414h1v2h-1zM354 413h1v2h-1zM355 413h1v2h-1zM356 413h1v2h-1zM357 412h1v2h-1zM358 412h1v2h-1zM359 412h1v2h-1zM360 411h1v2h-1zM361 411h1v2h-1zM362 411h1v2h-1zM363 411h1v2h-1zM364 410h1v2h-1zM365 410h1v2h-1zM366 410h1v2h-1zM367 409h1v2h-1zM368 409h1v2h-1zM369 409h1v2h-1zM370 408h1v2h-1zM371 408h1v2h-1zM372 408h1v2h-1zM373 408h1v2h-1zM374 407h1v2h-1zM375 407h1v2h-1zM376 407h1v2h-1zM377 406h1v2h-1zM378 406h1v2h-1zM379 406h1v2h-1zM380 405h1v2h-1zM381 405h1v2h-1zM382 405h1v2h-1zM383 405h1v2h-1zM384 404h1v2h-1zM385 404h1v2h-1zM386 404h1v2h-1zM387 403h1v2h-1zM388 403h1v2h-1zM389 403h1v2h-1zM390 402h1v2h-1zM391 402h1v2h-1zM392 402h1v2h-1zM393 401h1v2h-1zM394 401h1v2h-1zM395 401h1v2h-1zM396 401h1v2h-1zM397 400h1v2h-1zM398 400h1v2h-1zM399 400h1v2h-1zM400 399h1v2h-1zM401 399h1v2h-1zM402 399h1v2h-1zM403 398h1v2h-1zM404 398h1v2h-1zM405 398h1v2h-1zM406 398h1v2h-1zM407 397h1v2h-1zM408 397h1v2h-1zM409 397h1v2h-1zM410 396h1v2h-1zM411 396h1v2h-1zM412 396h1v2h-1zM413 395h1v2h-1zM414 395h1v2h-1zM415 395h1v2h-1zM416 395h1v2h-1zM417 394h1v2h-1zM418 394h1v2h-1zM419 394h1v2h-1zM420 393h1v2h-1zM421 393h1v2h-1zM422 393h1v2h-1zM423 392h1v2h-1zM424 392h1v2h-1zM425 392h1v2h-1zM426 392h1v2h-1zM427 391h1v2h-1zM428 391h1v2h-1zM429 391h1v2h-1zM430 390h1v2h-1zM431 390h1v2h-1zM432 390h1v2h-1zM433 389h1v2h-1zM434 389h1v2h-1zM435 389h1v2h-1zM436 388h1v2h-1zM437 388h1v2h-1zM438 388h1v2h-1zM439 388h1v2h-1zM440 387h1v2h-1zM441 387h1v2h-1zM442 387h1v2h-1zM443 386h1v2h-1zM444 386h1v2h-1zM445 386h1v2h-1zM446 385h1v2h-1zM447 385h1v2h-1zM448 385h1v2h-1zM449 385h1v2h-1zM450 384h1v2h-1zM451 384h1v2h-1zM452 384h1v2h-1zM453 383h1v2h-1zM454 383h1v2h-1zM455 383h1v2h-1zM456 382h1v2h-1zM457 382h1v2h-1zM458 382h1v2h-1zM459 382h1v2h-1zM460 381h1v2h-1zM461 381h1v2h-1zM462 381h1v2h-1zM463 380h1v2h-1zM464 380h1v2h-1zM465 380h1v2h-1zM466 379h1v2h-1zM467 379h1v2h-1zM468 379h1v2h-1zM469 379h1v2h-1zM470 378h1v2h-1zM471 378h1v2h-1zM472 378h1v2h-1zM473 377h1v2h-1zM474 377h1v2h-1zM475 377h1v2h-1zM476 376h1v2h-1zM477 376h1v2h-1zM478 376h1v2h-1zM479 376h1v2h-1zM480 375h1v2h-1zM481 375h1v2h-1zM482 375h1v2h-1zM483 374h1v2h-1zM484 374h1v2h-1zM485 374h1v2h-1zM486 373h1v2h-1zM487 373h1v2h-1zM488 373h1v2h-1zM489 372h1v2h-1zM490 372h1v2h-1zM491 372h1v2h-1zM492 372h1v2h-1zM493 371h1v2h-1zM494 371h1v2h-1zM495 371h1v2h-1zM496 370h1v2h-1zM497 370h1v2h-1zM498 370h1v2h-1zM499 369h1v2h-1zM500 369h1v2h-1zM501 369h1v2h-1zM502 369h1v2h-1zM503 368h1v2h-1zM504 368h1v2h-1zM505 368h1v2h-1zM506 367h1v2h-1zM507 367h1v2h-1zM508 367h1v2h-1zM509 366h1v2h-1zM510 366h1v2h-1zM511 366h1v2h-1zM512 366h1v2h-1zM513 365h1v2h-1zM514 365h1v2h-1zM515 365h1v2h-1zM516 364h1v2h-1zM517 364h1v2h-1zM518 364h1v2h-1zM519 363h1v2h-1zM520 363h1v2h-1zM521 363h1v2h-1zM522 363h1v2h-1zM523 362h1v2h-1zM524 362h1v2h-1zM525 362h1v2h-1zM526 361h1v2h-1zM527 361h1v2h-1zM528 361h1v2h-1zM529 360h1v2h-1zM530 360h1v2h-1zM531 360h1v2h-1zM532 359h1v2h-1zM533 359h1v2h-1zM534 359h1v2h-1zM535 359h1v2h-1zM536 358h1v2h-1zM537 358h1v2h-1zM538 358h1v2h-1zM539 357h1v2h-1zM540 357h1v2h-1zM541 357h1v2h-1zM542 356h1v2h-1zM543 356h1v2h-1zM544 356h1v2h-1zM545 356h1v2h-1zM546 355h1v2h-1zM547 355h1v2h-1zM548 355h1v2h-1zM549 354h1v2h-1zM550 354h1v2h-1zM551 354h1v2h-1zM552 353h1v2h-1zM553 353h1v2h-1zM554 353h1v2h-1zM555 353h1v2h-1zM556 352h1v2h-1zM557 352h1v2h-1zM558 352h1v2h-1zM559 351h1v2h-1zM560 351h1v2h-1zM561 351h1v2h-1zM562 350h1v2h-1zM563 350h1v2h-1zM564 350h1v2h-1zM565 350h1v2h-1zM566 349h1v2h-1zM567 349h1v2h-1zM568 349h1v2h-1zM569 348h1v2h-1zM570 348h1v2h-1zM571 348h1v2h-1zM572 347h1v2h-1zM573 347h1v2h-1zM574 347h1v2h-1zM575 346h1v2h-1zM576 346h1v2h-1zM577 346h1v2h-1zM578 346h1v2h-1zM579 345h1v2h-1zM580 345h1v2h-1zM581 345h1v2h-1zM582 344h1v2h-1zM583 344h1v2h-1zM584 344h1v2h-1zM585 343h1v2h-1zM586 343h1v2h-1zM587 343h1v2h-1zM588 343h1v2h-1zM589 342h1v2h-1zM590 342h1v2h-1zM591 342h1v2h-1zM592 341h1v2h-1zM593 341h1v2h-1zM594 341h1v2h-1zM595 340h1v2h-1zM596 340h1v2h-1zM597 340h1v2h-1zM598 340h1v2h-1zM599 339h1v2h-1zM600 339h1v2h-1zM601 339h1v2h-1zM602 338h1v2h-1zM603 338h1v2h-1zM604 338h1v2h-1zM605 337h1v2h-1zM606 337h1v2h-1zM607 337h1v2h-1zM608 337h1v2h-1zM609 336h1v2h-1zM610 336h1v2h-1zM611 336h1v2h-1zM612 335h1v2h-1zM613 335h1v2h-1zM614 335h1v2h-1zM615 334h1v2h-1zM616 334h1v2h-1zM617 334h1v2h-1zM618 334h1v2h-1zM619 333h1v2h-1zM620 333h1v2h-1zM621 333h1v2h-1zM622 332h1v2h-1zM623 332h1v2h-1zM624 332h1v2h-1zM625 331h1v2h-1zM626 331h1v2h-1zM627 331h1v2h-1zM628 330h1v2h-1zM629 330h1v2h-1zM630 330h1v2h-1zM631 330h1v2h-1zM632 329h1v2h-1zM633 329h1v2h-1zM634 329h1v2h-1zM635 328h1v2h-1zM636 328h1v2h-1zM637 328h1v2h-1zM638 327h1v2h-1zM639 327h1v2h-1zM640 327h1v2h-1zM641 327h1v2h-1zM642 326h1v2h-1zM643 326h1v2h-1zM644 326h1v2h-1zM645 325h1v2h-1zM646 325h1v2h-1zM647 325h1v2h-1zM648 324h1v2h-1zM649 324h1v2h-1zM650 324h1v2h-1zM651 324h1v2h-1zM652 323h1v2h-1zM653 323h1v2h-1zM654 323h1v2h-1zM655 322h1v2h-1zM656 322h1v2h-1zM657 322h1v2h-1zM658 321h1v2h-1zM659 321h1v2h-1zM660 321h1v2h-1zM661 321h1v2h-1zM662 320h1v2h-1zM663 320h1v2h-1zM664 320h1v2h-1zM665 319h1v2h-1zM666 319h1v2h-1zM667 319h1v2h-1zM668 318h1v2h-1zM669 318h1v2h-1zM670 318h1v2h-1zM671 317h1v2h-1zM672 317h1v2h-1zM673 317h1v2h-1zM674 317h1v2h-1zM675 316h1v2h-1zM676 316h1v2h-1zM677 316h1v2h-1zM678 315h1v2h-1zM679 315h1v2h-1zM680 315h1v2h-1zM681 314h1v2h-1zM682 314h1v2h-1zM683 314h1v2h-1zM684 314h1v2h-1zM685 313h1v2h-1zM686 313h1v2h-1zM687 313h1v2h-1zM688 312h1v2h-1zM689 312h1v2h-1zM690 312h1v2h-1zM691 311h1v2h-1zM692 311h1v2h-1zM693 311h1v2h-1zM694 311h1v2h-1zM695 310h1v2h-1zM696 310h1v2h-1zM697 310h1v2h-1zM698 309h1v2h-1zM699 309h1v2h-1zM700 309h1v2h-1zM701 308h1v2h-1zM702 308h1v2h-1zM703 308h1v2h-1zM704 308h1v2h-1zM705 307h1v2h-1zM706 307h1v2h-1zM707 307h1v2h-1zM708 306h1v2h-1zM709 306h1v2h-1zM710 306h1v2h-1zM711 305h1v2h-1zM712 305h1v2h-1zM713 305h1v2h-1zM714 305h1v2h-1zM715 304h1v2h-1zM716 304h1v2h-1zM717 304h1v2h-1zM718 303h1v2h-1zM719 303h1v2h-1zM720 303h1v2h-1zM721 302h1v2h-1zM722 302h1v2h-1zM723 302h1v2h-1zM724 301h1v2h-1zM725 301h1v2h-1zM726 301h1v2h-1zM727 301h1v2h-1zM728 300h1v2h-1zM729 300h1v2h-1zM730 300h1v2h-1zM731 299h1v2h-1zM732 299h1v2h-1zM733 299h1v2h-1zM734 298h1v2h-1zM735 298h1v2h-1zM736 298h1v2h-1zM737 298h1v2h-1zM738 297h1v2h-1zM739 297h1v2h-1zM740 297h1v2h-1zM741 296h1v2h-1zM742 296h1v2h-1zM743 296h1v2h-1zM744 295h1v2h-1zM745 295h1v2h-1zM746 295h1v2h-1zM747 295h1v2h-1zM748 294h1v2h-1zM749 294h1v2h-1zM750 294h1v2h-1zM751 293h1v2h-1zM752 293h1v2h-1zM753 293h1v2h-1zM754 292h1v2h-1zM755 292h1v2h-1zM756 292h1v2h-1zM757 292h1v2h-1zM758 291h1v2h-1zM759 291h1v2h-1zM760 291h1v2h-1zM761 290h1v2h-1zM762 290h1v2h-1zM763 290h1v2h-1zM764 289h1v2h-1zM765 289h1v2h-1zM766 289h1v2h-1zM767 288h1v2h-1zM768 288h1v2h-1zM769 288h1v2h-1zM770 288h1v2h-1zM771 287h1v2h-1zM772 287h1v2h-1zM773 287h1v2h-1zM774 286h1v2h-1zM775 286h1v2h-1zM776 286h1v2h-1zM777 285h1v2h-1zM778 285h1v2h-1zM779 285h1v2h-1zM780 285h1v2h-1zM781 284h1v2h-1zM782 284h1v2h-1zM783 284h1v2h-1zM784 283h1v2h-1zM785 283h1v2h-1zM786 283h1v2h-1zM787 282h1v2h-1zM788 282h1v2h-1zM789 282h1v2h-1zM790 282h1v2h-1zM791 281h1v2h-1zM792 281h1v2h-1zM793 281h1v2h-1zM794 280h1v2h-1zM795 280h1v2h-1zM796 280h1v2h-1zM797 279h1v2h-1zM798 279h1v2h-1zM799 279h1v2h-1zM800 279h1v2h-1zM801 278h1v2h-1zM802 278h1v2h-1zM803 278h1v2h-1zM804 277h1v2h-1zM805 277h1v2h-1zM806 277h1v2h-1zM807 276h1v2h-1zM808 276h1v2h-1zM809 276h1v2h-1zM810 275h1v2h-1zM811 275h1v2h-1zM812 275h1v2h-1zM813 275h1v2h-1zM814 274h1v2h-1zM815 274h1v2h-1zM816 274h1v2h-1zM817 273h1v2h-1zM818 273h1v2h-1zM819 273h1v2h-1zM820 272h1v2h-1zM821 272h1v2h-1zM822 272h1v2h-1zM823 272h1v2h-1zM824 271h1v2h-1zM825 271h1v2h-1zM826 271h1v2h-1zM827 270h1v2h-1zM828 270h1v2h-1zM829 270h1v2h-1zM830 269h1v2h-1zM831 269h1v2h-1zM832 269h1v2h-1zM833 269h1v2h-1zM834 268h1v2h-1zM835 268h1v2h-1zM836 268h1v2h-1zM837 267h1v2h-1zM838 267h1v2h-1zM839 267h1v2h-1zM840 266h1v2h-1zM841 266h1v2h-1zM842 266h1v2h-1zM843 266h1v2h-1zM844 265h1v2h-1zM845 265h1v2h-1zM846 265h1v2h-1zM847 264h1v2h-1zM848 264h1v2h-1zM849 264h1v2h-1zM850 263h1v2h-1zM851 263h1v2h-1zM852 263h1v2h-1zM853 263h1v2h-1zM854 262h1v2h-1zM855 262h1v2h-1zM856 262h1v2h-1zM857 261h1v2h-1zM858 261h1v2h-1zM859 261h1v2h-1zM860 260h1v2h-1zM861 260h1v2h-1zM862 260h1v2h-1zM863 259h1v2h-1zM864 259h1v2h-1zM865 259h1v2h-1zM866 259h1v2h-1zM867 258h1v2h-1zM868 258h1v2h-1zM869 258h1v2h-1zM870 257h1v2h-1zM871 257h1v2h-1zM872 257h1v2h-1zM873 256h1v2h-1zM874 256h1v2h-1zM875 256h1v2h-1zM876 256h1v2h-1zM877 255h1v2h-1zM878 255h1v2h-1zM879 255h1v2h-1zM880 254h1v2h-1zM881 254h1v2h-1zM882 254h1v2h-1zM883 253h1v2h-1zM884 253h1v2h-1zM885 253h1v2h-1zM886 253h1v2h-1zM887 252h1v2h-1zM888 252h1v2h-1zM889 252h1v2h-1zM890 251h1v2h-1zM891 251h1v2h-1zM892 251h1v2h-1zM893 250h1v2h-1zM894 250h1v2h-1zM895 250h1v2h-1zM896 250h1v2h-1zM897 249h1v2h-1zM898 249h1v2h-1zM899 249h1v2h-1zM900 248h1v2h-1zM901 248h1v2h-1zM902 248h1v2h-1zM903 247h1v2h-1zM904 247h1v2h-1zM905 247h1v2h-1zM906 246h1v2h-1zM907 246h1v2h-1zM908 246h1v2h-1zM909 246h1v2h-1zM910 245h1v2h-1zM911 245h1v2h-1zM912 245h1v2h-1zM913 244h1v2h-1zM914 244h1v2h-1zM915 244h1v2h-1zM916 243h1v2h-1zM917 243h1v2h-1zM918 243h1v2h-1zM919 243h1v2h-1zM920 242h1v2h-1zM921 242h1v2h-1zM922 242h1v2h-1zM923 241h1v2h-1zM924 241h1v2h-1zM925 241h1v2h-1zM926 240h1v2h-1zM927 240h1v2h-1zM928 240h1v2h-1zM929 240h1v2h-1zM930 239h1v2h-1zM931 239h1v2h-1zM932 239h1v2h-1zM933 238h1v2h-1zM934 238h1v2h-1zM935 238h1v2h-1zM936 237h1v2h-1zM937 237h1v2h-1zM938 237h1v2h-1zM939 237h1v2h-1zM940 236h1v2h-1zM941 236h1v2h-1zM942 236h1v2h-1zM943 235h1v2h-1zM944 235h1v2h-1zM945 235h1v2h-1zM946 234h1v2h-1zM947 234h1v2h-1zM948 234h1v2h-1zM949 233h1v2h-1zM950 233h1v2h-1zM951 233h1v2h-1zM952 233h1v2h-1zM953 232h1v2h-1zM954 232h1v2h-1zM955 232h1v2h-1zM956 231h1v2h-1zM957 231h1v2h-1zM958 231h1v2h-1zM959 230h1v2h-1zM960 230h1v2h-1zM961 230h1v2h-1zM962 230h1v2h-1zM963 229h1v2h-1zM964 229h1v2h-1zM965 229h1v2h-1zM966 228h1v2h-1zM967 228h1v2h-1zM968 228h1v2h-1zM969 227h1v2h-1zM970 227h1v2h-1zM971 227h1v2h-1zM972 227h1v2h-1zM973 226h1v2h-1zM974 226h1v2h-1zM975 226h1v2h-1zM976 225h1v2h-1zM977 225h1v2h-1zM978 225h1v2h-1zM979 224h1v2h-1zM980 224h1v2h-1zM981 224h1v2h-1zM982 224h1v2h-1zM983 223h1v2h-1zM984 223h1v2h-1zM985 223h1v2h-1zM986 222h1v2h-1zM987 222h1v2h-1zM988 222h1v2h-1zM989 221h1v2h-1zM990 221h1v2h-1zM991 221h1v2h-1zM992 221h1v2h-1zM993 220h1v2h-1zM994 220h1v2h-1zM995 220h1v2h-1zM996 219h1v2h-1zM997 219h1v2h-1zM998 219h1v2h-1zM999 218h1v2h-1zM1000 218h1v2h-1zM1001 218h1v2h-1zM1002 217h1v2h-1zM1003 217h1v2h-1zM1004 217h1v2h-1zM1005 217h1v2h-1zM1006 216h1v2h-1zM1007 216h1v2h-1zM1008 216h1v2h-1zM1009 215h1v2h-1zM1010 215h1v2h-1zM1011 215h1v2h-1zM1012 214h1v2h-1zM1013 214h1v2h-1zM1014 214h1v2h-1zM1015 214h1v2h-1zM1016 213h1v2h-1zM1017 213h1v2h-1zM1018 213h1v2h-1zM1019 212h1v2h-1zM1020 212h1v2h-1zM1021 212h1v2h-1zM1022 211h1v2h-1zM1023 211h1v2h-1zM1024 211h1v2h-1zM1025 211h1v2h-1zM1026 210h1v2h-1zM1027 210h1v2h-1zM1028 210h1v2h-1zM1029 209h1v2h-1zM1030 209h1v2h-1zM1031 209h1v2h-1zM1032 208h1v2h-1zM1033 208h1v2h-1zM1034 208h1v2h-1zM1035 208h1v2h-1zM1036 207h1v2h-1zM1037 207h1v2h-1zM1038 207h1v2h-1zM1039 206h1v2h-1zM1040 206h1v2h-1zM1041 206h1v2h-1zM1042 205h1v2h-1zM1043 205h1v2h-1zM1044 205h1v2h-1zM1045 204h1v2h-1zM1046 204h1v2h-1zM1047 204h1v2h-1zM1048 204h1v2h-1zM1049 203h1v2h-1zM1050 203h1v2h-1zM1051 203h1v2h-1z" fill="#0000FF"/>
<path d="M2 2h1453v1h-1453zM2 459h1453v1h-1453zM2 2h1v458h-1zM1454 2h1v458h-1zM2 461h1453v1h-1453zM2 605h1453v1h-1453zM2 461h1v145h-1zM1454 461h1v145h-1zM2 607h1453v1h-1453zM2 746h1453v1h-1453zM2 607h1v140h-1zM1454 607h1v140h-1zM1455 22h2v1h-2zM1455 56h2v1h-2zM1455 89h2v1h-2zM1455 122h2v1h-2zM1455 156h2v1h-2zM1455 189h2v1h-2zM1455 222h2v1h-2zM1455 256h2v1h-2zM1455 289h2v1h-2zM1455 322h2v1h-2zM1455 356h2v1h-2zM1455 389h2v1h-2zM1455 422h2v1h-2zM1455 456h2v1h-2zM1455 463h2v1h-2zM1455 543h2v1h-2zM1455 604h2v1h-2zM1455 609h2v1h-2zM1455 681h2v1h-2zM1455 745h2v1h-2zM3 747h1v3h-1zM67 747h1v3h-1zM131 747h1v3h-1zM195 747h1v3h-1zM259 747h1v3h-1zM323 747h1v3h-1zM387 747h1v3h-1zM451 747h1v3h-1zM515 747h1v3h-1zM579 747h1v3h-1zM643 747h1v3h-1zM707 747h1v3h-1zM771 747h1v3h-1zM835 747h1v3h-1zM899 747h1v3h-1z" fill="#000"/>
<path d="M6 10h7l-3.5 3.5z" fill="#000" shape-rendering="geometricPrecision"/>
<text transform="translate(18 14) scale(0.9899 1)" font-size="9.9" fill="#000" stroke="#000" stroke-width="0.12">#CL,H4</text>
<text transform="translate(57 14) scale(0.9495 1)" font-size="9.9" fill="#000" stroke="#000" stroke-width="0.12">44.59 44.79 44.59 44.59</text>
<text transform="translate(7.5 474) scale(0.9798 1)" font-size="9.9" fill="#000" stroke="#000" stroke-width="0.12">AO -0.776</text>
<text transform="translate(7 620) scale(0.9495 1)" font-size="9.9" fill="#000" stroke="#000" stroke-width="0.12">OsMA(36,72,27) -0.4017</text>
<text transform="translate(1460 26) scale(0.9242 1)" font-size="9.9" fill="#000" stroke="#000" stroke-width="0.12">48.35</text>
<text transform="translate(1460 60) scale(0.9242 1)" font-size="9.9" fill="#000" stroke="#000" stroke-width="0.12">47.20</text>
<text transform="translate(1460 93) scale(0.9242 1)" font-size="9.9" fill="#000" stroke="#000" stroke-width="0.12">46.05</text>
<text transform="translate(1460 126) scale(0.9242 1)" font-size="9.9" fill="#000" stroke="#000" stroke-width="0.12">44.90</text>
<text transform="translate(1460 160) scale(0.9242 1)" font-size="9.9" fill="#000" stroke="#000" stroke-width="0.12">43.75</text>
<text transform="translate(1460 193) scale(0.9242 1)" font-size="9.9" fill="#000" stroke="#000" stroke-width="0.12">42.60</text>
<text transform="translate(1460 226) scale(0.9242 1)" font-size="9.9" fill="#000" stroke="#000" stroke-width="0.12">41.45</text>
<text transform="translate(1460 260) scale(0.9242 1)" font-size="9.9" fill="#000" stroke="#000" stroke-width="0.12">40.30</text>
<text transform="translate(1460 293) scale(0.9242 1)" font-size="9.9" fill="#000" stroke="#000" stroke-width="0.12">39.15</text>
<text transform="translate(1460 326) scale(0.9242 1)" font-size="9.9" fill="#000" stroke="#000" stroke-width="0.12">38.00</text>
<text transform="translate(1460 360) scale(0.9242 1)" font-size="9.9" fill="#000" stroke="#000" stroke-width="0.12">36.85</text>
<text transform="translate(1460 393) scale(0.9242 1)" font-size="9.9" fill="#000" stroke="#000" stroke-width="0.12">35.70</text>
<text transform="translate(1460 426) scale(0.9242 1)" font-size="9.9" fill="#000" stroke="#000" stroke-width="0.12">34.55</text>
<text transform="translate(1460 460) scale(0.9242 1)" font-size="9.9" fill="#000" stroke="#000" stroke-width="0.12">33.40</text>
<rect x="1456" y="126" width="31" height="11" fill="#000"/>
<text transform="translate(1460 135) scale(0.9242 1)" font-size="9.9" fill="#fff" stroke="#fff" stroke-width="0.12">44.59</text>
<text transform="translate(1458.5 472) scale(0.9242 1)" font-size="9.9" fill="#000" stroke="#000" stroke-width="0.12">3.153</text>
<text transform="translate(1458.5 547) scale(0.9242 1)" font-size="9.9" fill="#000" stroke="#000" stroke-width="0.12">0.00</text>
<text transform="translate(1458 602) scale(0.9242 1)" font-size="9.9" fill="#000" stroke="#000" stroke-width="0.12">-2.376</text>
<text transform="translate(1458 618) scale(0.9242 1)" font-size="9.9" fill="#000" stroke="#000" stroke-width="0.12">0.6832</text>
<text transform="translate(1458.5 685) scale(0.9242 1)" font-size="9.9" fill="#000" stroke="#000" stroke-width="0.12">0.00</text>
<text transform="translate(1458 743) scale(0.9242 1)" font-size="9.9" fill="#000" stroke="#000" stroke-width="0.12">-0.6129</text>
<text transform="translate(2.5 759) scale(0.9495 1)" font-size="9.9" fill="#000" stroke="#000" stroke-width="0.12">11 Mar 2016</text>
<text transform="translate(66.5 759) scale(0.9495 1)" font-size="9.9" fill="#000" stroke="#000" stroke-width="0.12">15 Mar 21:00</text>
<text transform="translate(130.5 759) scale(0.9495 1)" font-size="9.9" fill="#000" stroke="#000" stroke-width="0.12">18 Mar 13:00</text>
<text transform="translate(194.5 759) scale(0.9495 1)" font-size="9.9" fill="#000" stroke="#000" stroke-width="0.12">23 Mar 05:00</text>
<text transform="translate(258.5 759) scale(0.9495 1)" font-size="9.9" fill="#000" stroke="#000" stroke-width="0.12">28 Mar 21:00</text>
<text transform="translate(322.5 759) scale(0.9495 1)" font-size="9.9" fill="#000" stroke="#000" stroke-width="0.12">31 Mar 13:00</text>
<text transform="translate(386.5 759) scale(0.9495 1)" font-size="9.9" fill="#000" stroke="#000" stroke-width="0.12">5 Apr 05:00</text>
<text transform="translate(450.5 759) scale(0.9495 1)" font-size="9.9" fill="#000" stroke="#000" stroke-width="0.12">7 Apr 21:00</text>
<text transform="translate(514.5 759) scale(0.9495 1)" font-size="9.9" fill="#000" stroke="#000" stroke-width="0.12">12 Apr 13:00</text>
<text transform="translate(578.5 759) scale(0.9495 1)" font-size="9.9" fill="#000" stroke="#000" stroke-width="0.12">15 Apr 05:00</text>
<text transform="translate(642.5 759) scale(0.9495 1)" font-size="9.9" fill="#000" stroke="#000" stroke-width="0.12">19 Apr 21:00</text>
<text transform="translate(706.5 759) scale(0.9495 1)" font-size="9.9" fill="#000" stroke="#000" stroke-width="0.12">22 Apr 13:00</text>
<text transform="translate(770.5 759) scale(0.9495 1)" font-size="9.9" fill="#000" stroke="#000" stroke-width="0.12">27 Apr 05:00</text>
<text transform="translate(834.5 759) scale(0.9495 1)" font-size="9.9" fill="#000" stroke="#000" stroke-width="0.12">29 Apr 21:00</text>
<text transform="translate(898.5 759) scale(0.9495 1)" font-size="9.9" fill="#000" stroke="#000" stroke-width="0.12">4 May 13:00</text>
<text transform="translate(963 38) scale(0.9444 1)" font-size="9.9" fill="#000" stroke="#000" stroke-width="0.12">R2 48.12</text>
<text transform="translate(963 85) scale(0.9444 1)" font-size="9.9" fill="#000" stroke="#000" stroke-width="0.12">R1 46.49</text>
<text transform="translate(963 114) scale(0.9444 1)" font-size="9.9" fill="#000" stroke="#000" stroke-width="0.12">S1 45.49</text>
<text transform="translate(963 161) scale(0.9444 1)" font-size="9.9" fill="#000" stroke="#000" stroke-width="0.12">S2 43.86</text>
<text transform="translate(963 209) scale(0.9444 1)" font-size="9.9" fill="#000" stroke="#000" stroke-width="0.12">S3 42.23</text>
<text transform="translate(963 238) scale(0.9444 1)" font-size="9.9" fill="#000" stroke="#000" stroke-width="0.12">S4 41.23</text>
<text transform="translate(963 285) scale(0.9444 1)" font-size="9.9" fill="#000" stroke="#000" stroke-width="0.12">S5 39.60</text>

<defs>
<linearGradient id="wg" x1="0" y1="0" x2="0" y2="1">
<stop offset="0" stop-color="#D92727" stop-opacity="0.68"/>
<stop offset="1" stop-color="#C02626" stop-opacity="0.70"/>
</linearGradient>
<filter id="blur" x="-10%" y="-30%" width="120%" height="160%"><feGaussianBlur stdDeviation="1.6"/></filter>
<clipPath id="outside"><path clip-rule="evenodd" d="M0 700H300V767H0Z M17 716H244V753H17Z"/></clipPath>
<filter id="ts" x="-10%" y="-10%" width="120%" height="130%"><feGaussianBlur in="SourceAlpha" stdDeviation="0.6"/><feOffset dx="1" dy="1"/><feComponentTransfer><feFuncA type="linear" slope="0.45"/></feComponentTransfer><feMerge><feMergeNode/><feMergeNode in="SourceGraphic"/></feMerge></filter>
</defs>
<g clip-path="url(#outside)"><rect x="19" y="718" width="228" height="38" fill="#000" fill-opacity="0.28" filter="url(#blur)"/></g>
<rect x="17" y="716" width="227" height="37" fill="url(#wg)"/>
<path d="M17 716h227v1h-227z M243 717h1v36h-1z" fill="#ffffff" fill-opacity="0.12"/>
<g filter="url(#ts)" fill="#fff" font-family="Liberation Sans, sans-serif">
<text x="28.5" y="741" font-size="22">[</text>
<text x="45" y="742" font-size="22" textLength="148" lengthAdjust="spacingAndGlyphs">www.instaforex</text>
<text x="194" y="742" font-size="16" textLength="28" lengthAdjust="spacingAndGlyphs">.com</text>
<text x="226" y="742" font-size="16">]</text>
</g>
</svg></body></html>
